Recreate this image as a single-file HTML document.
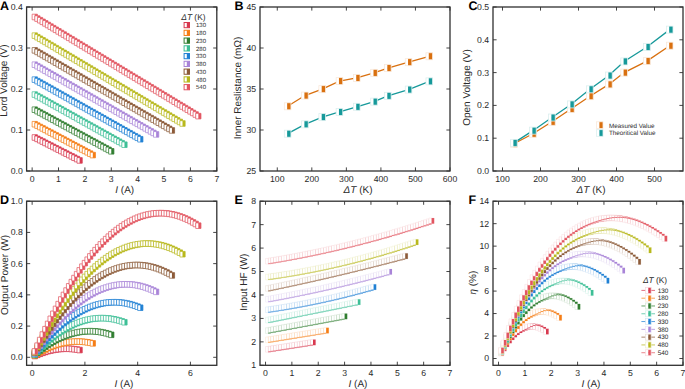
<!DOCTYPE html>
<html><head><meta charset="utf-8"><style>
html,body{margin:0;padding:0;background:#fff;width:685px;height:389px;overflow:hidden}
svg{display:block}
text{font-family:"Liberation Sans",sans-serif;fill:#2a2a2a;text-rendering:geometricPrecision}
.tk{font-size:8.7px}
.at{font-size:10px}
.pl{font-size:12.5px;font-weight:bold;fill:#000}
.lg{font-size:6px}
.lg8{font-size:8.4px}
.lg6{font-size:6.4px}
.lgc{font-size:6.3px}
.a0o{fill:#fff;stroke:#d8394f;stroke-width:0.72px}.a0c{fill:#d8394f}.e0o{fill:#fff;stroke:#f7d7db;stroke-width:0.5px}.e0c{fill:#d8394f}.a1o{fill:#fff;stroke:#f57d15;stroke-width:0.72px}.a1c{fill:#f57d15}.e1o{fill:#fff;stroke:#fde5d0;stroke-width:0.5px}.e1c{fill:#f57d15}.a2o{fill:#fff;stroke:#2f7d2f;stroke-width:0.72px}.a2c{fill:#2f7d2f}.e2o{fill:#fff;stroke:#d5e5d5;stroke-width:0.5px}.e2c{fill:#2f7d2f}.a3o{fill:#fff;stroke:#3dbf96;stroke-width:0.72px}.a3c{fill:#3dbf96}.e3o{fill:#fff;stroke:#d8f2ea;stroke-width:0.5px}.e3c{fill:#3dbf96}.a4o{fill:#fff;stroke:#1f80d4;stroke-width:0.72px}.a4c{fill:#1f80d4}.e4o{fill:#fff;stroke:#d2e5f6;stroke-width:0.5px}.e4c{fill:#1f80d4}.a5o{fill:#fff;stroke:#a984d8;stroke-width:0.72px}.a5c{fill:#a984d8}.e5o{fill:#fff;stroke:#ede6f7;stroke-width:0.5px}.e5c{fill:#a984d8}.a6o{fill:#fff;stroke:#8c5a38;stroke-width:0.72px}.a6c{fill:#8c5a38}.e6o{fill:#fff;stroke:#e8ded7;stroke-width:0.5px}.e6c{fill:#8c5a38}.a7o{fill:#fff;stroke:#b8b81c;stroke-width:0.72px}.a7c{fill:#b8b81c}.e7o{fill:#fff;stroke:#f0f0d1;stroke-width:0.5px}.e7c{fill:#b8b81c}.a8o{fill:#fff;stroke:#e25560;stroke-width:0.72px}.a8c{fill:#e25560}.e8o{fill:#fff;stroke:#f9dddf;stroke-width:0.5px}.e8c{fill:#e25560}
</style></head><body>
<svg width="685" height="389" viewBox="0 0 685 389"><rect width="685" height="389" fill="#fff"/><text x="0.1" y="10.0" class="pl">A</text><text x="234.4" y="10.0" class="pl">B</text><text x="468.4" y="10.0" class="pl">C</text><text x="0.1" y="204.4" class="pl">D</text><text x="234.4" y="204.4" class="pl">E</text><text x="468.4" y="204.4" class="pl">F</text><rect x="26.6" y="7" width="190.2" height="164" fill="none" stroke="#303030" stroke-width="1.3"/><path d="M32.14 171v-3.6M32.14 7v3.6M58.52 171v-3.6M58.52 7v3.6M84.9 171v-3.6M84.9 7v3.6M111.28 171v-3.6M111.28 7v3.6M137.66 171v-3.6M137.66 7v3.6M164.04 171v-3.6M164.04 7v3.6M190.42 171v-3.6M190.42 7v3.6M216.8 171v-3.6M216.8 7v3.6M26.6 171h3.6M216.8 171h-3.6M26.6 130h3.6M216.8 130h-3.6M26.6 89h3.6M216.8 89h-3.6M26.6 48h3.6M216.8 48h-3.6M26.6 7h3.6M216.8 7h-3.6" stroke="#303030" stroke-width="0.9" fill="none"/><text x="32.14" y="181.9" text-anchor="middle" class="tk">0</text><text x="58.52" y="181.9" text-anchor="middle" class="tk">1</text><text x="84.9" y="181.9" text-anchor="middle" class="tk">2</text><text x="111.28" y="181.9" text-anchor="middle" class="tk">3</text><text x="137.66" y="181.9" text-anchor="middle" class="tk">4</text><text x="164.04" y="181.9" text-anchor="middle" class="tk">5</text><text x="190.42" y="181.9" text-anchor="middle" class="tk">6</text><text x="216.8" y="181.9" text-anchor="middle" class="tk">7</text><text x="22.8" y="173.9" text-anchor="end" class="tk">0.0</text><text x="22.8" y="132.9" text-anchor="end" class="tk">0.1</text><text x="22.8" y="91.9" text-anchor="end" class="tk">0.2</text><text x="22.8" y="50.9" text-anchor="end" class="tk">0.3</text><text x="22.8" y="9.9" text-anchor="end" class="tk">0.4</text><text transform="translate(6.8,80.6) rotate(-90)" text-anchor="middle" class="at">Lord Voltage (V)</text><text x="124.7" y="192.8" text-anchor="middle" class="at"><tspan font-style="italic">I</tspan> (A)</text><path class="a0o" d="M32.14 134.7h5.28v5.6h-5.28z"/><path class="a0c" d="M34.78 134.7h2.64v5.6h-2.64z"/><path class="a0o" d="M34.78 136.05h5.28v5.6h-5.28z"/><path class="a0c" d="M37.42 136.05h2.64v5.6h-2.64z"/><path class="a0o" d="M37.41 137.4h5.28v5.6h-5.28z"/><path class="a0c" d="M40.05 137.4h2.64v5.6h-2.64z"/><path class="a0o" d="M40.05 138.74h5.28v5.6h-5.28z"/><path class="a0c" d="M42.69 138.74h2.64v5.6h-2.64z"/><path class="a0o" d="M42.69 140.09h5.28v5.6h-5.28z"/><path class="a0c" d="M45.33 140.09h2.64v5.6h-2.64z"/><path class="a0o" d="M45.33 141.44h5.28v5.6h-5.28z"/><path class="a0c" d="M47.97 141.44h2.64v5.6h-2.64z"/><path class="a0o" d="M47.97 142.79h5.28v5.6h-5.28z"/><path class="a0c" d="M50.61 142.79h2.64v5.6h-2.64z"/><path class="a0o" d="M50.6 144.14h5.28v5.6h-5.28z"/><path class="a0c" d="M53.24 144.14h2.64v5.6h-2.64z"/><path class="a0o" d="M53.24 145.49h5.28v5.6h-5.28z"/><path class="a0c" d="M55.88 145.49h2.64v5.6h-2.64z"/><path class="a0o" d="M55.88 146.83h5.28v5.6h-5.28z"/><path class="a0c" d="M58.52 146.83h2.64v5.6h-2.64z"/><path class="a0o" d="M58.52 148.18h5.28v5.6h-5.28z"/><path class="a0c" d="M61.16 148.18h2.64v5.6h-2.64z"/><path class="a0o" d="M61.16 149.53h5.28v5.6h-5.28z"/><path class="a0c" d="M63.8 149.53h2.64v5.6h-2.64z"/><path class="a0o" d="M63.79 150.88h5.28v5.6h-5.28z"/><path class="a0c" d="M66.43 150.88h2.64v5.6h-2.64z"/><path class="a0o" d="M66.43 152.23h5.28v5.6h-5.28z"/><path class="a0c" d="M69.07 152.23h2.64v5.6h-2.64z"/><path class="a0o" d="M69.07 153.58h5.28v5.6h-5.28z"/><path class="a0c" d="M71.71 153.58h2.64v5.6h-2.64z"/><path class="a0o" d="M71.71 154.93h5.28v5.6h-5.28z"/><path class="a0c" d="M74.35 154.93h2.64v5.6h-2.64z"/><path class="a0o" d="M74.35 156.27h5.28v5.6h-5.28z"/><path class="a0c" d="M76.99 156.27h2.64v5.6h-2.64z"/><path class="a0o" d="M76.98 157.62h5.28v5.6h-5.28z"/><path class="a0c" d="M79.62 157.62h2.64v5.6h-2.64z"/><path class="a1o" d="M32.14 121.43h5.28v5.6h-5.28z"/><path class="a1c" d="M34.78 121.43h2.64v5.6h-2.64z"/><path class="a1o" d="M34.78 122.83h5.28v5.6h-5.28z"/><path class="a1c" d="M37.42 122.83h2.64v5.6h-2.64z"/><path class="a1o" d="M37.41 124.23h5.28v5.6h-5.28z"/><path class="a1c" d="M40.05 124.23h2.64v5.6h-2.64z"/><path class="a1o" d="M40.05 125.63h5.28v5.6h-5.28z"/><path class="a1c" d="M42.69 125.63h2.64v5.6h-2.64z"/><path class="a1o" d="M42.69 127.04h5.28v5.6h-5.28z"/><path class="a1c" d="M45.33 127.04h2.64v5.6h-2.64z"/><path class="a1o" d="M45.33 128.44h5.28v5.6h-5.28z"/><path class="a1c" d="M47.97 128.44h2.64v5.6h-2.64z"/><path class="a1o" d="M47.97 129.84h5.28v5.6h-5.28z"/><path class="a1c" d="M50.61 129.84h2.64v5.6h-2.64z"/><path class="a1o" d="M50.6 131.24h5.28v5.6h-5.28z"/><path class="a1c" d="M53.24 131.24h2.64v5.6h-2.64z"/><path class="a1o" d="M53.24 132.64h5.28v5.6h-5.28z"/><path class="a1c" d="M55.88 132.64h2.64v5.6h-2.64z"/><path class="a1o" d="M55.88 134.05h5.28v5.6h-5.28z"/><path class="a1c" d="M58.52 134.05h2.64v5.6h-2.64z"/><path class="a1o" d="M58.52 135.45h5.28v5.6h-5.28z"/><path class="a1c" d="M61.16 135.45h2.64v5.6h-2.64z"/><path class="a1o" d="M61.16 136.85h5.28v5.6h-5.28z"/><path class="a1c" d="M63.8 136.85h2.64v5.6h-2.64z"/><path class="a1o" d="M63.79 138.25h5.28v5.6h-5.28z"/><path class="a1c" d="M66.43 138.25h2.64v5.6h-2.64z"/><path class="a1o" d="M66.43 139.66h5.28v5.6h-5.28z"/><path class="a1c" d="M69.07 139.66h2.64v5.6h-2.64z"/><path class="a1o" d="M69.07 141.06h5.28v5.6h-5.28z"/><path class="a1c" d="M71.71 141.06h2.64v5.6h-2.64z"/><path class="a1o" d="M71.71 142.46h5.28v5.6h-5.28z"/><path class="a1c" d="M74.35 142.46h2.64v5.6h-2.64z"/><path class="a1o" d="M74.35 143.86h5.28v5.6h-5.28z"/><path class="a1c" d="M76.99 143.86h2.64v5.6h-2.64z"/><path class="a1o" d="M76.98 145.26h5.28v5.6h-5.28z"/><path class="a1c" d="M79.62 145.26h2.64v5.6h-2.64z"/><path class="a1o" d="M79.62 146.67h5.28v5.6h-5.28z"/><path class="a1c" d="M82.26 146.67h2.64v5.6h-2.64z"/><path class="a1o" d="M82.26 148.07h5.28v5.6h-5.28z"/><path class="a1c" d="M84.9 148.07h2.64v5.6h-2.64z"/><path class="a1o" d="M84.9 149.47h5.28v5.6h-5.28z"/><path class="a1c" d="M87.54 149.47h2.64v5.6h-2.64z"/><path class="a1o" d="M87.54 150.87h5.28v5.6h-5.28z"/><path class="a1c" d="M90.18 150.87h2.64v5.6h-2.64z"/><path class="a1o" d="M90.17 152.28h5.28v5.6h-5.28z"/><path class="a1c" d="M92.81 152.28h2.64v5.6h-2.64z"/><path class="a2o" d="M32.14 106.9h5.28v5.6h-5.28z"/><path class="a2c" d="M34.78 106.9h2.64v5.6h-2.64z"/><path class="a2o" d="M34.78 108.34h5.28v5.6h-5.28z"/><path class="a2c" d="M37.42 108.34h2.64v5.6h-2.64z"/><path class="a2o" d="M37.41 109.77h5.28v5.6h-5.28z"/><path class="a2c" d="M40.05 109.77h2.64v5.6h-2.64z"/><path class="a2o" d="M40.05 111.21h5.28v5.6h-5.28z"/><path class="a2c" d="M42.69 111.21h2.64v5.6h-2.64z"/><path class="a2o" d="M42.69 112.64h5.28v5.6h-5.28z"/><path class="a2c" d="M45.33 112.64h2.64v5.6h-2.64z"/><path class="a2o" d="M45.33 114.08h5.28v5.6h-5.28z"/><path class="a2c" d="M47.97 114.08h2.64v5.6h-2.64z"/><path class="a2o" d="M47.97 115.51h5.28v5.6h-5.28z"/><path class="a2c" d="M50.61 115.51h2.64v5.6h-2.64z"/><path class="a2o" d="M50.6 116.94h5.28v5.6h-5.28z"/><path class="a2c" d="M53.24 116.94h2.64v5.6h-2.64z"/><path class="a2o" d="M53.24 118.38h5.28v5.6h-5.28z"/><path class="a2c" d="M55.88 118.38h2.64v5.6h-2.64z"/><path class="a2o" d="M55.88 119.81h5.28v5.6h-5.28z"/><path class="a2c" d="M58.52 119.81h2.64v5.6h-2.64z"/><path class="a2o" d="M58.52 121.25h5.28v5.6h-5.28z"/><path class="a2c" d="M61.16 121.25h2.64v5.6h-2.64z"/><path class="a2o" d="M61.16 122.68h5.28v5.6h-5.28z"/><path class="a2c" d="M63.8 122.68h2.64v5.6h-2.64z"/><path class="a2o" d="M63.79 124.11h5.28v5.6h-5.28z"/><path class="a2c" d="M66.43 124.11h2.64v5.6h-2.64z"/><path class="a2o" d="M66.43 125.55h5.28v5.6h-5.28z"/><path class="a2c" d="M69.07 125.55h2.64v5.6h-2.64z"/><path class="a2o" d="M69.07 126.98h5.28v5.6h-5.28z"/><path class="a2c" d="M71.71 126.98h2.64v5.6h-2.64z"/><path class="a2o" d="M71.71 128.42h5.28v5.6h-5.28z"/><path class="a2c" d="M74.35 128.42h2.64v5.6h-2.64z"/><path class="a2o" d="M74.35 129.85h5.28v5.6h-5.28z"/><path class="a2c" d="M76.99 129.85h2.64v5.6h-2.64z"/><path class="a2o" d="M76.98 131.29h5.28v5.6h-5.28z"/><path class="a2c" d="M79.62 131.29h2.64v5.6h-2.64z"/><path class="a2o" d="M79.62 132.72h5.28v5.6h-5.28z"/><path class="a2c" d="M82.26 132.72h2.64v5.6h-2.64z"/><path class="a2o" d="M82.26 134.15h5.28v5.6h-5.28z"/><path class="a2c" d="M84.9 134.15h2.64v5.6h-2.64z"/><path class="a2o" d="M84.9 135.59h5.28v5.6h-5.28z"/><path class="a2c" d="M87.54 135.59h2.64v5.6h-2.64z"/><path class="a2o" d="M87.54 137.02h5.28v5.6h-5.28z"/><path class="a2c" d="M90.18 137.02h2.64v5.6h-2.64z"/><path class="a2o" d="M90.17 138.46h5.28v5.6h-5.28z"/><path class="a2c" d="M92.81 138.46h2.64v5.6h-2.64z"/><path class="a2o" d="M92.81 139.89h5.28v5.6h-5.28z"/><path class="a2c" d="M95.45 139.89h2.64v5.6h-2.64z"/><path class="a2o" d="M95.45 141.32h5.28v5.6h-5.28z"/><path class="a2c" d="M98.09 141.32h2.64v5.6h-2.64z"/><path class="a2o" d="M98.09 142.76h5.28v5.6h-5.28z"/><path class="a2c" d="M100.73 142.76h2.64v5.6h-2.64z"/><path class="a2o" d="M100.73 144.19h5.28v5.6h-5.28z"/><path class="a2c" d="M103.37 144.19h2.64v5.6h-2.64z"/><path class="a2o" d="M103.36 145.63h5.28v5.6h-5.28z"/><path class="a2c" d="M106 145.63h2.64v5.6h-2.64z"/><path class="a2o" d="M106 147.06h5.28v5.6h-5.28z"/><path class="a2c" d="M108.64 147.06h2.64v5.6h-2.64z"/><path class="a2o" d="M108.64 148.5h5.28v5.6h-5.28z"/><path class="a2c" d="M111.28 148.5h2.64v5.6h-2.64z"/><path class="a3o" d="M32.14 91.77h5.28v5.6h-5.28z"/><path class="a3c" d="M34.78 91.77h2.64v5.6h-2.64z"/><path class="a3o" d="M34.78 93.25h5.28v5.6h-5.28z"/><path class="a3c" d="M37.42 93.25h2.64v5.6h-2.64z"/><path class="a3o" d="M37.41 94.72h5.28v5.6h-5.28z"/><path class="a3c" d="M40.05 94.72h2.64v5.6h-2.64z"/><path class="a3o" d="M40.05 96.2h5.28v5.6h-5.28z"/><path class="a3c" d="M42.69 96.2h2.64v5.6h-2.64z"/><path class="a3o" d="M42.69 97.67h5.28v5.6h-5.28z"/><path class="a3c" d="M45.33 97.67h2.64v5.6h-2.64z"/><path class="a3o" d="M45.33 99.15h5.28v5.6h-5.28z"/><path class="a3c" d="M47.97 99.15h2.64v5.6h-2.64z"/><path class="a3o" d="M47.97 100.62h5.28v5.6h-5.28z"/><path class="a3c" d="M50.61 100.62h2.64v5.6h-2.64z"/><path class="a3o" d="M50.6 102.09h5.28v5.6h-5.28z"/><path class="a3c" d="M53.24 102.09h2.64v5.6h-2.64z"/><path class="a3o" d="M53.24 103.57h5.28v5.6h-5.28z"/><path class="a3c" d="M55.88 103.57h2.64v5.6h-2.64z"/><path class="a3o" d="M55.88 105.04h5.28v5.6h-5.28z"/><path class="a3c" d="M58.52 105.04h2.64v5.6h-2.64z"/><path class="a3o" d="M58.52 106.52h5.28v5.6h-5.28z"/><path class="a3c" d="M61.16 106.52h2.64v5.6h-2.64z"/><path class="a3o" d="M61.16 107.99h5.28v5.6h-5.28z"/><path class="a3c" d="M63.8 107.99h2.64v5.6h-2.64z"/><path class="a3o" d="M63.79 109.47h5.28v5.6h-5.28z"/><path class="a3c" d="M66.43 109.47h2.64v5.6h-2.64z"/><path class="a3o" d="M66.43 110.94h5.28v5.6h-5.28z"/><path class="a3c" d="M69.07 110.94h2.64v5.6h-2.64z"/><path class="a3o" d="M69.07 112.42h5.28v5.6h-5.28z"/><path class="a3c" d="M71.71 112.42h2.64v5.6h-2.64z"/><path class="a3o" d="M71.71 113.89h5.28v5.6h-5.28z"/><path class="a3c" d="M74.35 113.89h2.64v5.6h-2.64z"/><path class="a3o" d="M74.35 115.36h5.28v5.6h-5.28z"/><path class="a3c" d="M76.99 115.36h2.64v5.6h-2.64z"/><path class="a3o" d="M76.98 116.84h5.28v5.6h-5.28z"/><path class="a3c" d="M79.62 116.84h2.64v5.6h-2.64z"/><path class="a3o" d="M79.62 118.31h5.28v5.6h-5.28z"/><path class="a3c" d="M82.26 118.31h2.64v5.6h-2.64z"/><path class="a3o" d="M82.26 119.79h5.28v5.6h-5.28z"/><path class="a3c" d="M84.9 119.79h2.64v5.6h-2.64z"/><path class="a3o" d="M84.9 121.26h5.28v5.6h-5.28z"/><path class="a3c" d="M87.54 121.26h2.64v5.6h-2.64z"/><path class="a3o" d="M87.54 122.74h5.28v5.6h-5.28z"/><path class="a3c" d="M90.18 122.74h2.64v5.6h-2.64z"/><path class="a3o" d="M90.17 124.21h5.28v5.6h-5.28z"/><path class="a3c" d="M92.81 124.21h2.64v5.6h-2.64z"/><path class="a3o" d="M92.81 125.68h5.28v5.6h-5.28z"/><path class="a3c" d="M95.45 125.68h2.64v5.6h-2.64z"/><path class="a3o" d="M95.45 127.16h5.28v5.6h-5.28z"/><path class="a3c" d="M98.09 127.16h2.64v5.6h-2.64z"/><path class="a3o" d="M98.09 128.63h5.28v5.6h-5.28z"/><path class="a3c" d="M100.73 128.63h2.64v5.6h-2.64z"/><path class="a3o" d="M100.73 130.11h5.28v5.6h-5.28z"/><path class="a3c" d="M103.37 130.11h2.64v5.6h-2.64z"/><path class="a3o" d="M103.36 131.58h5.28v5.6h-5.28z"/><path class="a3c" d="M106 131.58h2.64v5.6h-2.64z"/><path class="a3o" d="M106 133.06h5.28v5.6h-5.28z"/><path class="a3c" d="M108.64 133.06h2.64v5.6h-2.64z"/><path class="a3o" d="M108.64 134.53h5.28v5.6h-5.28z"/><path class="a3c" d="M111.28 134.53h2.64v5.6h-2.64z"/><path class="a3o" d="M111.28 136.01h5.28v5.6h-5.28z"/><path class="a3c" d="M113.92 136.01h2.64v5.6h-2.64z"/><path class="a3o" d="M113.92 137.48h5.28v5.6h-5.28z"/><path class="a3c" d="M116.56 137.48h2.64v5.6h-2.64z"/><path class="a3o" d="M116.55 138.95h5.28v5.6h-5.28z"/><path class="a3c" d="M119.19 138.95h2.64v5.6h-2.64z"/><path class="a3o" d="M119.19 140.43h5.28v5.6h-5.28z"/><path class="a3c" d="M121.83 140.43h2.64v5.6h-2.64z"/><path class="a3o" d="M121.83 141.9h5.28v5.6h-5.28z"/><path class="a3c" d="M124.47 141.9h2.64v5.6h-2.64z"/><path class="a4o" d="M32.14 76.83h5.28v5.6h-5.28z"/><path class="a4c" d="M34.78 76.83h2.64v5.6h-2.64z"/><path class="a4o" d="M34.78 78.32h5.28v5.6h-5.28z"/><path class="a4c" d="M37.42 78.32h2.64v5.6h-2.64z"/><path class="a4o" d="M37.41 79.81h5.28v5.6h-5.28z"/><path class="a4c" d="M40.05 79.81h2.64v5.6h-2.64z"/><path class="a4o" d="M40.05 81.3h5.28v5.6h-5.28z"/><path class="a4c" d="M42.69 81.3h2.64v5.6h-2.64z"/><path class="a4o" d="M42.69 82.79h5.28v5.6h-5.28z"/><path class="a4c" d="M45.33 82.79h2.64v5.6h-2.64z"/><path class="a4o" d="M45.33 84.28h5.28v5.6h-5.28z"/><path class="a4c" d="M47.97 84.28h2.64v5.6h-2.64z"/><path class="a4o" d="M47.97 85.77h5.28v5.6h-5.28z"/><path class="a4c" d="M50.61 85.77h2.64v5.6h-2.64z"/><path class="a4o" d="M50.6 87.26h5.28v5.6h-5.28z"/><path class="a4c" d="M53.24 87.26h2.64v5.6h-2.64z"/><path class="a4o" d="M53.24 88.75h5.28v5.6h-5.28z"/><path class="a4c" d="M55.88 88.75h2.64v5.6h-2.64z"/><path class="a4o" d="M55.88 90.24h5.28v5.6h-5.28z"/><path class="a4c" d="M58.52 90.24h2.64v5.6h-2.64z"/><path class="a4o" d="M58.52 91.73h5.28v5.6h-5.28z"/><path class="a4c" d="M61.16 91.73h2.64v5.6h-2.64z"/><path class="a4o" d="M61.16 93.22h5.28v5.6h-5.28z"/><path class="a4c" d="M63.8 93.22h2.64v5.6h-2.64z"/><path class="a4o" d="M63.79 94.71h5.28v5.6h-5.28z"/><path class="a4c" d="M66.43 94.71h2.64v5.6h-2.64z"/><path class="a4o" d="M66.43 96.2h5.28v5.6h-5.28z"/><path class="a4c" d="M69.07 96.2h2.64v5.6h-2.64z"/><path class="a4o" d="M69.07 97.69h5.28v5.6h-5.28z"/><path class="a4c" d="M71.71 97.69h2.64v5.6h-2.64z"/><path class="a4o" d="M71.71 99.18h5.28v5.6h-5.28z"/><path class="a4c" d="M74.35 99.18h2.64v5.6h-2.64z"/><path class="a4o" d="M74.35 100.67h5.28v5.6h-5.28z"/><path class="a4c" d="M76.99 100.67h2.64v5.6h-2.64z"/><path class="a4o" d="M76.98 102.16h5.28v5.6h-5.28z"/><path class="a4c" d="M79.62 102.16h2.64v5.6h-2.64z"/><path class="a4o" d="M79.62 103.65h5.28v5.6h-5.28z"/><path class="a4c" d="M82.26 103.65h2.64v5.6h-2.64z"/><path class="a4o" d="M82.26 105.14h5.28v5.6h-5.28z"/><path class="a4c" d="M84.9 105.14h2.64v5.6h-2.64z"/><path class="a4o" d="M84.9 106.63h5.28v5.6h-5.28z"/><path class="a4c" d="M87.54 106.63h2.64v5.6h-2.64z"/><path class="a4o" d="M87.54 108.12h5.28v5.6h-5.28z"/><path class="a4c" d="M90.18 108.12h2.64v5.6h-2.64z"/><path class="a4o" d="M90.17 109.61h5.28v5.6h-5.28z"/><path class="a4c" d="M92.81 109.61h2.64v5.6h-2.64z"/><path class="a4o" d="M92.81 111.1h5.28v5.6h-5.28z"/><path class="a4c" d="M95.45 111.1h2.64v5.6h-2.64z"/><path class="a4o" d="M95.45 112.59h5.28v5.6h-5.28z"/><path class="a4c" d="M98.09 112.59h2.64v5.6h-2.64z"/><path class="a4o" d="M98.09 114.08h5.28v5.6h-5.28z"/><path class="a4c" d="M100.73 114.08h2.64v5.6h-2.64z"/><path class="a4o" d="M100.73 115.57h5.28v5.6h-5.28z"/><path class="a4c" d="M103.37 115.57h2.64v5.6h-2.64z"/><path class="a4o" d="M103.36 117.06h5.28v5.6h-5.28z"/><path class="a4c" d="M106 117.06h2.64v5.6h-2.64z"/><path class="a4o" d="M106 118.56h5.28v5.6h-5.28z"/><path class="a4c" d="M108.64 118.56h2.64v5.6h-2.64z"/><path class="a4o" d="M108.64 120.05h5.28v5.6h-5.28z"/><path class="a4c" d="M111.28 120.05h2.64v5.6h-2.64z"/><path class="a4o" d="M111.28 121.54h5.28v5.6h-5.28z"/><path class="a4c" d="M113.92 121.54h2.64v5.6h-2.64z"/><path class="a4o" d="M113.92 123.03h5.28v5.6h-5.28z"/><path class="a4c" d="M116.56 123.03h2.64v5.6h-2.64z"/><path class="a4o" d="M116.55 124.52h5.28v5.6h-5.28z"/><path class="a4c" d="M119.19 124.52h2.64v5.6h-2.64z"/><path class="a4o" d="M119.19 126.01h5.28v5.6h-5.28z"/><path class="a4c" d="M121.83 126.01h2.64v5.6h-2.64z"/><path class="a4o" d="M121.83 127.5h5.28v5.6h-5.28z"/><path class="a4c" d="M124.47 127.5h2.64v5.6h-2.64z"/><path class="a4o" d="M124.47 128.99h5.28v5.6h-5.28z"/><path class="a4c" d="M127.11 128.99h2.64v5.6h-2.64z"/><path class="a4o" d="M127.11 130.48h5.28v5.6h-5.28z"/><path class="a4c" d="M129.75 130.48h2.64v5.6h-2.64z"/><path class="a4o" d="M129.74 131.97h5.28v5.6h-5.28z"/><path class="a4c" d="M132.38 131.97h2.64v5.6h-2.64z"/><path class="a4o" d="M132.38 133.46h5.28v5.6h-5.28z"/><path class="a4c" d="M135.02 133.46h2.64v5.6h-2.64z"/><path class="a4o" d="M135.02 134.95h5.28v5.6h-5.28z"/><path class="a4c" d="M137.66 134.95h2.64v5.6h-2.64z"/><path class="a4o" d="M137.66 136.44h5.28v5.6h-5.28z"/><path class="a4c" d="M140.3 136.44h2.64v5.6h-2.64z"/><path class="a5o" d="M32.14 61.89h5.28v5.6h-5.28z"/><path class="a5c" d="M34.78 61.89h2.64v5.6h-2.64z"/><path class="a5o" d="M34.78 63.4h5.28v5.6h-5.28z"/><path class="a5c" d="M37.42 63.4h2.64v5.6h-2.64z"/><path class="a5o" d="M37.41 64.92h5.28v5.6h-5.28z"/><path class="a5c" d="M40.05 64.92h2.64v5.6h-2.64z"/><path class="a5o" d="M40.05 66.43h5.28v5.6h-5.28z"/><path class="a5c" d="M42.69 66.43h2.64v5.6h-2.64z"/><path class="a5o" d="M42.69 67.95h5.28v5.6h-5.28z"/><path class="a5c" d="M45.33 67.95h2.64v5.6h-2.64z"/><path class="a5o" d="M45.33 69.46h5.28v5.6h-5.28z"/><path class="a5c" d="M47.97 69.46h2.64v5.6h-2.64z"/><path class="a5o" d="M47.97 70.98h5.28v5.6h-5.28z"/><path class="a5c" d="M50.61 70.98h2.64v5.6h-2.64z"/><path class="a5o" d="M50.6 72.5h5.28v5.6h-5.28z"/><path class="a5c" d="M53.24 72.5h2.64v5.6h-2.64z"/><path class="a5o" d="M53.24 74.01h5.28v5.6h-5.28z"/><path class="a5c" d="M55.88 74.01h2.64v5.6h-2.64z"/><path class="a5o" d="M55.88 75.53h5.28v5.6h-5.28z"/><path class="a5c" d="M58.52 75.53h2.64v5.6h-2.64z"/><path class="a5o" d="M58.52 77.04h5.28v5.6h-5.28z"/><path class="a5c" d="M61.16 77.04h2.64v5.6h-2.64z"/><path class="a5o" d="M61.16 78.56h5.28v5.6h-5.28z"/><path class="a5c" d="M63.8 78.56h2.64v5.6h-2.64z"/><path class="a5o" d="M63.79 80.08h5.28v5.6h-5.28z"/><path class="a5c" d="M66.43 80.08h2.64v5.6h-2.64z"/><path class="a5o" d="M66.43 81.59h5.28v5.6h-5.28z"/><path class="a5c" d="M69.07 81.59h2.64v5.6h-2.64z"/><path class="a5o" d="M69.07 83.11h5.28v5.6h-5.28z"/><path class="a5c" d="M71.71 83.11h2.64v5.6h-2.64z"/><path class="a5o" d="M71.71 84.62h5.28v5.6h-5.28z"/><path class="a5c" d="M74.35 84.62h2.64v5.6h-2.64z"/><path class="a5o" d="M74.35 86.14h5.28v5.6h-5.28z"/><path class="a5c" d="M76.99 86.14h2.64v5.6h-2.64z"/><path class="a5o" d="M76.98 87.65h5.28v5.6h-5.28z"/><path class="a5c" d="M79.62 87.65h2.64v5.6h-2.64z"/><path class="a5o" d="M79.62 89.17h5.28v5.6h-5.28z"/><path class="a5c" d="M82.26 89.17h2.64v5.6h-2.64z"/><path class="a5o" d="M82.26 90.69h5.28v5.6h-5.28z"/><path class="a5c" d="M84.9 90.69h2.64v5.6h-2.64z"/><path class="a5o" d="M84.9 92.2h5.28v5.6h-5.28z"/><path class="a5c" d="M87.54 92.2h2.64v5.6h-2.64z"/><path class="a5o" d="M87.54 93.72h5.28v5.6h-5.28z"/><path class="a5c" d="M90.18 93.72h2.64v5.6h-2.64z"/><path class="a5o" d="M90.17 95.23h5.28v5.6h-5.28z"/><path class="a5c" d="M92.81 95.23h2.64v5.6h-2.64z"/><path class="a5o" d="M92.81 96.75h5.28v5.6h-5.28z"/><path class="a5c" d="M95.45 96.75h2.64v5.6h-2.64z"/><path class="a5o" d="M95.45 98.26h5.28v5.6h-5.28z"/><path class="a5c" d="M98.09 98.26h2.64v5.6h-2.64z"/><path class="a5o" d="M98.09 99.78h5.28v5.6h-5.28z"/><path class="a5c" d="M100.73 99.78h2.64v5.6h-2.64z"/><path class="a5o" d="M100.73 101.3h5.28v5.6h-5.28z"/><path class="a5c" d="M103.37 101.3h2.64v5.6h-2.64z"/><path class="a5o" d="M103.36 102.81h5.28v5.6h-5.28z"/><path class="a5c" d="M106 102.81h2.64v5.6h-2.64z"/><path class="a5o" d="M106 104.33h5.28v5.6h-5.28z"/><path class="a5c" d="M108.64 104.33h2.64v5.6h-2.64z"/><path class="a5o" d="M108.64 105.84h5.28v5.6h-5.28z"/><path class="a5c" d="M111.28 105.84h2.64v5.6h-2.64z"/><path class="a5o" d="M111.28 107.36h5.28v5.6h-5.28z"/><path class="a5c" d="M113.92 107.36h2.64v5.6h-2.64z"/><path class="a5o" d="M113.92 108.87h5.28v5.6h-5.28z"/><path class="a5c" d="M116.56 108.87h2.64v5.6h-2.64z"/><path class="a5o" d="M116.55 110.39h5.28v5.6h-5.28z"/><path class="a5c" d="M119.19 110.39h2.64v5.6h-2.64z"/><path class="a5o" d="M119.19 111.91h5.28v5.6h-5.28z"/><path class="a5c" d="M121.83 111.91h2.64v5.6h-2.64z"/><path class="a5o" d="M121.83 113.42h5.28v5.6h-5.28z"/><path class="a5c" d="M124.47 113.42h2.64v5.6h-2.64z"/><path class="a5o" d="M124.47 114.94h5.28v5.6h-5.28z"/><path class="a5c" d="M127.11 114.94h2.64v5.6h-2.64z"/><path class="a5o" d="M127.11 116.45h5.28v5.6h-5.28z"/><path class="a5c" d="M129.75 116.45h2.64v5.6h-2.64z"/><path class="a5o" d="M129.74 117.97h5.28v5.6h-5.28z"/><path class="a5c" d="M132.38 117.97h2.64v5.6h-2.64z"/><path class="a5o" d="M132.38 119.49h5.28v5.6h-5.28z"/><path class="a5c" d="M135.02 119.49h2.64v5.6h-2.64z"/><path class="a5o" d="M135.02 121h5.28v5.6h-5.28z"/><path class="a5c" d="M137.66 121h2.64v5.6h-2.64z"/><path class="a5o" d="M137.66 122.52h5.28v5.6h-5.28z"/><path class="a5c" d="M140.3 122.52h2.64v5.6h-2.64z"/><path class="a5o" d="M140.3 124.03h5.28v5.6h-5.28z"/><path class="a5c" d="M142.94 124.03h2.64v5.6h-2.64z"/><path class="a5o" d="M142.93 125.55h5.28v5.6h-5.28z"/><path class="a5c" d="M145.57 125.55h2.64v5.6h-2.64z"/><path class="a5o" d="M145.57 127.06h5.28v5.6h-5.28z"/><path class="a5c" d="M148.21 127.06h2.64v5.6h-2.64z"/><path class="a5o" d="M148.21 128.58h5.28v5.6h-5.28z"/><path class="a5c" d="M150.85 128.58h2.64v5.6h-2.64z"/><path class="a5o" d="M150.85 130.1h5.28v5.6h-5.28z"/><path class="a5c" d="M153.49 130.1h2.64v5.6h-2.64z"/><path class="a5o" d="M153.49 131.61h5.28v5.6h-5.28z"/><path class="a5c" d="M156.13 131.61h2.64v5.6h-2.64z"/><path class="a6o" d="M32.14 47.56h5.28v5.6h-5.28z"/><path class="a6c" d="M34.78 47.56h2.64v5.6h-2.64z"/><path class="a6o" d="M34.78 49.1h5.28v5.6h-5.28z"/><path class="a6c" d="M37.42 49.1h2.64v5.6h-2.64z"/><path class="a6o" d="M37.41 50.64h5.28v5.6h-5.28z"/><path class="a6c" d="M40.05 50.64h2.64v5.6h-2.64z"/><path class="a6o" d="M40.05 52.18h5.28v5.6h-5.28z"/><path class="a6c" d="M42.69 52.18h2.64v5.6h-2.64z"/><path class="a6o" d="M42.69 53.72h5.28v5.6h-5.28z"/><path class="a6c" d="M45.33 53.72h2.64v5.6h-2.64z"/><path class="a6o" d="M45.33 55.26h5.28v5.6h-5.28z"/><path class="a6c" d="M47.97 55.26h2.64v5.6h-2.64z"/><path class="a6o" d="M47.97 56.8h5.28v5.6h-5.28z"/><path class="a6c" d="M50.61 56.8h2.64v5.6h-2.64z"/><path class="a6o" d="M50.6 58.34h5.28v5.6h-5.28z"/><path class="a6c" d="M53.24 58.34h2.64v5.6h-2.64z"/><path class="a6o" d="M53.24 59.88h5.28v5.6h-5.28z"/><path class="a6c" d="M55.88 59.88h2.64v5.6h-2.64z"/><path class="a6o" d="M55.88 61.42h5.28v5.6h-5.28z"/><path class="a6c" d="M58.52 61.42h2.64v5.6h-2.64z"/><path class="a6o" d="M58.52 62.96h5.28v5.6h-5.28z"/><path class="a6c" d="M61.16 62.96h2.64v5.6h-2.64z"/><path class="a6o" d="M61.16 64.49h5.28v5.6h-5.28z"/><path class="a6c" d="M63.8 64.49h2.64v5.6h-2.64z"/><path class="a6o" d="M63.79 66.03h5.28v5.6h-5.28z"/><path class="a6c" d="M66.43 66.03h2.64v5.6h-2.64z"/><path class="a6o" d="M66.43 67.57h5.28v5.6h-5.28z"/><path class="a6c" d="M69.07 67.57h2.64v5.6h-2.64z"/><path class="a6o" d="M69.07 69.11h5.28v5.6h-5.28z"/><path class="a6c" d="M71.71 69.11h2.64v5.6h-2.64z"/><path class="a6o" d="M71.71 70.65h5.28v5.6h-5.28z"/><path class="a6c" d="M74.35 70.65h2.64v5.6h-2.64z"/><path class="a6o" d="M74.35 72.19h5.28v5.6h-5.28z"/><path class="a6c" d="M76.99 72.19h2.64v5.6h-2.64z"/><path class="a6o" d="M76.98 73.73h5.28v5.6h-5.28z"/><path class="a6c" d="M79.62 73.73h2.64v5.6h-2.64z"/><path class="a6o" d="M79.62 75.27h5.28v5.6h-5.28z"/><path class="a6c" d="M82.26 75.27h2.64v5.6h-2.64z"/><path class="a6o" d="M82.26 76.81h5.28v5.6h-5.28z"/><path class="a6c" d="M84.9 76.81h2.64v5.6h-2.64z"/><path class="a6o" d="M84.9 78.35h5.28v5.6h-5.28z"/><path class="a6c" d="M87.54 78.35h2.64v5.6h-2.64z"/><path class="a6o" d="M87.54 79.89h5.28v5.6h-5.28z"/><path class="a6c" d="M90.18 79.89h2.64v5.6h-2.64z"/><path class="a6o" d="M90.17 81.43h5.28v5.6h-5.28z"/><path class="a6c" d="M92.81 81.43h2.64v5.6h-2.64z"/><path class="a6o" d="M92.81 82.97h5.28v5.6h-5.28z"/><path class="a6c" d="M95.45 82.97h2.64v5.6h-2.64z"/><path class="a6o" d="M95.45 84.51h5.28v5.6h-5.28z"/><path class="a6c" d="M98.09 84.51h2.64v5.6h-2.64z"/><path class="a6o" d="M98.09 86.05h5.28v5.6h-5.28z"/><path class="a6c" d="M100.73 86.05h2.64v5.6h-2.64z"/><path class="a6o" d="M100.73 87.59h5.28v5.6h-5.28z"/><path class="a6c" d="M103.37 87.59h2.64v5.6h-2.64z"/><path class="a6o" d="M103.36 89.13h5.28v5.6h-5.28z"/><path class="a6c" d="M106 89.13h2.64v5.6h-2.64z"/><path class="a6o" d="M106 90.67h5.28v5.6h-5.28z"/><path class="a6c" d="M108.64 90.67h2.64v5.6h-2.64z"/><path class="a6o" d="M108.64 92.21h5.28v5.6h-5.28z"/><path class="a6c" d="M111.28 92.21h2.64v5.6h-2.64z"/><path class="a6o" d="M111.28 93.75h5.28v5.6h-5.28z"/><path class="a6c" d="M113.92 93.75h2.64v5.6h-2.64z"/><path class="a6o" d="M113.92 95.29h5.28v5.6h-5.28z"/><path class="a6c" d="M116.56 95.29h2.64v5.6h-2.64z"/><path class="a6o" d="M116.55 96.83h5.28v5.6h-5.28z"/><path class="a6c" d="M119.19 96.83h2.64v5.6h-2.64z"/><path class="a6o" d="M119.19 98.36h5.28v5.6h-5.28z"/><path class="a6c" d="M121.83 98.36h2.64v5.6h-2.64z"/><path class="a6o" d="M121.83 99.9h5.28v5.6h-5.28z"/><path class="a6c" d="M124.47 99.9h2.64v5.6h-2.64z"/><path class="a6o" d="M124.47 101.44h5.28v5.6h-5.28z"/><path class="a6c" d="M127.11 101.44h2.64v5.6h-2.64z"/><path class="a6o" d="M127.11 102.98h5.28v5.6h-5.28z"/><path class="a6c" d="M129.75 102.98h2.64v5.6h-2.64z"/><path class="a6o" d="M129.74 104.52h5.28v5.6h-5.28z"/><path class="a6c" d="M132.38 104.52h2.64v5.6h-2.64z"/><path class="a6o" d="M132.38 106.06h5.28v5.6h-5.28z"/><path class="a6c" d="M135.02 106.06h2.64v5.6h-2.64z"/><path class="a6o" d="M135.02 107.6h5.28v5.6h-5.28z"/><path class="a6c" d="M137.66 107.6h2.64v5.6h-2.64z"/><path class="a6o" d="M137.66 109.14h5.28v5.6h-5.28z"/><path class="a6c" d="M140.3 109.14h2.64v5.6h-2.64z"/><path class="a6o" d="M140.3 110.68h5.28v5.6h-5.28z"/><path class="a6c" d="M142.94 110.68h2.64v5.6h-2.64z"/><path class="a6o" d="M142.93 112.22h5.28v5.6h-5.28z"/><path class="a6c" d="M145.57 112.22h2.64v5.6h-2.64z"/><path class="a6o" d="M145.57 113.76h5.28v5.6h-5.28z"/><path class="a6c" d="M148.21 113.76h2.64v5.6h-2.64z"/><path class="a6o" d="M148.21 115.3h5.28v5.6h-5.28z"/><path class="a6c" d="M150.85 115.3h2.64v5.6h-2.64z"/><path class="a6o" d="M150.85 116.84h5.28v5.6h-5.28z"/><path class="a6c" d="M153.49 116.84h2.64v5.6h-2.64z"/><path class="a6o" d="M153.49 118.38h5.28v5.6h-5.28z"/><path class="a6c" d="M156.13 118.38h2.64v5.6h-2.64z"/><path class="a6o" d="M156.12 119.92h5.28v5.6h-5.28z"/><path class="a6c" d="M158.76 119.92h2.64v5.6h-2.64z"/><path class="a6o" d="M158.76 121.46h5.28v5.6h-5.28z"/><path class="a6c" d="M161.4 121.46h2.64v5.6h-2.64z"/><path class="a6o" d="M161.4 123h5.28v5.6h-5.28z"/><path class="a6c" d="M164.04 123h2.64v5.6h-2.64z"/><path class="a6o" d="M164.04 124.54h5.28v5.6h-5.28z"/><path class="a6c" d="M166.68 124.54h2.64v5.6h-2.64z"/><path class="a6o" d="M166.68 126.08h5.28v5.6h-5.28z"/><path class="a6c" d="M169.32 126.08h2.64v5.6h-2.64z"/><path class="a6o" d="M169.31 127.62h5.28v5.6h-5.28z"/><path class="a6c" d="M171.95 127.62h2.64v5.6h-2.64z"/><path class="a7o" d="M32.14 32.83h5.28v5.6h-5.28z"/><path class="a7c" d="M34.78 32.83h2.64v5.6h-2.64z"/><path class="a7o" d="M34.78 34.4h5.28v5.6h-5.28z"/><path class="a7c" d="M37.42 34.4h2.64v5.6h-2.64z"/><path class="a7o" d="M37.41 35.97h5.28v5.6h-5.28z"/><path class="a7c" d="M40.05 35.97h2.64v5.6h-2.64z"/><path class="a7o" d="M40.05 37.54h5.28v5.6h-5.28z"/><path class="a7c" d="M42.69 37.54h2.64v5.6h-2.64z"/><path class="a7o" d="M42.69 39.11h5.28v5.6h-5.28z"/><path class="a7c" d="M45.33 39.11h2.64v5.6h-2.64z"/><path class="a7o" d="M45.33 40.67h5.28v5.6h-5.28z"/><path class="a7c" d="M47.97 40.67h2.64v5.6h-2.64z"/><path class="a7o" d="M47.97 42.24h5.28v5.6h-5.28z"/><path class="a7c" d="M50.61 42.24h2.64v5.6h-2.64z"/><path class="a7o" d="M50.6 43.81h5.28v5.6h-5.28z"/><path class="a7c" d="M53.24 43.81h2.64v5.6h-2.64z"/><path class="a7o" d="M53.24 45.38h5.28v5.6h-5.28z"/><path class="a7c" d="M55.88 45.38h2.64v5.6h-2.64z"/><path class="a7o" d="M55.88 46.95h5.28v5.6h-5.28z"/><path class="a7c" d="M58.52 46.95h2.64v5.6h-2.64z"/><path class="a7o" d="M58.52 48.52h5.28v5.6h-5.28z"/><path class="a7c" d="M61.16 48.52h2.64v5.6h-2.64z"/><path class="a7o" d="M61.16 50.09h5.28v5.6h-5.28z"/><path class="a7c" d="M63.8 50.09h2.64v5.6h-2.64z"/><path class="a7o" d="M63.79 51.66h5.28v5.6h-5.28z"/><path class="a7c" d="M66.43 51.66h2.64v5.6h-2.64z"/><path class="a7o" d="M66.43 53.23h5.28v5.6h-5.28z"/><path class="a7c" d="M69.07 53.23h2.64v5.6h-2.64z"/><path class="a7o" d="M69.07 54.8h5.28v5.6h-5.28z"/><path class="a7c" d="M71.71 54.8h2.64v5.6h-2.64z"/><path class="a7o" d="M71.71 56.37h5.28v5.6h-5.28z"/><path class="a7c" d="M74.35 56.37h2.64v5.6h-2.64z"/><path class="a7o" d="M74.35 57.93h5.28v5.6h-5.28z"/><path class="a7c" d="M76.99 57.93h2.64v5.6h-2.64z"/><path class="a7o" d="M76.98 59.5h5.28v5.6h-5.28z"/><path class="a7c" d="M79.62 59.5h2.64v5.6h-2.64z"/><path class="a7o" d="M79.62 61.07h5.28v5.6h-5.28z"/><path class="a7c" d="M82.26 61.07h2.64v5.6h-2.64z"/><path class="a7o" d="M82.26 62.64h5.28v5.6h-5.28z"/><path class="a7c" d="M84.9 62.64h2.64v5.6h-2.64z"/><path class="a7o" d="M84.9 64.21h5.28v5.6h-5.28z"/><path class="a7c" d="M87.54 64.21h2.64v5.6h-2.64z"/><path class="a7o" d="M87.54 65.78h5.28v5.6h-5.28z"/><path class="a7c" d="M90.18 65.78h2.64v5.6h-2.64z"/><path class="a7o" d="M90.17 67.35h5.28v5.6h-5.28z"/><path class="a7c" d="M92.81 67.35h2.64v5.6h-2.64z"/><path class="a7o" d="M92.81 68.92h5.28v5.6h-5.28z"/><path class="a7c" d="M95.45 68.92h2.64v5.6h-2.64z"/><path class="a7o" d="M95.45 70.49h5.28v5.6h-5.28z"/><path class="a7c" d="M98.09 70.49h2.64v5.6h-2.64z"/><path class="a7o" d="M98.09 72.06h5.28v5.6h-5.28z"/><path class="a7c" d="M100.73 72.06h2.64v5.6h-2.64z"/><path class="a7o" d="M100.73 73.62h5.28v5.6h-5.28z"/><path class="a7c" d="M103.37 73.62h2.64v5.6h-2.64z"/><path class="a7o" d="M103.36 75.19h5.28v5.6h-5.28z"/><path class="a7c" d="M106 75.19h2.64v5.6h-2.64z"/><path class="a7o" d="M106 76.76h5.28v5.6h-5.28z"/><path class="a7c" d="M108.64 76.76h2.64v5.6h-2.64z"/><path class="a7o" d="M108.64 78.33h5.28v5.6h-5.28z"/><path class="a7c" d="M111.28 78.33h2.64v5.6h-2.64z"/><path class="a7o" d="M111.28 79.9h5.28v5.6h-5.28z"/><path class="a7c" d="M113.92 79.9h2.64v5.6h-2.64z"/><path class="a7o" d="M113.92 81.47h5.28v5.6h-5.28z"/><path class="a7c" d="M116.56 81.47h2.64v5.6h-2.64z"/><path class="a7o" d="M116.55 83.04h5.28v5.6h-5.28z"/><path class="a7c" d="M119.19 83.04h2.64v5.6h-2.64z"/><path class="a7o" d="M119.19 84.61h5.28v5.6h-5.28z"/><path class="a7c" d="M121.83 84.61h2.64v5.6h-2.64z"/><path class="a7o" d="M121.83 86.18h5.28v5.6h-5.28z"/><path class="a7c" d="M124.47 86.18h2.64v5.6h-2.64z"/><path class="a7o" d="M124.47 87.75h5.28v5.6h-5.28z"/><path class="a7c" d="M127.11 87.75h2.64v5.6h-2.64z"/><path class="a7o" d="M127.11 89.32h5.28v5.6h-5.28z"/><path class="a7c" d="M129.75 89.32h2.64v5.6h-2.64z"/><path class="a7o" d="M129.74 90.88h5.28v5.6h-5.28z"/><path class="a7c" d="M132.38 90.88h2.64v5.6h-2.64z"/><path class="a7o" d="M132.38 92.45h5.28v5.6h-5.28z"/><path class="a7c" d="M135.02 92.45h2.64v5.6h-2.64z"/><path class="a7o" d="M135.02 94.02h5.28v5.6h-5.28z"/><path class="a7c" d="M137.66 94.02h2.64v5.6h-2.64z"/><path class="a7o" d="M137.66 95.59h5.28v5.6h-5.28z"/><path class="a7c" d="M140.3 95.59h2.64v5.6h-2.64z"/><path class="a7o" d="M140.3 97.16h5.28v5.6h-5.28z"/><path class="a7c" d="M142.94 97.16h2.64v5.6h-2.64z"/><path class="a7o" d="M142.93 98.73h5.28v5.6h-5.28z"/><path class="a7c" d="M145.57 98.73h2.64v5.6h-2.64z"/><path class="a7o" d="M145.57 100.3h5.28v5.6h-5.28z"/><path class="a7c" d="M148.21 100.3h2.64v5.6h-2.64z"/><path class="a7o" d="M148.21 101.87h5.28v5.6h-5.28z"/><path class="a7c" d="M150.85 101.87h2.64v5.6h-2.64z"/><path class="a7o" d="M150.85 103.44h5.28v5.6h-5.28z"/><path class="a7c" d="M153.49 103.44h2.64v5.6h-2.64z"/><path class="a7o" d="M153.49 105.01h5.28v5.6h-5.28z"/><path class="a7c" d="M156.13 105.01h2.64v5.6h-2.64z"/><path class="a7o" d="M156.12 106.58h5.28v5.6h-5.28z"/><path class="a7c" d="M158.76 106.58h2.64v5.6h-2.64z"/><path class="a7o" d="M158.76 108.14h5.28v5.6h-5.28z"/><path class="a7c" d="M161.4 108.14h2.64v5.6h-2.64z"/><path class="a7o" d="M161.4 109.71h5.28v5.6h-5.28z"/><path class="a7c" d="M164.04 109.71h2.64v5.6h-2.64z"/><path class="a7o" d="M164.04 111.28h5.28v5.6h-5.28z"/><path class="a7c" d="M166.68 111.28h2.64v5.6h-2.64z"/><path class="a7o" d="M166.68 112.85h5.28v5.6h-5.28z"/><path class="a7c" d="M169.32 112.85h2.64v5.6h-2.64z"/><path class="a7o" d="M169.31 114.42h5.28v5.6h-5.28z"/><path class="a7c" d="M171.95 114.42h2.64v5.6h-2.64z"/><path class="a7o" d="M171.95 115.99h5.28v5.6h-5.28z"/><path class="a7c" d="M174.59 115.99h2.64v5.6h-2.64z"/><path class="a7o" d="M174.59 117.56h5.28v5.6h-5.28z"/><path class="a7c" d="M177.23 117.56h2.64v5.6h-2.64z"/><path class="a7o" d="M177.23 119.13h5.28v5.6h-5.28z"/><path class="a7c" d="M179.87 119.13h2.64v5.6h-2.64z"/><path class="a7o" d="M179.87 120.7h5.28v5.6h-5.28z"/><path class="a7c" d="M182.51 120.7h2.64v5.6h-2.64z"/><path class="a8o" d="M32.14 14.2h5.28v5.6h-5.28z"/><path class="a8c" d="M34.78 14.2h2.64v5.6h-2.64z"/><path class="a8o" d="M34.78 15.8h5.28v5.6h-5.28z"/><path class="a8c" d="M37.42 15.8h2.64v5.6h-2.64z"/><path class="a8o" d="M37.41 17.4h5.28v5.6h-5.28z"/><path class="a8c" d="M40.05 17.4h2.64v5.6h-2.64z"/><path class="a8o" d="M40.05 19h5.28v5.6h-5.28z"/><path class="a8c" d="M42.69 19h2.64v5.6h-2.64z"/><path class="a8o" d="M42.69 20.6h5.28v5.6h-5.28z"/><path class="a8c" d="M45.33 20.6h2.64v5.6h-2.64z"/><path class="a8o" d="M45.33 22.2h5.28v5.6h-5.28z"/><path class="a8c" d="M47.97 22.2h2.64v5.6h-2.64z"/><path class="a8o" d="M47.97 23.8h5.28v5.6h-5.28z"/><path class="a8c" d="M50.61 23.8h2.64v5.6h-2.64z"/><path class="a8o" d="M50.6 25.39h5.28v5.6h-5.28z"/><path class="a8c" d="M53.24 25.39h2.64v5.6h-2.64z"/><path class="a8o" d="M53.24 26.99h5.28v5.6h-5.28z"/><path class="a8c" d="M55.88 26.99h2.64v5.6h-2.64z"/><path class="a8o" d="M55.88 28.59h5.28v5.6h-5.28z"/><path class="a8c" d="M58.52 28.59h2.64v5.6h-2.64z"/><path class="a8o" d="M58.52 30.19h5.28v5.6h-5.28z"/><path class="a8c" d="M61.16 30.19h2.64v5.6h-2.64z"/><path class="a8o" d="M61.16 31.79h5.28v5.6h-5.28z"/><path class="a8c" d="M63.8 31.79h2.64v5.6h-2.64z"/><path class="a8o" d="M63.79 33.39h5.28v5.6h-5.28z"/><path class="a8c" d="M66.43 33.39h2.64v5.6h-2.64z"/><path class="a8o" d="M66.43 34.99h5.28v5.6h-5.28z"/><path class="a8c" d="M69.07 34.99h2.64v5.6h-2.64z"/><path class="a8o" d="M69.07 36.58h5.28v5.6h-5.28z"/><path class="a8c" d="M71.71 36.58h2.64v5.6h-2.64z"/><path class="a8o" d="M71.71 38.18h5.28v5.6h-5.28z"/><path class="a8c" d="M74.35 38.18h2.64v5.6h-2.64z"/><path class="a8o" d="M74.35 39.78h5.28v5.6h-5.28z"/><path class="a8c" d="M76.99 39.78h2.64v5.6h-2.64z"/><path class="a8o" d="M76.98 41.38h5.28v5.6h-5.28z"/><path class="a8c" d="M79.62 41.38h2.64v5.6h-2.64z"/><path class="a8o" d="M79.62 42.98h5.28v5.6h-5.28z"/><path class="a8c" d="M82.26 42.98h2.64v5.6h-2.64z"/><path class="a8o" d="M82.26 44.58h5.28v5.6h-5.28z"/><path class="a8c" d="M84.9 44.58h2.64v5.6h-2.64z"/><path class="a8o" d="M84.9 46.18h5.28v5.6h-5.28z"/><path class="a8c" d="M87.54 46.18h2.64v5.6h-2.64z"/><path class="a8o" d="M87.54 47.77h5.28v5.6h-5.28z"/><path class="a8c" d="M90.18 47.77h2.64v5.6h-2.64z"/><path class="a8o" d="M90.17 49.37h5.28v5.6h-5.28z"/><path class="a8c" d="M92.81 49.37h2.64v5.6h-2.64z"/><path class="a8o" d="M92.81 50.97h5.28v5.6h-5.28z"/><path class="a8c" d="M95.45 50.97h2.64v5.6h-2.64z"/><path class="a8o" d="M95.45 52.57h5.28v5.6h-5.28z"/><path class="a8c" d="M98.09 52.57h2.64v5.6h-2.64z"/><path class="a8o" d="M98.09 54.17h5.28v5.6h-5.28z"/><path class="a8c" d="M100.73 54.17h2.64v5.6h-2.64z"/><path class="a8o" d="M100.73 55.77h5.28v5.6h-5.28z"/><path class="a8c" d="M103.37 55.77h2.64v5.6h-2.64z"/><path class="a8o" d="M103.36 57.37h5.28v5.6h-5.28z"/><path class="a8c" d="M106 57.37h2.64v5.6h-2.64z"/><path class="a8o" d="M106 58.96h5.28v5.6h-5.28z"/><path class="a8c" d="M108.64 58.96h2.64v5.6h-2.64z"/><path class="a8o" d="M108.64 60.56h5.28v5.6h-5.28z"/><path class="a8c" d="M111.28 60.56h2.64v5.6h-2.64z"/><path class="a8o" d="M111.28 62.16h5.28v5.6h-5.28z"/><path class="a8c" d="M113.92 62.16h2.64v5.6h-2.64z"/><path class="a8o" d="M113.92 63.76h5.28v5.6h-5.28z"/><path class="a8c" d="M116.56 63.76h2.64v5.6h-2.64z"/><path class="a8o" d="M116.55 65.36h5.28v5.6h-5.28z"/><path class="a8c" d="M119.19 65.36h2.64v5.6h-2.64z"/><path class="a8o" d="M119.19 66.96h5.28v5.6h-5.28z"/><path class="a8c" d="M121.83 66.96h2.64v5.6h-2.64z"/><path class="a8o" d="M121.83 68.56h5.28v5.6h-5.28z"/><path class="a8c" d="M124.47 68.56h2.64v5.6h-2.64z"/><path class="a8o" d="M124.47 70.15h5.28v5.6h-5.28z"/><path class="a8c" d="M127.11 70.15h2.64v5.6h-2.64z"/><path class="a8o" d="M127.11 71.75h5.28v5.6h-5.28z"/><path class="a8c" d="M129.75 71.75h2.64v5.6h-2.64z"/><path class="a8o" d="M129.74 73.35h5.28v5.6h-5.28z"/><path class="a8c" d="M132.38 73.35h2.64v5.6h-2.64z"/><path class="a8o" d="M132.38 74.95h5.28v5.6h-5.28z"/><path class="a8c" d="M135.02 74.95h2.64v5.6h-2.64z"/><path class="a8o" d="M135.02 76.55h5.28v5.6h-5.28z"/><path class="a8c" d="M137.66 76.55h2.64v5.6h-2.64z"/><path class="a8o" d="M137.66 78.15h5.28v5.6h-5.28z"/><path class="a8c" d="M140.3 78.15h2.64v5.6h-2.64z"/><path class="a8o" d="M140.3 79.75h5.28v5.6h-5.28z"/><path class="a8c" d="M142.94 79.75h2.64v5.6h-2.64z"/><path class="a8o" d="M142.93 81.34h5.28v5.6h-5.28z"/><path class="a8c" d="M145.57 81.34h2.64v5.6h-2.64z"/><path class="a8o" d="M145.57 82.94h5.28v5.6h-5.28z"/><path class="a8c" d="M148.21 82.94h2.64v5.6h-2.64z"/><path class="a8o" d="M148.21 84.54h5.28v5.6h-5.28z"/><path class="a8c" d="M150.85 84.54h2.64v5.6h-2.64z"/><path class="a8o" d="M150.85 86.14h5.28v5.6h-5.28z"/><path class="a8c" d="M153.49 86.14h2.64v5.6h-2.64z"/><path class="a8o" d="M153.49 87.74h5.28v5.6h-5.28z"/><path class="a8c" d="M156.13 87.74h2.64v5.6h-2.64z"/><path class="a8o" d="M156.12 89.34h5.28v5.6h-5.28z"/><path class="a8c" d="M158.76 89.34h2.64v5.6h-2.64z"/><path class="a8o" d="M158.76 90.94h5.28v5.6h-5.28z"/><path class="a8c" d="M161.4 90.94h2.64v5.6h-2.64z"/><path class="a8o" d="M161.4 92.53h5.28v5.6h-5.28z"/><path class="a8c" d="M164.04 92.53h2.64v5.6h-2.64z"/><path class="a8o" d="M164.04 94.13h5.28v5.6h-5.28z"/><path class="a8c" d="M166.68 94.13h2.64v5.6h-2.64z"/><path class="a8o" d="M166.68 95.73h5.28v5.6h-5.28z"/><path class="a8c" d="M169.32 95.73h2.64v5.6h-2.64z"/><path class="a8o" d="M169.31 97.33h5.28v5.6h-5.28z"/><path class="a8c" d="M171.95 97.33h2.64v5.6h-2.64z"/><path class="a8o" d="M171.95 98.93h5.28v5.6h-5.28z"/><path class="a8c" d="M174.59 98.93h2.64v5.6h-2.64z"/><path class="a8o" d="M174.59 100.53h5.28v5.6h-5.28z"/><path class="a8c" d="M177.23 100.53h2.64v5.6h-2.64z"/><path class="a8o" d="M177.23 102.13h5.28v5.6h-5.28z"/><path class="a8c" d="M179.87 102.13h2.64v5.6h-2.64z"/><path class="a8o" d="M179.87 103.72h5.28v5.6h-5.28z"/><path class="a8c" d="M182.51 103.72h2.64v5.6h-2.64z"/><path class="a8o" d="M182.5 105.32h5.28v5.6h-5.28z"/><path class="a8c" d="M185.14 105.32h2.64v5.6h-2.64z"/><path class="a8o" d="M185.14 106.92h5.28v5.6h-5.28z"/><path class="a8c" d="M187.78 106.92h2.64v5.6h-2.64z"/><path class="a8o" d="M187.78 108.52h5.28v5.6h-5.28z"/><path class="a8c" d="M190.42 108.52h2.64v5.6h-2.64z"/><path class="a8o" d="M190.42 110.12h5.28v5.6h-5.28z"/><path class="a8c" d="M193.06 110.12h2.64v5.6h-2.64z"/><path class="a8o" d="M193.06 111.72h5.28v5.6h-5.28z"/><path class="a8c" d="M195.7 111.72h2.64v5.6h-2.64z"/><path class="a8o" d="M195.69 113.32h5.28v5.6h-5.28z"/><path class="a8c" d="M198.33 113.32h2.64v5.6h-2.64z"/><text x="193.4" y="20" text-anchor="middle" class="lg8"><tspan font-style="italic">ΔT</tspan> (K)</text><rect x="184.1" y="22.5" width="2.7" height="5.2" fill="#fff"/><rect x="186.8" y="22.5" width="2.7" height="5.2" fill="#d8394f"/><rect x="184.1" y="22.5" width="5.4" height="5.2" fill="none" stroke="#d8394f" stroke-width="1.0"/><text x="206" y="27.3" text-anchor="end" class="lg">130</text><rect x="184.1" y="30.26" width="2.7" height="5.2" fill="#fff"/><rect x="186.8" y="30.26" width="2.7" height="5.2" fill="#f57d15"/><rect x="184.1" y="30.26" width="5.4" height="5.2" fill="none" stroke="#f57d15" stroke-width="1.0"/><text x="206" y="35.06" text-anchor="end" class="lg">180</text><rect x="184.1" y="38.02" width="2.7" height="5.2" fill="#fff"/><rect x="186.8" y="38.02" width="2.7" height="5.2" fill="#2f7d2f"/><rect x="184.1" y="38.02" width="5.4" height="5.2" fill="none" stroke="#2f7d2f" stroke-width="1.0"/><text x="206" y="42.82" text-anchor="end" class="lg">230</text><rect x="184.1" y="45.78" width="2.7" height="5.2" fill="#fff"/><rect x="186.8" y="45.78" width="2.7" height="5.2" fill="#3dbf96"/><rect x="184.1" y="45.78" width="5.4" height="5.2" fill="none" stroke="#3dbf96" stroke-width="1.0"/><text x="206" y="50.58" text-anchor="end" class="lg">280</text><rect x="184.1" y="53.54" width="2.7" height="5.2" fill="#fff"/><rect x="186.8" y="53.54" width="2.7" height="5.2" fill="#1f80d4"/><rect x="184.1" y="53.54" width="5.4" height="5.2" fill="none" stroke="#1f80d4" stroke-width="1.0"/><text x="206" y="58.34" text-anchor="end" class="lg">330</text><rect x="184.1" y="61.3" width="2.7" height="5.2" fill="#fff"/><rect x="186.8" y="61.3" width="2.7" height="5.2" fill="#a984d8"/><rect x="184.1" y="61.3" width="5.4" height="5.2" fill="none" stroke="#a984d8" stroke-width="1.0"/><text x="206" y="66.1" text-anchor="end" class="lg">380</text><rect x="184.1" y="69.06" width="2.7" height="5.2" fill="#fff"/><rect x="186.8" y="69.06" width="2.7" height="5.2" fill="#8c5a38"/><rect x="184.1" y="69.06" width="5.4" height="5.2" fill="none" stroke="#8c5a38" stroke-width="1.0"/><text x="206" y="73.86" text-anchor="end" class="lg">430</text><rect x="184.1" y="76.82" width="2.7" height="5.2" fill="#fff"/><rect x="186.8" y="76.82" width="2.7" height="5.2" fill="#b8b81c"/><rect x="184.1" y="76.82" width="5.4" height="5.2" fill="none" stroke="#b8b81c" stroke-width="1.0"/><text x="206" y="81.62" text-anchor="end" class="lg">480</text><rect x="184.1" y="84.58" width="2.7" height="5.2" fill="#fff"/><rect x="186.8" y="84.58" width="2.7" height="5.2" fill="#e25560"/><rect x="184.1" y="84.58" width="5.4" height="5.2" fill="none" stroke="#e25560" stroke-width="1.0"/><text x="206" y="89.38" text-anchor="end" class="lg">540</text><rect x="260" y="7" width="190" height="164" fill="none" stroke="#303030" stroke-width="1.3"/><path d="M277.27 171v-3.6M277.27 7v3.6M311.82 171v-3.6M311.82 7v3.6M346.36 171v-3.6M346.36 7v3.6M380.91 171v-3.6M380.91 7v3.6M415.45 171v-3.6M415.45 7v3.6M450 171v-3.6M450 7v3.6M260 171h3.6M450 171h-3.6M260 130h3.6M450 130h-3.6M260 89h3.6M450 89h-3.6M260 48h3.6M450 48h-3.6M260 7h3.6M450 7h-3.6" stroke="#303030" stroke-width="0.9" fill="none"/><text x="277.27" y="181.9" text-anchor="middle" class="tk">100</text><text x="311.82" y="181.9" text-anchor="middle" class="tk">200</text><text x="346.36" y="181.9" text-anchor="middle" class="tk">300</text><text x="380.91" y="181.9" text-anchor="middle" class="tk">400</text><text x="415.45" y="181.9" text-anchor="middle" class="tk">500</text><text x="450" y="181.9" text-anchor="middle" class="tk">600</text><text x="256.2" y="173.9" text-anchor="end" class="tk">25</text><text x="256.2" y="132.9" text-anchor="end" class="tk">30</text><text x="256.2" y="91.9" text-anchor="end" class="tk">35</text><text x="256.2" y="50.9" text-anchor="end" class="tk">40</text><text x="256.2" y="9.9" text-anchor="end" class="tk">45</text><text transform="translate(241.2,88) rotate(-90)" text-anchor="middle" class="at">Inner Reslistance (mΩ)</text><text x="358" y="192.8" text-anchor="middle" class="at"><tspan font-style="italic">ΔT</tspan> (K)</text><polyline points="287.64,106.3 304.91,95.56 322.18,89.16 339.45,81.13 356.73,77.93 374,72.85 387.82,68.09 408.55,62.19 429.27,56.28" fill="none" stroke="#d9700f" stroke-width="1.3"/><g><rect x="284.34" y="102.8" width="3.3" height="7" fill="#fff"/><rect x="287.14" y="102.8" width="3.8" height="7" fill="#d9700f"/><rect x="284.34" y="102.8" width="6.6" height="7" fill="none" stroke="#f9e9db" stroke-width="0.8"/><rect x="301.61" y="92.06" width="3.3" height="7" fill="#fff"/><rect x="304.41" y="92.06" width="3.8" height="7" fill="#d9700f"/><rect x="301.61" y="92.06" width="6.6" height="7" fill="none" stroke="#f9e9db" stroke-width="0.8"/><rect x="318.88" y="85.66" width="3.3" height="7" fill="#fff"/><rect x="321.68" y="85.66" width="3.8" height="7" fill="#d9700f"/><rect x="318.88" y="85.66" width="6.6" height="7" fill="none" stroke="#f9e9db" stroke-width="0.8"/><rect x="336.15" y="77.63" width="3.3" height="7" fill="#fff"/><rect x="338.95" y="77.63" width="3.8" height="7" fill="#d9700f"/><rect x="336.15" y="77.63" width="6.6" height="7" fill="none" stroke="#f9e9db" stroke-width="0.8"/><rect x="353.43" y="74.43" width="3.3" height="7" fill="#fff"/><rect x="356.23" y="74.43" width="3.8" height="7" fill="#d9700f"/><rect x="353.43" y="74.43" width="6.6" height="7" fill="none" stroke="#f9e9db" stroke-width="0.8"/><rect x="370.7" y="69.35" width="3.3" height="7" fill="#fff"/><rect x="373.5" y="69.35" width="3.8" height="7" fill="#d9700f"/><rect x="370.7" y="69.35" width="6.6" height="7" fill="none" stroke="#f9e9db" stroke-width="0.8"/><rect x="384.52" y="64.59" width="3.3" height="7" fill="#fff"/><rect x="387.32" y="64.59" width="3.8" height="7" fill="#d9700f"/><rect x="384.52" y="64.59" width="6.6" height="7" fill="none" stroke="#f9e9db" stroke-width="0.8"/><rect x="405.25" y="58.69" width="3.3" height="7" fill="#fff"/><rect x="408.05" y="58.69" width="3.8" height="7" fill="#d9700f"/><rect x="405.25" y="58.69" width="6.6" height="7" fill="none" stroke="#f9e9db" stroke-width="0.8"/><rect x="425.97" y="52.78" width="3.3" height="7" fill="#fff"/><rect x="428.77" y="52.78" width="3.8" height="7" fill="#d9700f"/><rect x="425.97" y="52.78" width="6.6" height="7" fill="none" stroke="#f9e9db" stroke-width="0.8"/></g><polyline points="287.64,133.69 304.91,124.34 322.18,117.13 339.45,111.96 356.73,106.79 374,101.63 387.82,95.81 408.55,89.57 429.27,81.37" fill="none" stroke="#16999a" stroke-width="1.3"/><g><rect x="284.34" y="130.19" width="3.3" height="7" fill="#fff"/><rect x="287.14" y="130.19" width="3.8" height="7" fill="#16999a"/><rect x="284.34" y="130.19" width="6.6" height="7" fill="none" stroke="#dcefef" stroke-width="0.8"/><rect x="301.61" y="120.84" width="3.3" height="7" fill="#fff"/><rect x="304.41" y="120.84" width="3.8" height="7" fill="#16999a"/><rect x="301.61" y="120.84" width="6.6" height="7" fill="none" stroke="#dcefef" stroke-width="0.8"/><rect x="318.88" y="113.63" width="3.3" height="7" fill="#fff"/><rect x="321.68" y="113.63" width="3.8" height="7" fill="#16999a"/><rect x="318.88" y="113.63" width="6.6" height="7" fill="none" stroke="#dcefef" stroke-width="0.8"/><rect x="336.15" y="108.46" width="3.3" height="7" fill="#fff"/><rect x="338.95" y="108.46" width="3.8" height="7" fill="#16999a"/><rect x="336.15" y="108.46" width="6.6" height="7" fill="none" stroke="#dcefef" stroke-width="0.8"/><rect x="353.43" y="103.29" width="3.3" height="7" fill="#fff"/><rect x="356.23" y="103.29" width="3.8" height="7" fill="#16999a"/><rect x="353.43" y="103.29" width="6.6" height="7" fill="none" stroke="#dcefef" stroke-width="0.8"/><rect x="370.7" y="98.13" width="3.3" height="7" fill="#fff"/><rect x="373.5" y="98.13" width="3.8" height="7" fill="#16999a"/><rect x="370.7" y="98.13" width="6.6" height="7" fill="none" stroke="#dcefef" stroke-width="0.8"/><rect x="384.52" y="92.31" width="3.3" height="7" fill="#fff"/><rect x="387.32" y="92.31" width="3.8" height="7" fill="#16999a"/><rect x="384.52" y="92.31" width="6.6" height="7" fill="none" stroke="#dcefef" stroke-width="0.8"/><rect x="405.25" y="86.07" width="3.3" height="7" fill="#fff"/><rect x="408.05" y="86.07" width="3.8" height="7" fill="#16999a"/><rect x="405.25" y="86.07" width="6.6" height="7" fill="none" stroke="#dcefef" stroke-width="0.8"/><rect x="425.97" y="77.87" width="3.3" height="7" fill="#fff"/><rect x="428.77" y="77.87" width="3.8" height="7" fill="#16999a"/><rect x="425.97" y="77.87" width="6.6" height="7" fill="none" stroke="#dcefef" stroke-width="0.8"/></g><rect x="493" y="7" width="190" height="164" fill="none" stroke="#303030" stroke-width="1.3"/><path d="M502.5 171v-3.6M502.5 7v3.6M540.5 171v-3.6M540.5 7v3.6M578.5 171v-3.6M578.5 7v3.6M616.5 171v-3.6M616.5 7v3.6M654.5 171v-3.6M654.5 7v3.6M493 171h3.6M683 171h-3.6M493 138.2h3.6M683 138.2h-3.6M493 105.4h3.6M683 105.4h-3.6M493 72.6h3.6M683 72.6h-3.6M493 39.8h3.6M683 39.8h-3.6M493 7h3.6M683 7h-3.6" stroke="#303030" stroke-width="0.9" fill="none"/><text x="502.5" y="181.9" text-anchor="middle" class="tk">100</text><text x="540.5" y="181.9" text-anchor="middle" class="tk">200</text><text x="578.5" y="181.9" text-anchor="middle" class="tk">300</text><text x="616.5" y="181.9" text-anchor="middle" class="tk">400</text><text x="654.5" y="181.9" text-anchor="middle" class="tk">500</text><text x="489.2" y="173.9" text-anchor="end" class="tk">0.0</text><text x="489.2" y="141.1" text-anchor="end" class="tk">0.1</text><text x="489.2" y="108.3" text-anchor="end" class="tk">0.2</text><text x="489.2" y="75.5" text-anchor="end" class="tk">0.3</text><text x="489.2" y="42.7" text-anchor="end" class="tk">0.4</text><text x="489.2" y="9.9" text-anchor="end" class="tk">0.5</text><text transform="translate(470.4,87.5) rotate(-90)" text-anchor="middle" class="at">Open Voltage (V)</text><text x="591" y="192.8" text-anchor="middle" class="at"><tspan font-style="italic">ΔT</tspan> (K)</text><polyline points="513.9,143.78 532.9,133.74 551.9,121.8 570.9,109.01 589.9,96.22 608.9,84.41 624.1,72.6 646.9,61.12 669.7,45.7" fill="none" stroke="#d9700f" stroke-width="1.3"/><g><rect x="510.6" y="140.28" width="3.3" height="7" fill="#fff"/><rect x="513.4" y="140.28" width="3.8" height="7" fill="#d9700f"/><rect x="510.6" y="140.28" width="6.6" height="7" fill="none" stroke="#f9e9db" stroke-width="0.8"/><rect x="529.6" y="130.24" width="3.3" height="7" fill="#fff"/><rect x="532.4" y="130.24" width="3.8" height="7" fill="#d9700f"/><rect x="529.6" y="130.24" width="6.6" height="7" fill="none" stroke="#f9e9db" stroke-width="0.8"/><rect x="548.6" y="118.3" width="3.3" height="7" fill="#fff"/><rect x="551.4" y="118.3" width="3.8" height="7" fill="#d9700f"/><rect x="548.6" y="118.3" width="6.6" height="7" fill="none" stroke="#f9e9db" stroke-width="0.8"/><rect x="567.6" y="105.51" width="3.3" height="7" fill="#fff"/><rect x="570.4" y="105.51" width="3.8" height="7" fill="#d9700f"/><rect x="567.6" y="105.51" width="6.6" height="7" fill="none" stroke="#f9e9db" stroke-width="0.8"/><rect x="586.6" y="92.72" width="3.3" height="7" fill="#fff"/><rect x="589.4" y="92.72" width="3.8" height="7" fill="#d9700f"/><rect x="586.6" y="92.72" width="6.6" height="7" fill="none" stroke="#f9e9db" stroke-width="0.8"/><rect x="605.6" y="80.91" width="3.3" height="7" fill="#fff"/><rect x="608.4" y="80.91" width="3.8" height="7" fill="#d9700f"/><rect x="605.6" y="80.91" width="6.6" height="7" fill="none" stroke="#f9e9db" stroke-width="0.8"/><rect x="620.8" y="69.1" width="3.3" height="7" fill="#fff"/><rect x="623.6" y="69.1" width="3.8" height="7" fill="#d9700f"/><rect x="620.8" y="69.1" width="6.6" height="7" fill="none" stroke="#f9e9db" stroke-width="0.8"/><rect x="643.6" y="57.62" width="3.3" height="7" fill="#fff"/><rect x="646.4" y="57.62" width="3.8" height="7" fill="#d9700f"/><rect x="643.6" y="57.62" width="6.6" height="7" fill="none" stroke="#f9e9db" stroke-width="0.8"/><rect x="666.4" y="42.2" width="3.3" height="7" fill="#fff"/><rect x="669.2" y="42.2" width="3.8" height="7" fill="#d9700f"/><rect x="666.4" y="42.2" width="6.6" height="7" fill="none" stroke="#f9e9db" stroke-width="0.8"/></g><polyline points="513.9,142.86 532.9,130.66 551.9,117.54 570.9,104.42 589.9,89.33 608.9,75.55 624.1,61.45 646.9,47.02 669.7,29.63" fill="none" stroke="#16999a" stroke-width="1.3"/><g><rect x="510.6" y="139.36" width="3.3" height="7" fill="#fff"/><rect x="513.4" y="139.36" width="3.8" height="7" fill="#16999a"/><rect x="510.6" y="139.36" width="6.6" height="7" fill="none" stroke="#dcefef" stroke-width="0.8"/><rect x="529.6" y="127.16" width="3.3" height="7" fill="#fff"/><rect x="532.4" y="127.16" width="3.8" height="7" fill="#16999a"/><rect x="529.6" y="127.16" width="6.6" height="7" fill="none" stroke="#dcefef" stroke-width="0.8"/><rect x="548.6" y="114.04" width="3.3" height="7" fill="#fff"/><rect x="551.4" y="114.04" width="3.8" height="7" fill="#16999a"/><rect x="548.6" y="114.04" width="6.6" height="7" fill="none" stroke="#dcefef" stroke-width="0.8"/><rect x="567.6" y="100.92" width="3.3" height="7" fill="#fff"/><rect x="570.4" y="100.92" width="3.8" height="7" fill="#16999a"/><rect x="567.6" y="100.92" width="6.6" height="7" fill="none" stroke="#dcefef" stroke-width="0.8"/><rect x="586.6" y="85.83" width="3.3" height="7" fill="#fff"/><rect x="589.4" y="85.83" width="3.8" height="7" fill="#16999a"/><rect x="586.6" y="85.83" width="6.6" height="7" fill="none" stroke="#dcefef" stroke-width="0.8"/><rect x="605.6" y="72.05" width="3.3" height="7" fill="#fff"/><rect x="608.4" y="72.05" width="3.8" height="7" fill="#16999a"/><rect x="605.6" y="72.05" width="6.6" height="7" fill="none" stroke="#dcefef" stroke-width="0.8"/><rect x="620.8" y="57.95" width="3.3" height="7" fill="#fff"/><rect x="623.6" y="57.95" width="3.8" height="7" fill="#16999a"/><rect x="620.8" y="57.95" width="6.6" height="7" fill="none" stroke="#dcefef" stroke-width="0.8"/><rect x="643.6" y="43.52" width="3.3" height="7" fill="#fff"/><rect x="646.4" y="43.52" width="3.8" height="7" fill="#16999a"/><rect x="643.6" y="43.52" width="6.6" height="7" fill="none" stroke="#dcefef" stroke-width="0.8"/><rect x="666.4" y="26.13" width="3.3" height="7" fill="#fff"/><rect x="669.2" y="26.13" width="3.8" height="7" fill="#16999a"/><rect x="666.4" y="26.13" width="6.6" height="7" fill="none" stroke="#dcefef" stroke-width="0.8"/></g><rect x="596.4" y="121.8" width="3.3" height="6.6" fill="#fff"/><rect x="599.4" y="121.8" width="3.6" height="6.6" fill="#d9700f"/><rect x="596.4" y="121.8" width="6.6" height="6.6" fill="none" stroke="#f9e9db" stroke-width="0.8"/><rect x="596.4" y="129.7" width="3.3" height="6.6" fill="#fff"/><rect x="599.4" y="129.7" width="3.6" height="6.6" fill="#16999a"/><rect x="596.4" y="129.7" width="6.6" height="6.6" fill="none" stroke="#dcefef" stroke-width="0.8"/><text x="609" y="127.5" class="lgc">Measured Value</text><text x="609" y="135.4" class="lgc">Theoritical Value</text><rect x="26.6" y="201.2" width="190.2" height="164.1" fill="none" stroke="#303030" stroke-width="1.3"/><path d="M32.14 365.3v-3.6M32.14 201.2v3.6M84.9 365.3v-3.6M84.9 201.2v3.6M137.66 365.3v-3.6M137.66 201.2v3.6M190.42 365.3v-3.6M190.42 201.2v3.6M26.6 357.31h3.6M216.8 357.31h-3.6M26.6 326.09h3.6M216.8 326.09h-3.6M26.6 294.86h3.6M216.8 294.86h-3.6M26.6 263.64h3.6M216.8 263.64h-3.6M26.6 232.42h3.6M216.8 232.42h-3.6M26.6 201.2h3.6M216.8 201.2h-3.6" stroke="#303030" stroke-width="0.9" fill="none"/><text x="32.14" y="376.2" text-anchor="middle" class="tk">0</text><text x="84.9" y="376.2" text-anchor="middle" class="tk">2</text><text x="137.66" y="376.2" text-anchor="middle" class="tk">4</text><text x="190.42" y="376.2" text-anchor="middle" class="tk">6</text><text x="22.8" y="360.21" text-anchor="end" class="tk">0.0</text><text x="22.8" y="328.99" text-anchor="end" class="tk">0.2</text><text x="22.8" y="297.76" text-anchor="end" class="tk">0.4</text><text x="22.8" y="266.54" text-anchor="end" class="tk">0.6</text><text x="22.8" y="235.32" text-anchor="end" class="tk">0.8</text><text x="22.8" y="204.1" text-anchor="end" class="tk">1.0</text><text transform="translate(7.6,275) rotate(-90)" text-anchor="middle" class="at">Output Power (W)</text><text x="124" y="387.1" text-anchor="middle" class="at"><tspan font-style="italic">I</tspan> (A)</text><path class="a0o" d="M32.14 353.23h5.28v5.6h-5.28z"/><path class="a0c" d="M34.78 353.23h2.64v5.6h-2.64z"/><path class="a0o" d="M34.78 352.06h5.28v5.6h-5.28z"/><path class="a0c" d="M37.42 352.06h2.64v5.6h-2.64z"/><path class="a0o" d="M37.41 350.99h5.28v5.6h-5.28z"/><path class="a0c" d="M40.05 350.99h2.64v5.6h-2.64z"/><path class="a0o" d="M40.05 350.02h5.28v5.6h-5.28z"/><path class="a0c" d="M42.69 350.02h2.64v5.6h-2.64z"/><path class="a0o" d="M42.69 349.16h5.28v5.6h-5.28z"/><path class="a0c" d="M45.33 349.16h2.64v5.6h-2.64z"/><path class="a0o" d="M45.33 348.39h5.28v5.6h-5.28z"/><path class="a0c" d="M47.97 348.39h2.64v5.6h-2.64z"/><path class="a0o" d="M47.97 347.73h5.28v5.6h-5.28z"/><path class="a0c" d="M50.61 347.73h2.64v5.6h-2.64z"/><path class="a0o" d="M50.6 347.18h5.28v5.6h-5.28z"/><path class="a0c" d="M53.24 347.18h2.64v5.6h-2.64z"/><path class="a0o" d="M53.24 346.72h5.28v5.6h-5.28z"/><path class="a0c" d="M55.88 346.72h2.64v5.6h-2.64z"/><path class="a0o" d="M55.88 346.37h5.28v5.6h-5.28z"/><path class="a0c" d="M58.52 346.37h2.64v5.6h-2.64z"/><path class="a0o" d="M58.52 346.12h5.28v5.6h-5.28z"/><path class="a0c" d="M61.16 346.12h2.64v5.6h-2.64z"/><path class="a0o" d="M61.16 345.98h5.28v5.6h-5.28z"/><path class="a0c" d="M63.8 345.98h2.64v5.6h-2.64z"/><path class="a0o" d="M63.79 345.93h5.28v5.6h-5.28z"/><path class="a0c" d="M66.43 345.93h2.64v5.6h-2.64z"/><path class="a0o" d="M66.43 345.99h5.28v5.6h-5.28z"/><path class="a0c" d="M69.07 345.99h2.64v5.6h-2.64z"/><path class="a0o" d="M69.07 346.16h5.28v5.6h-5.28z"/><path class="a0c" d="M71.71 346.16h2.64v5.6h-2.64z"/><path class="a0o" d="M71.71 346.42h5.28v5.6h-5.28z"/><path class="a0c" d="M74.35 346.42h2.64v5.6h-2.64z"/><path class="a0o" d="M74.35 346.79h5.28v5.6h-5.28z"/><path class="a0c" d="M76.99 346.79h2.64v5.6h-2.64z"/><path class="a0o" d="M76.98 347.26h5.28v5.6h-5.28z"/><path class="a0c" d="M79.62 347.26h2.64v5.6h-2.64z"/><path class="a1o" d="M32.14 352.73h5.28v5.6h-5.28z"/><path class="a1c" d="M34.78 352.73h2.64v5.6h-2.64z"/><path class="a1o" d="M34.78 351.05h5.28v5.6h-5.28z"/><path class="a1c" d="M37.42 351.05h2.64v5.6h-2.64z"/><path class="a1o" d="M37.41 349.49h5.28v5.6h-5.28z"/><path class="a1c" d="M40.05 349.49h2.64v5.6h-2.64z"/><path class="a1o" d="M40.05 348.02h5.28v5.6h-5.28z"/><path class="a1c" d="M42.69 348.02h2.64v5.6h-2.64z"/><path class="a1o" d="M42.69 346.67h5.28v5.6h-5.28z"/><path class="a1c" d="M45.33 346.67h2.64v5.6h-2.64z"/><path class="a1o" d="M45.33 345.42h5.28v5.6h-5.28z"/><path class="a1c" d="M47.97 345.42h2.64v5.6h-2.64z"/><path class="a1o" d="M47.97 344.28h5.28v5.6h-5.28z"/><path class="a1c" d="M50.61 344.28h2.64v5.6h-2.64z"/><path class="a1o" d="M50.6 343.25h5.28v5.6h-5.28z"/><path class="a1c" d="M53.24 343.25h2.64v5.6h-2.64z"/><path class="a1o" d="M53.24 342.32h5.28v5.6h-5.28z"/><path class="a1c" d="M55.88 342.32h2.64v5.6h-2.64z"/><path class="a1o" d="M55.88 341.5h5.28v5.6h-5.28z"/><path class="a1c" d="M58.52 341.5h2.64v5.6h-2.64z"/><path class="a1o" d="M58.52 340.79h5.28v5.6h-5.28z"/><path class="a1c" d="M61.16 340.79h2.64v5.6h-2.64z"/><path class="a1o" d="M61.16 340.18h5.28v5.6h-5.28z"/><path class="a1c" d="M63.8 340.18h2.64v5.6h-2.64z"/><path class="a1o" d="M63.79 339.68h5.28v5.6h-5.28z"/><path class="a1c" d="M66.43 339.68h2.64v5.6h-2.64z"/><path class="a1o" d="M66.43 339.29h5.28v5.6h-5.28z"/><path class="a1c" d="M69.07 339.29h2.64v5.6h-2.64z"/><path class="a1o" d="M69.07 339.01h5.28v5.6h-5.28z"/><path class="a1c" d="M71.71 339.01h2.64v5.6h-2.64z"/><path class="a1o" d="M71.71 338.83h5.28v5.6h-5.28z"/><path class="a1c" d="M74.35 338.83h2.64v5.6h-2.64z"/><path class="a1o" d="M74.35 338.75h5.28v5.6h-5.28z"/><path class="a1c" d="M76.99 338.75h2.64v5.6h-2.64z"/><path class="a1o" d="M76.98 338.79h5.28v5.6h-5.28z"/><path class="a1c" d="M79.62 338.79h2.64v5.6h-2.64z"/><path class="a1o" d="M79.62 338.93h5.28v5.6h-5.28z"/><path class="a1c" d="M82.26 338.93h2.64v5.6h-2.64z"/><path class="a1o" d="M82.26 339.18h5.28v5.6h-5.28z"/><path class="a1c" d="M84.9 339.18h2.64v5.6h-2.64z"/><path class="a1o" d="M84.9 339.53h5.28v5.6h-5.28z"/><path class="a1c" d="M87.54 339.53h2.64v5.6h-2.64z"/><path class="a1o" d="M87.54 339.99h5.28v5.6h-5.28z"/><path class="a1c" d="M90.18 339.99h2.64v5.6h-2.64z"/><path class="a1o" d="M90.17 340.56h5.28v5.6h-5.28z"/><path class="a1c" d="M92.81 340.56h2.64v5.6h-2.64z"/><path class="a2o" d="M32.14 352.17h5.28v5.6h-5.28z"/><path class="a2c" d="M34.78 352.17h2.64v5.6h-2.64z"/><path class="a2o" d="M34.78 349.95h5.28v5.6h-5.28z"/><path class="a2c" d="M37.42 349.95h2.64v5.6h-2.64z"/><path class="a2o" d="M37.41 347.83h5.28v5.6h-5.28z"/><path class="a2c" d="M40.05 347.83h2.64v5.6h-2.64z"/><path class="a2o" d="M40.05 345.83h5.28v5.6h-5.28z"/><path class="a2c" d="M42.69 345.83h2.64v5.6h-2.64z"/><path class="a2o" d="M42.69 343.93h5.28v5.6h-5.28z"/><path class="a2c" d="M45.33 343.93h2.64v5.6h-2.64z"/><path class="a2o" d="M45.33 342.14h5.28v5.6h-5.28z"/><path class="a2c" d="M47.97 342.14h2.64v5.6h-2.64z"/><path class="a2o" d="M47.97 340.46h5.28v5.6h-5.28z"/><path class="a2c" d="M50.61 340.46h2.64v5.6h-2.64z"/><path class="a2o" d="M50.6 338.89h5.28v5.6h-5.28z"/><path class="a2c" d="M53.24 338.89h2.64v5.6h-2.64z"/><path class="a2o" d="M53.24 337.43h5.28v5.6h-5.28z"/><path class="a2c" d="M55.88 337.43h2.64v5.6h-2.64z"/><path class="a2o" d="M55.88 336.08h5.28v5.6h-5.28z"/><path class="a2c" d="M58.52 336.08h2.64v5.6h-2.64z"/><path class="a2o" d="M58.52 334.84h5.28v5.6h-5.28z"/><path class="a2c" d="M61.16 334.84h2.64v5.6h-2.64z"/><path class="a2o" d="M61.16 333.71h5.28v5.6h-5.28z"/><path class="a2c" d="M63.8 333.71h2.64v5.6h-2.64z"/><path class="a2o" d="M63.79 332.69h5.28v5.6h-5.28z"/><path class="a2c" d="M66.43 332.69h2.64v5.6h-2.64z"/><path class="a2o" d="M66.43 331.77h5.28v5.6h-5.28z"/><path class="a2c" d="M69.07 331.77h2.64v5.6h-2.64z"/><path class="a2o" d="M69.07 330.97h5.28v5.6h-5.28z"/><path class="a2c" d="M71.71 330.97h2.64v5.6h-2.64z"/><path class="a2o" d="M71.71 330.27h5.28v5.6h-5.28z"/><path class="a2c" d="M74.35 330.27h2.64v5.6h-2.64z"/><path class="a2o" d="M74.35 329.69h5.28v5.6h-5.28z"/><path class="a2c" d="M76.99 329.69h2.64v5.6h-2.64z"/><path class="a2o" d="M76.98 329.21h5.28v5.6h-5.28z"/><path class="a2c" d="M79.62 329.21h2.64v5.6h-2.64z"/><path class="a2o" d="M79.62 328.84h5.28v5.6h-5.28z"/><path class="a2c" d="M82.26 328.84h2.64v5.6h-2.64z"/><path class="a2o" d="M82.26 328.58h5.28v5.6h-5.28z"/><path class="a2c" d="M84.9 328.58h2.64v5.6h-2.64z"/><path class="a2o" d="M84.9 328.43h5.28v5.6h-5.28z"/><path class="a2c" d="M87.54 328.43h2.64v5.6h-2.64z"/><path class="a2o" d="M87.54 328.39h5.28v5.6h-5.28z"/><path class="a2c" d="M90.18 328.39h2.64v5.6h-2.64z"/><path class="a2o" d="M90.17 328.46h5.28v5.6h-5.28z"/><path class="a2c" d="M92.81 328.46h2.64v5.6h-2.64z"/><path class="a2o" d="M92.81 328.64h5.28v5.6h-5.28z"/><path class="a2c" d="M95.45 328.64h2.64v5.6h-2.64z"/><path class="a2o" d="M95.45 328.93h5.28v5.6h-5.28z"/><path class="a2c" d="M98.09 328.93h2.64v5.6h-2.64z"/><path class="a2o" d="M98.09 329.32h5.28v5.6h-5.28z"/><path class="a2c" d="M100.73 329.32h2.64v5.6h-2.64z"/><path class="a2o" d="M100.73 329.83h5.28v5.6h-5.28z"/><path class="a2c" d="M103.37 329.83h2.64v5.6h-2.64z"/><path class="a2o" d="M103.36 330.44h5.28v5.6h-5.28z"/><path class="a2c" d="M106 330.44h2.64v5.6h-2.64z"/><path class="a2o" d="M106 331.17h5.28v5.6h-5.28z"/><path class="a2c" d="M108.64 331.17h2.64v5.6h-2.64z"/><path class="a2o" d="M108.64 332h5.28v5.6h-5.28z"/><path class="a2c" d="M111.28 332h2.64v5.6h-2.64z"/><path class="a3o" d="M32.14 351.6h5.28v5.6h-5.28z"/><path class="a3c" d="M34.78 351.6h2.64v5.6h-2.64z"/><path class="a3o" d="M34.78 348.8h5.28v5.6h-5.28z"/><path class="a3c" d="M37.42 348.8h2.64v5.6h-2.64z"/><path class="a3o" d="M37.41 346.11h5.28v5.6h-5.28z"/><path class="a3c" d="M40.05 346.11h2.64v5.6h-2.64z"/><path class="a3o" d="M40.05 343.54h5.28v5.6h-5.28z"/><path class="a3c" d="M42.69 343.54h2.64v5.6h-2.64z"/><path class="a3o" d="M42.69 341.08h5.28v5.6h-5.28z"/><path class="a3c" d="M45.33 341.08h2.64v5.6h-2.64z"/><path class="a3o" d="M45.33 338.73h5.28v5.6h-5.28z"/><path class="a3c" d="M47.97 338.73h2.64v5.6h-2.64z"/><path class="a3o" d="M47.97 336.5h5.28v5.6h-5.28z"/><path class="a3c" d="M50.61 336.5h2.64v5.6h-2.64z"/><path class="a3o" d="M50.6 334.37h5.28v5.6h-5.28z"/><path class="a3c" d="M53.24 334.37h2.64v5.6h-2.64z"/><path class="a3o" d="M53.24 332.36h5.28v5.6h-5.28z"/><path class="a3c" d="M55.88 332.36h2.64v5.6h-2.64z"/><path class="a3o" d="M55.88 330.46h5.28v5.6h-5.28z"/><path class="a3c" d="M58.52 330.46h2.64v5.6h-2.64z"/><path class="a3o" d="M58.52 328.67h5.28v5.6h-5.28z"/><path class="a3c" d="M61.16 328.67h2.64v5.6h-2.64z"/><path class="a3o" d="M61.16 327h5.28v5.6h-5.28z"/><path class="a3c" d="M63.8 327h2.64v5.6h-2.64z"/><path class="a3o" d="M63.79 325.44h5.28v5.6h-5.28z"/><path class="a3c" d="M66.43 325.44h2.64v5.6h-2.64z"/><path class="a3o" d="M66.43 323.99h5.28v5.6h-5.28z"/><path class="a3c" d="M69.07 323.99h2.64v5.6h-2.64z"/><path class="a3o" d="M69.07 322.65h5.28v5.6h-5.28z"/><path class="a3c" d="M71.71 322.65h2.64v5.6h-2.64z"/><path class="a3o" d="M71.71 321.42h5.28v5.6h-5.28z"/><path class="a3c" d="M74.35 321.42h2.64v5.6h-2.64z"/><path class="a3o" d="M74.35 320.31h5.28v5.6h-5.28z"/><path class="a3c" d="M76.99 320.31h2.64v5.6h-2.64z"/><path class="a3o" d="M76.98 319.31h5.28v5.6h-5.28z"/><path class="a3c" d="M79.62 319.31h2.64v5.6h-2.64z"/><path class="a3o" d="M79.62 318.42h5.28v5.6h-5.28z"/><path class="a3c" d="M82.26 318.42h2.64v5.6h-2.64z"/><path class="a3o" d="M82.26 317.64h5.28v5.6h-5.28z"/><path class="a3c" d="M84.9 317.64h2.64v5.6h-2.64z"/><path class="a3o" d="M84.9 316.98h5.28v5.6h-5.28z"/><path class="a3c" d="M87.54 316.98h2.64v5.6h-2.64z"/><path class="a3o" d="M87.54 316.42h5.28v5.6h-5.28z"/><path class="a3c" d="M90.18 316.42h2.64v5.6h-2.64z"/><path class="a3o" d="M90.17 315.98h5.28v5.6h-5.28z"/><path class="a3c" d="M92.81 315.98h2.64v5.6h-2.64z"/><path class="a3o" d="M92.81 315.66h5.28v5.6h-5.28z"/><path class="a3c" d="M95.45 315.66h2.64v5.6h-2.64z"/><path class="a3o" d="M95.45 315.44h5.28v5.6h-5.28z"/><path class="a3c" d="M98.09 315.44h2.64v5.6h-2.64z"/><path class="a3o" d="M98.09 315.34h5.28v5.6h-5.28z"/><path class="a3c" d="M100.73 315.34h2.64v5.6h-2.64z"/><path class="a3o" d="M100.73 315.35h5.28v5.6h-5.28z"/><path class="a3c" d="M103.37 315.35h2.64v5.6h-2.64z"/><path class="a3o" d="M103.36 315.47h5.28v5.6h-5.28z"/><path class="a3c" d="M106 315.47h2.64v5.6h-2.64z"/><path class="a3o" d="M106 315.7h5.28v5.6h-5.28z"/><path class="a3c" d="M108.64 315.7h2.64v5.6h-2.64z"/><path class="a3o" d="M108.64 316.05h5.28v5.6h-5.28z"/><path class="a3c" d="M111.28 316.05h2.64v5.6h-2.64z"/><path class="a3o" d="M111.28 316.51h5.28v5.6h-5.28z"/><path class="a3c" d="M113.92 316.51h2.64v5.6h-2.64z"/><path class="a3o" d="M113.92 317.08h5.28v5.6h-5.28z"/><path class="a3c" d="M116.56 317.08h2.64v5.6h-2.64z"/><path class="a3o" d="M116.55 317.76h5.28v5.6h-5.28z"/><path class="a3c" d="M119.19 317.76h2.64v5.6h-2.64z"/><path class="a3o" d="M119.19 318.56h5.28v5.6h-5.28z"/><path class="a3c" d="M121.83 318.56h2.64v5.6h-2.64z"/><path class="a3o" d="M121.83 319.46h5.28v5.6h-5.28z"/><path class="a3c" d="M124.47 319.46h2.64v5.6h-2.64z"/><path class="a4o" d="M32.14 351.03h5.28v5.6h-5.28z"/><path class="a4c" d="M34.78 351.03h2.64v5.6h-2.64z"/><path class="a4o" d="M34.78 347.66h5.28v5.6h-5.28z"/><path class="a4c" d="M37.42 347.66h2.64v5.6h-2.64z"/><path class="a4o" d="M37.41 344.41h5.28v5.6h-5.28z"/><path class="a4c" d="M40.05 344.41h2.64v5.6h-2.64z"/><path class="a4o" d="M40.05 341.27h5.28v5.6h-5.28z"/><path class="a4c" d="M42.69 341.27h2.64v5.6h-2.64z"/><path class="a4o" d="M42.69 338.25h5.28v5.6h-5.28z"/><path class="a4c" d="M45.33 338.25h2.64v5.6h-2.64z"/><path class="a4o" d="M45.33 335.34h5.28v5.6h-5.28z"/><path class="a4c" d="M47.97 335.34h2.64v5.6h-2.64z"/><path class="a4o" d="M47.97 332.54h5.28v5.6h-5.28z"/><path class="a4c" d="M50.61 332.54h2.64v5.6h-2.64z"/><path class="a4o" d="M50.6 329.85h5.28v5.6h-5.28z"/><path class="a4c" d="M53.24 329.85h2.64v5.6h-2.64z"/><path class="a4o" d="M53.24 327.28h5.28v5.6h-5.28z"/><path class="a4c" d="M55.88 327.28h2.64v5.6h-2.64z"/><path class="a4o" d="M55.88 324.82h5.28v5.6h-5.28z"/><path class="a4c" d="M58.52 324.82h2.64v5.6h-2.64z"/><path class="a4o" d="M58.52 322.48h5.28v5.6h-5.28z"/><path class="a4c" d="M61.16 322.48h2.64v5.6h-2.64z"/><path class="a4o" d="M61.16 320.25h5.28v5.6h-5.28z"/><path class="a4c" d="M63.8 320.25h2.64v5.6h-2.64z"/><path class="a4o" d="M63.79 318.13h5.28v5.6h-5.28z"/><path class="a4c" d="M66.43 318.13h2.64v5.6h-2.64z"/><path class="a4o" d="M66.43 316.13h5.28v5.6h-5.28z"/><path class="a4c" d="M69.07 316.13h2.64v5.6h-2.64z"/><path class="a4o" d="M69.07 314.24h5.28v5.6h-5.28z"/><path class="a4c" d="M71.71 314.24h2.64v5.6h-2.64z"/><path class="a4o" d="M71.71 312.46h5.28v5.6h-5.28z"/><path class="a4c" d="M74.35 312.46h2.64v5.6h-2.64z"/><path class="a4o" d="M74.35 310.8h5.28v5.6h-5.28z"/><path class="a4c" d="M76.99 310.8h2.64v5.6h-2.64z"/><path class="a4o" d="M76.98 309.25h5.28v5.6h-5.28z"/><path class="a4c" d="M79.62 309.25h2.64v5.6h-2.64z"/><path class="a4o" d="M79.62 307.81h5.28v5.6h-5.28z"/><path class="a4c" d="M82.26 307.81h2.64v5.6h-2.64z"/><path class="a4o" d="M82.26 306.49h5.28v5.6h-5.28z"/><path class="a4c" d="M84.9 306.49h2.64v5.6h-2.64z"/><path class="a4o" d="M84.9 305.28h5.28v5.6h-5.28z"/><path class="a4c" d="M87.54 305.28h2.64v5.6h-2.64z"/><path class="a4o" d="M87.54 304.18h5.28v5.6h-5.28z"/><path class="a4c" d="M90.18 304.18h2.64v5.6h-2.64z"/><path class="a4o" d="M90.17 303.2h5.28v5.6h-5.28z"/><path class="a4c" d="M92.81 303.2h2.64v5.6h-2.64z"/><path class="a4o" d="M92.81 302.33h5.28v5.6h-5.28z"/><path class="a4c" d="M95.45 302.33h2.64v5.6h-2.64z"/><path class="a4o" d="M95.45 301.58h5.28v5.6h-5.28z"/><path class="a4c" d="M98.09 301.58h2.64v5.6h-2.64z"/><path class="a4o" d="M98.09 300.94h5.28v5.6h-5.28z"/><path class="a4c" d="M100.73 300.94h2.64v5.6h-2.64z"/><path class="a4o" d="M100.73 300.41h5.28v5.6h-5.28z"/><path class="a4c" d="M103.37 300.41h2.64v5.6h-2.64z"/><path class="a4o" d="M103.36 299.99h5.28v5.6h-5.28z"/><path class="a4c" d="M106 299.99h2.64v5.6h-2.64z"/><path class="a4o" d="M106 299.69h5.28v5.6h-5.28z"/><path class="a4c" d="M108.64 299.69h2.64v5.6h-2.64z"/><path class="a4o" d="M108.64 299.5h5.28v5.6h-5.28z"/><path class="a4c" d="M111.28 299.5h2.64v5.6h-2.64z"/><path class="a4o" d="M111.28 299.43h5.28v5.6h-5.28z"/><path class="a4c" d="M113.92 299.43h2.64v5.6h-2.64z"/><path class="a4o" d="M113.92 299.47h5.28v5.6h-5.28z"/><path class="a4c" d="M116.56 299.47h2.64v5.6h-2.64z"/><path class="a4o" d="M116.55 299.62h5.28v5.6h-5.28z"/><path class="a4c" d="M119.19 299.62h2.64v5.6h-2.64z"/><path class="a4o" d="M119.19 299.89h5.28v5.6h-5.28z"/><path class="a4c" d="M121.83 299.89h2.64v5.6h-2.64z"/><path class="a4o" d="M121.83 300.27h5.28v5.6h-5.28z"/><path class="a4c" d="M124.47 300.27h2.64v5.6h-2.64z"/><path class="a4o" d="M124.47 300.76h5.28v5.6h-5.28z"/><path class="a4c" d="M127.11 300.76h2.64v5.6h-2.64z"/><path class="a4o" d="M127.11 301.37h5.28v5.6h-5.28z"/><path class="a4c" d="M129.75 301.37h2.64v5.6h-2.64z"/><path class="a4o" d="M129.74 302.09h5.28v5.6h-5.28z"/><path class="a4c" d="M132.38 302.09h2.64v5.6h-2.64z"/><path class="a4o" d="M132.38 302.92h5.28v5.6h-5.28z"/><path class="a4c" d="M135.02 302.92h2.64v5.6h-2.64z"/><path class="a4o" d="M135.02 303.87h5.28v5.6h-5.28z"/><path class="a4c" d="M137.66 303.87h2.64v5.6h-2.64z"/><path class="a4o" d="M137.66 304.93h5.28v5.6h-5.28z"/><path class="a4c" d="M140.3 304.93h2.64v5.6h-2.64z"/><path class="a5o" d="M32.14 350.46h5.28v5.6h-5.28z"/><path class="a5c" d="M34.78 350.46h2.64v5.6h-2.64z"/><path class="a5o" d="M34.78 346.53h5.28v5.6h-5.28z"/><path class="a5c" d="M37.42 346.53h2.64v5.6h-2.64z"/><path class="a5o" d="M37.41 342.71h5.28v5.6h-5.28z"/><path class="a5c" d="M40.05 342.71h2.64v5.6h-2.64z"/><path class="a5o" d="M40.05 339.01h5.28v5.6h-5.28z"/><path class="a5c" d="M42.69 339.01h2.64v5.6h-2.64z"/><path class="a5o" d="M42.69 335.42h5.28v5.6h-5.28z"/><path class="a5c" d="M45.33 335.42h2.64v5.6h-2.64z"/><path class="a5o" d="M45.33 331.95h5.28v5.6h-5.28z"/><path class="a5c" d="M47.97 331.95h2.64v5.6h-2.64z"/><path class="a5o" d="M47.97 328.6h5.28v5.6h-5.28z"/><path class="a5c" d="M50.61 328.6h2.64v5.6h-2.64z"/><path class="a5o" d="M50.6 325.36h5.28v5.6h-5.28z"/><path class="a5c" d="M53.24 325.36h2.64v5.6h-2.64z"/><path class="a5o" d="M53.24 322.23h5.28v5.6h-5.28z"/><path class="a5c" d="M55.88 322.23h2.64v5.6h-2.64z"/><path class="a5o" d="M55.88 319.22h5.28v5.6h-5.28z"/><path class="a5c" d="M58.52 319.22h2.64v5.6h-2.64z"/><path class="a5o" d="M58.52 316.33h5.28v5.6h-5.28z"/><path class="a5c" d="M61.16 316.33h2.64v5.6h-2.64z"/><path class="a5o" d="M61.16 313.55h5.28v5.6h-5.28z"/><path class="a5c" d="M63.8 313.55h2.64v5.6h-2.64z"/><path class="a5o" d="M63.79 310.89h5.28v5.6h-5.28z"/><path class="a5c" d="M66.43 310.89h2.64v5.6h-2.64z"/><path class="a5o" d="M66.43 308.34h5.28v5.6h-5.28z"/><path class="a5c" d="M69.07 308.34h2.64v5.6h-2.64z"/><path class="a5o" d="M69.07 305.91h5.28v5.6h-5.28z"/><path class="a5c" d="M71.71 305.91h2.64v5.6h-2.64z"/><path class="a5o" d="M71.71 303.59h5.28v5.6h-5.28z"/><path class="a5c" d="M74.35 303.59h2.64v5.6h-2.64z"/><path class="a5o" d="M74.35 301.39h5.28v5.6h-5.28z"/><path class="a5c" d="M76.99 301.39h2.64v5.6h-2.64z"/><path class="a5o" d="M76.98 299.31h5.28v5.6h-5.28z"/><path class="a5c" d="M79.62 299.31h2.64v5.6h-2.64z"/><path class="a5o" d="M79.62 297.33h5.28v5.6h-5.28z"/><path class="a5c" d="M82.26 297.33h2.64v5.6h-2.64z"/><path class="a5o" d="M82.26 295.48h5.28v5.6h-5.28z"/><path class="a5c" d="M84.9 295.48h2.64v5.6h-2.64z"/><path class="a5o" d="M84.9 293.74h5.28v5.6h-5.28z"/><path class="a5c" d="M87.54 293.74h2.64v5.6h-2.64z"/><path class="a5o" d="M87.54 292.12h5.28v5.6h-5.28z"/><path class="a5c" d="M90.18 292.12h2.64v5.6h-2.64z"/><path class="a5o" d="M90.17 290.61h5.28v5.6h-5.28z"/><path class="a5c" d="M92.81 290.61h2.64v5.6h-2.64z"/><path class="a5o" d="M92.81 289.21h5.28v5.6h-5.28z"/><path class="a5c" d="M95.45 289.21h2.64v5.6h-2.64z"/><path class="a5o" d="M95.45 287.94h5.28v5.6h-5.28z"/><path class="a5c" d="M98.09 287.94h2.64v5.6h-2.64z"/><path class="a5o" d="M98.09 286.78h5.28v5.6h-5.28z"/><path class="a5c" d="M100.73 286.78h2.64v5.6h-2.64z"/><path class="a5o" d="M100.73 285.73h5.28v5.6h-5.28z"/><path class="a5c" d="M103.37 285.73h2.64v5.6h-2.64z"/><path class="a5o" d="M103.36 284.8h5.28v5.6h-5.28z"/><path class="a5c" d="M106 284.8h2.64v5.6h-2.64z"/><path class="a5o" d="M106 283.98h5.28v5.6h-5.28z"/><path class="a5c" d="M108.64 283.98h2.64v5.6h-2.64z"/><path class="a5o" d="M108.64 283.28h5.28v5.6h-5.28z"/><path class="a5c" d="M111.28 283.28h2.64v5.6h-2.64z"/><path class="a5o" d="M111.28 282.7h5.28v5.6h-5.28z"/><path class="a5c" d="M113.92 282.7h2.64v5.6h-2.64z"/><path class="a5o" d="M113.92 282.23h5.28v5.6h-5.28z"/><path class="a5c" d="M116.56 282.23h2.64v5.6h-2.64z"/><path class="a5o" d="M116.55 281.87h5.28v5.6h-5.28z"/><path class="a5c" d="M119.19 281.87h2.64v5.6h-2.64z"/><path class="a5o" d="M119.19 281.63h5.28v5.6h-5.28z"/><path class="a5c" d="M121.83 281.63h2.64v5.6h-2.64z"/><path class="a5o" d="M121.83 281.51h5.28v5.6h-5.28z"/><path class="a5c" d="M124.47 281.51h2.64v5.6h-2.64z"/><path class="a5o" d="M124.47 281.5h5.28v5.6h-5.28z"/><path class="a5c" d="M127.11 281.5h2.64v5.6h-2.64z"/><path class="a5o" d="M127.11 281.61h5.28v5.6h-5.28z"/><path class="a5c" d="M129.75 281.61h2.64v5.6h-2.64z"/><path class="a5o" d="M129.74 281.83h5.28v5.6h-5.28z"/><path class="a5c" d="M132.38 281.83h2.64v5.6h-2.64z"/><path class="a5o" d="M132.38 282.17h5.28v5.6h-5.28z"/><path class="a5c" d="M135.02 282.17h2.64v5.6h-2.64z"/><path class="a5o" d="M135.02 282.62h5.28v5.6h-5.28z"/><path class="a5c" d="M137.66 282.62h2.64v5.6h-2.64z"/><path class="a5o" d="M137.66 283.19h5.28v5.6h-5.28z"/><path class="a5c" d="M140.3 283.19h2.64v5.6h-2.64z"/><path class="a5o" d="M140.3 283.88h5.28v5.6h-5.28z"/><path class="a5c" d="M142.94 283.88h2.64v5.6h-2.64z"/><path class="a5o" d="M142.93 284.68h5.28v5.6h-5.28z"/><path class="a5c" d="M145.57 284.68h2.64v5.6h-2.64z"/><path class="a5o" d="M145.57 285.59h5.28v5.6h-5.28z"/><path class="a5c" d="M148.21 285.59h2.64v5.6h-2.64z"/><path class="a5o" d="M148.21 286.62h5.28v5.6h-5.28z"/><path class="a5c" d="M150.85 286.62h2.64v5.6h-2.64z"/><path class="a5o" d="M150.85 287.77h5.28v5.6h-5.28z"/><path class="a5c" d="M153.49 287.77h2.64v5.6h-2.64z"/><path class="a5o" d="M153.49 289.03h5.28v5.6h-5.28z"/><path class="a5c" d="M156.13 289.03h2.64v5.6h-2.64z"/><path class="a6o" d="M32.14 349.91h5.28v5.6h-5.28z"/><path class="a6c" d="M34.78 349.91h2.64v5.6h-2.64z"/><path class="a6o" d="M34.78 345.44h5.28v5.6h-5.28z"/><path class="a6c" d="M37.42 345.44h2.64v5.6h-2.64z"/><path class="a6o" d="M37.41 341.08h5.28v5.6h-5.28z"/><path class="a6c" d="M40.05 341.08h2.64v5.6h-2.64z"/><path class="a6o" d="M40.05 336.84h5.28v5.6h-5.28z"/><path class="a6c" d="M42.69 336.84h2.64v5.6h-2.64z"/><path class="a6o" d="M42.69 332.71h5.28v5.6h-5.28z"/><path class="a6c" d="M45.33 332.71h2.64v5.6h-2.64z"/><path class="a6o" d="M45.33 328.71h5.28v5.6h-5.28z"/><path class="a6c" d="M47.97 328.71h2.64v5.6h-2.64z"/><path class="a6o" d="M47.97 324.82h5.28v5.6h-5.28z"/><path class="a6c" d="M50.61 324.82h2.64v5.6h-2.64z"/><path class="a6o" d="M50.6 321.04h5.28v5.6h-5.28z"/><path class="a6c" d="M53.24 321.04h2.64v5.6h-2.64z"/><path class="a6o" d="M53.24 317.39h5.28v5.6h-5.28z"/><path class="a6c" d="M55.88 317.39h2.64v5.6h-2.64z"/><path class="a6o" d="M55.88 313.85h5.28v5.6h-5.28z"/><path class="a6c" d="M58.52 313.85h2.64v5.6h-2.64z"/><path class="a6o" d="M58.52 310.43h5.28v5.6h-5.28z"/><path class="a6c" d="M61.16 310.43h2.64v5.6h-2.64z"/><path class="a6o" d="M61.16 307.12h5.28v5.6h-5.28z"/><path class="a6c" d="M63.8 307.12h2.64v5.6h-2.64z"/><path class="a6o" d="M63.79 303.94h5.28v5.6h-5.28z"/><path class="a6c" d="M66.43 303.94h2.64v5.6h-2.64z"/><path class="a6o" d="M66.43 300.87h5.28v5.6h-5.28z"/><path class="a6c" d="M69.07 300.87h2.64v5.6h-2.64z"/><path class="a6o" d="M69.07 297.92h5.28v5.6h-5.28z"/><path class="a6c" d="M71.71 297.92h2.64v5.6h-2.64z"/><path class="a6o" d="M71.71 295.08h5.28v5.6h-5.28z"/><path class="a6c" d="M74.35 295.08h2.64v5.6h-2.64z"/><path class="a6o" d="M74.35 292.36h5.28v5.6h-5.28z"/><path class="a6c" d="M76.99 292.36h2.64v5.6h-2.64z"/><path class="a6o" d="M76.98 289.76h5.28v5.6h-5.28z"/><path class="a6c" d="M79.62 289.76h2.64v5.6h-2.64z"/><path class="a6o" d="M79.62 287.28h5.28v5.6h-5.28z"/><path class="a6c" d="M82.26 287.28h2.64v5.6h-2.64z"/><path class="a6o" d="M82.26 284.91h5.28v5.6h-5.28z"/><path class="a6c" d="M84.9 284.91h2.64v5.6h-2.64z"/><path class="a6o" d="M84.9 282.67h5.28v5.6h-5.28z"/><path class="a6c" d="M87.54 282.67h2.64v5.6h-2.64z"/><path class="a6o" d="M87.54 280.53h5.28v5.6h-5.28z"/><path class="a6c" d="M90.18 280.53h2.64v5.6h-2.64z"/><path class="a6o" d="M90.17 278.52h5.28v5.6h-5.28z"/><path class="a6c" d="M92.81 278.52h2.64v5.6h-2.64z"/><path class="a6o" d="M92.81 276.62h5.28v5.6h-5.28z"/><path class="a6c" d="M95.45 276.62h2.64v5.6h-2.64z"/><path class="a6o" d="M95.45 274.84h5.28v5.6h-5.28z"/><path class="a6c" d="M98.09 274.84h2.64v5.6h-2.64z"/><path class="a6o" d="M98.09 273.18h5.28v5.6h-5.28z"/><path class="a6c" d="M100.73 273.18h2.64v5.6h-2.64z"/><path class="a6o" d="M100.73 271.64h5.28v5.6h-5.28z"/><path class="a6c" d="M103.37 271.64h2.64v5.6h-2.64z"/><path class="a6o" d="M103.36 270.21h5.28v5.6h-5.28z"/><path class="a6c" d="M106 270.21h2.64v5.6h-2.64z"/><path class="a6o" d="M106 268.9h5.28v5.6h-5.28z"/><path class="a6c" d="M108.64 268.9h2.64v5.6h-2.64z"/><path class="a6o" d="M108.64 267.7h5.28v5.6h-5.28z"/><path class="a6c" d="M111.28 267.7h2.64v5.6h-2.64z"/><path class="a6o" d="M111.28 266.63h5.28v5.6h-5.28z"/><path class="a6c" d="M113.92 266.63h2.64v5.6h-2.64z"/><path class="a6o" d="M113.92 265.67h5.28v5.6h-5.28z"/><path class="a6c" d="M116.56 265.67h2.64v5.6h-2.64z"/><path class="a6o" d="M116.55 264.83h5.28v5.6h-5.28z"/><path class="a6c" d="M119.19 264.83h2.64v5.6h-2.64z"/><path class="a6o" d="M119.19 264.1h5.28v5.6h-5.28z"/><path class="a6c" d="M121.83 264.1h2.64v5.6h-2.64z"/><path class="a6o" d="M121.83 263.49h5.28v5.6h-5.28z"/><path class="a6c" d="M124.47 263.49h2.64v5.6h-2.64z"/><path class="a6o" d="M124.47 263h5.28v5.6h-5.28z"/><path class="a6c" d="M127.11 263h2.64v5.6h-2.64z"/><path class="a6o" d="M127.11 262.63h5.28v5.6h-5.28z"/><path class="a6c" d="M129.75 262.63h2.64v5.6h-2.64z"/><path class="a6o" d="M129.74 262.38h5.28v5.6h-5.28z"/><path class="a6c" d="M132.38 262.38h2.64v5.6h-2.64z"/><path class="a6o" d="M132.38 262.24h5.28v5.6h-5.28z"/><path class="a6c" d="M135.02 262.24h2.64v5.6h-2.64z"/><path class="a6o" d="M135.02 262.22h5.28v5.6h-5.28z"/><path class="a6c" d="M137.66 262.22h2.64v5.6h-2.64z"/><path class="a6o" d="M137.66 262.31h5.28v5.6h-5.28z"/><path class="a6c" d="M140.3 262.31h2.64v5.6h-2.64z"/><path class="a6o" d="M140.3 262.53h5.28v5.6h-5.28z"/><path class="a6c" d="M142.94 262.53h2.64v5.6h-2.64z"/><path class="a6o" d="M142.93 262.86h5.28v5.6h-5.28z"/><path class="a6c" d="M145.57 262.86h2.64v5.6h-2.64z"/><path class="a6o" d="M145.57 263.3h5.28v5.6h-5.28z"/><path class="a6c" d="M148.21 263.3h2.64v5.6h-2.64z"/><path class="a6o" d="M148.21 263.87h5.28v5.6h-5.28z"/><path class="a6c" d="M150.85 263.87h2.64v5.6h-2.64z"/><path class="a6o" d="M150.85 264.55h5.28v5.6h-5.28z"/><path class="a6c" d="M153.49 264.55h2.64v5.6h-2.64z"/><path class="a6o" d="M153.49 265.35h5.28v5.6h-5.28z"/><path class="a6c" d="M156.13 265.35h2.64v5.6h-2.64z"/><path class="a6o" d="M156.12 266.27h5.28v5.6h-5.28z"/><path class="a6c" d="M158.76 266.27h2.64v5.6h-2.64z"/><path class="a6o" d="M158.76 267.3h5.28v5.6h-5.28z"/><path class="a6c" d="M161.4 267.3h2.64v5.6h-2.64z"/><path class="a6o" d="M161.4 268.45h5.28v5.6h-5.28z"/><path class="a6c" d="M164.04 268.45h2.64v5.6h-2.64z"/><path class="a6o" d="M164.04 269.72h5.28v5.6h-5.28z"/><path class="a6c" d="M166.68 269.72h2.64v5.6h-2.64z"/><path class="a6o" d="M166.68 271.11h5.28v5.6h-5.28z"/><path class="a6c" d="M169.32 271.11h2.64v5.6h-2.64z"/><path class="a6o" d="M169.31 272.61h5.28v5.6h-5.28z"/><path class="a6c" d="M171.95 272.61h2.64v5.6h-2.64z"/><path class="a7o" d="M32.14 349.35h5.28v5.6h-5.28z"/><path class="a7c" d="M34.78 349.35h2.64v5.6h-2.64z"/><path class="a7o" d="M34.78 344.32h5.28v5.6h-5.28z"/><path class="a7c" d="M37.42 344.32h2.64v5.6h-2.64z"/><path class="a7o" d="M37.41 339.4h5.28v5.6h-5.28z"/><path class="a7c" d="M40.05 339.4h2.64v5.6h-2.64z"/><path class="a7o" d="M40.05 334.61h5.28v5.6h-5.28z"/><path class="a7c" d="M42.69 334.61h2.64v5.6h-2.64z"/><path class="a7o" d="M42.69 329.93h5.28v5.6h-5.28z"/><path class="a7c" d="M45.33 329.93h2.64v5.6h-2.64z"/><path class="a7o" d="M45.33 325.37h5.28v5.6h-5.28z"/><path class="a7c" d="M47.97 325.37h2.64v5.6h-2.64z"/><path class="a7o" d="M47.97 320.94h5.28v5.6h-5.28z"/><path class="a7c" d="M50.61 320.94h2.64v5.6h-2.64z"/><path class="a7o" d="M50.6 316.62h5.28v5.6h-5.28z"/><path class="a7c" d="M53.24 316.62h2.64v5.6h-2.64z"/><path class="a7o" d="M53.24 312.42h5.28v5.6h-5.28z"/><path class="a7c" d="M55.88 312.42h2.64v5.6h-2.64z"/><path class="a7o" d="M55.88 308.34h5.28v5.6h-5.28z"/><path class="a7c" d="M58.52 308.34h2.64v5.6h-2.64z"/><path class="a7o" d="M58.52 304.38h5.28v5.6h-5.28z"/><path class="a7c" d="M61.16 304.38h2.64v5.6h-2.64z"/><path class="a7o" d="M61.16 300.54h5.28v5.6h-5.28z"/><path class="a7c" d="M63.8 300.54h2.64v5.6h-2.64z"/><path class="a7o" d="M63.79 296.82h5.28v5.6h-5.28z"/><path class="a7c" d="M66.43 296.82h2.64v5.6h-2.64z"/><path class="a7o" d="M66.43 293.22h5.28v5.6h-5.28z"/><path class="a7c" d="M69.07 293.22h2.64v5.6h-2.64z"/><path class="a7o" d="M69.07 289.74h5.28v5.6h-5.28z"/><path class="a7c" d="M71.71 289.74h2.64v5.6h-2.64z"/><path class="a7o" d="M71.71 286.38h5.28v5.6h-5.28z"/><path class="a7c" d="M74.35 286.38h2.64v5.6h-2.64z"/><path class="a7o" d="M74.35 283.14h5.28v5.6h-5.28z"/><path class="a7c" d="M76.99 283.14h2.64v5.6h-2.64z"/><path class="a7o" d="M76.98 280.01h5.28v5.6h-5.28z"/><path class="a7c" d="M79.62 280.01h2.64v5.6h-2.64z"/><path class="a7o" d="M79.62 277.01h5.28v5.6h-5.28z"/><path class="a7c" d="M82.26 277.01h2.64v5.6h-2.64z"/><path class="a7o" d="M82.26 274.12h5.28v5.6h-5.28z"/><path class="a7c" d="M84.9 274.12h2.64v5.6h-2.64z"/><path class="a7o" d="M84.9 271.36h5.28v5.6h-5.28z"/><path class="a7c" d="M87.54 271.36h2.64v5.6h-2.64z"/><path class="a7o" d="M87.54 268.71h5.28v5.6h-5.28z"/><path class="a7c" d="M90.18 268.71h2.64v5.6h-2.64z"/><path class="a7o" d="M90.17 266.19h5.28v5.6h-5.28z"/><path class="a7c" d="M92.81 266.19h2.64v5.6h-2.64z"/><path class="a7o" d="M92.81 263.78h5.28v5.6h-5.28z"/><path class="a7c" d="M95.45 263.78h2.64v5.6h-2.64z"/><path class="a7o" d="M95.45 261.5h5.28v5.6h-5.28z"/><path class="a7c" d="M98.09 261.5h2.64v5.6h-2.64z"/><path class="a7o" d="M98.09 259.33h5.28v5.6h-5.28z"/><path class="a7c" d="M100.73 259.33h2.64v5.6h-2.64z"/><path class="a7o" d="M100.73 257.28h5.28v5.6h-5.28z"/><path class="a7c" d="M103.37 257.28h2.64v5.6h-2.64z"/><path class="a7o" d="M103.36 255.35h5.28v5.6h-5.28z"/><path class="a7c" d="M106 255.35h2.64v5.6h-2.64z"/><path class="a7o" d="M106 253.55h5.28v5.6h-5.28z"/><path class="a7c" d="M108.64 253.55h2.64v5.6h-2.64z"/><path class="a7o" d="M108.64 251.86h5.28v5.6h-5.28z"/><path class="a7c" d="M111.28 251.86h2.64v5.6h-2.64z"/><path class="a7o" d="M111.28 250.29h5.28v5.6h-5.28z"/><path class="a7c" d="M113.92 250.29h2.64v5.6h-2.64z"/><path class="a7o" d="M113.92 248.84h5.28v5.6h-5.28z"/><path class="a7c" d="M116.56 248.84h2.64v5.6h-2.64z"/><path class="a7o" d="M116.55 247.51h5.28v5.6h-5.28z"/><path class="a7c" d="M119.19 247.51h2.64v5.6h-2.64z"/><path class="a7o" d="M119.19 246.29h5.28v5.6h-5.28z"/><path class="a7c" d="M121.83 246.29h2.64v5.6h-2.64z"/><path class="a7o" d="M121.83 245.2h5.28v5.6h-5.28z"/><path class="a7c" d="M124.47 245.2h2.64v5.6h-2.64z"/><path class="a7o" d="M124.47 244.23h5.28v5.6h-5.28z"/><path class="a7c" d="M127.11 244.23h2.64v5.6h-2.64z"/><path class="a7o" d="M127.11 243.38h5.28v5.6h-5.28z"/><path class="a7c" d="M129.75 243.38h2.64v5.6h-2.64z"/><path class="a7o" d="M129.74 242.64h5.28v5.6h-5.28z"/><path class="a7c" d="M132.38 242.64h2.64v5.6h-2.64z"/><path class="a7o" d="M132.38 242.03h5.28v5.6h-5.28z"/><path class="a7c" d="M135.02 242.03h2.64v5.6h-2.64z"/><path class="a7o" d="M135.02 241.54h5.28v5.6h-5.28z"/><path class="a7c" d="M137.66 241.54h2.64v5.6h-2.64z"/><path class="a7o" d="M137.66 241.16h5.28v5.6h-5.28z"/><path class="a7c" d="M140.3 241.16h2.64v5.6h-2.64z"/><path class="a7o" d="M140.3 240.91h5.28v5.6h-5.28z"/><path class="a7c" d="M142.94 240.91h2.64v5.6h-2.64z"/><path class="a7o" d="M142.93 240.77h5.28v5.6h-5.28z"/><path class="a7c" d="M145.57 240.77h2.64v5.6h-2.64z"/><path class="a7o" d="M145.57 240.75h5.28v5.6h-5.28z"/><path class="a7c" d="M148.21 240.75h2.64v5.6h-2.64z"/><path class="a7o" d="M148.21 240.86h5.28v5.6h-5.28z"/><path class="a7c" d="M150.85 240.86h2.64v5.6h-2.64z"/><path class="a7o" d="M150.85 241.08h5.28v5.6h-5.28z"/><path class="a7c" d="M153.49 241.08h2.64v5.6h-2.64z"/><path class="a7o" d="M153.49 241.42h5.28v5.6h-5.28z"/><path class="a7c" d="M156.13 241.42h2.64v5.6h-2.64z"/><path class="a7o" d="M156.12 241.88h5.28v5.6h-5.28z"/><path class="a7c" d="M158.76 241.88h2.64v5.6h-2.64z"/><path class="a7o" d="M158.76 242.46h5.28v5.6h-5.28z"/><path class="a7c" d="M161.4 242.46h2.64v5.6h-2.64z"/><path class="a7o" d="M161.4 243.16h5.28v5.6h-5.28z"/><path class="a7c" d="M164.04 243.16h2.64v5.6h-2.64z"/><path class="a7o" d="M164.04 243.98h5.28v5.6h-5.28z"/><path class="a7c" d="M166.68 243.98h2.64v5.6h-2.64z"/><path class="a7o" d="M166.68 244.92h5.28v5.6h-5.28z"/><path class="a7c" d="M169.32 244.92h2.64v5.6h-2.64z"/><path class="a7o" d="M169.31 245.98h5.28v5.6h-5.28z"/><path class="a7c" d="M171.95 245.98h2.64v5.6h-2.64z"/><path class="a7o" d="M171.95 247.16h5.28v5.6h-5.28z"/><path class="a7c" d="M174.59 247.16h2.64v5.6h-2.64z"/><path class="a7o" d="M174.59 248.46h5.28v5.6h-5.28z"/><path class="a7c" d="M177.23 248.46h2.64v5.6h-2.64z"/><path class="a7o" d="M177.23 249.88h5.28v5.6h-5.28z"/><path class="a7c" d="M179.87 249.88h2.64v5.6h-2.64z"/><path class="a7o" d="M179.87 251.41h5.28v5.6h-5.28z"/><path class="a7c" d="M182.51 251.41h2.64v5.6h-2.64z"/><path class="a8o" d="M32.14 348.64h5.28v5.6h-5.28z"/><path class="a8c" d="M34.78 348.64h2.64v5.6h-2.64z"/><path class="a8o" d="M34.78 342.9h5.28v5.6h-5.28z"/><path class="a8c" d="M37.42 342.9h2.64v5.6h-2.64z"/><path class="a8o" d="M37.41 337.28h5.28v5.6h-5.28z"/><path class="a8c" d="M40.05 337.28h2.64v5.6h-2.64z"/><path class="a8o" d="M40.05 331.78h5.28v5.6h-5.28z"/><path class="a8c" d="M42.69 331.78h2.64v5.6h-2.64z"/><path class="a8o" d="M42.69 326.41h5.28v5.6h-5.28z"/><path class="a8c" d="M45.33 326.41h2.64v5.6h-2.64z"/><path class="a8o" d="M45.33 321.15h5.28v5.6h-5.28z"/><path class="a8c" d="M47.97 321.15h2.64v5.6h-2.64z"/><path class="a8o" d="M47.97 316.02h5.28v5.6h-5.28z"/><path class="a8c" d="M50.61 316.02h2.64v5.6h-2.64z"/><path class="a8o" d="M50.6 311.01h5.28v5.6h-5.28z"/><path class="a8c" d="M53.24 311.01h2.64v5.6h-2.64z"/><path class="a8o" d="M53.24 306.12h5.28v5.6h-5.28z"/><path class="a8c" d="M55.88 306.12h2.64v5.6h-2.64z"/><path class="a8o" d="M55.88 301.35h5.28v5.6h-5.28z"/><path class="a8c" d="M58.52 301.35h2.64v5.6h-2.64z"/><path class="a8o" d="M58.52 296.71h5.28v5.6h-5.28z"/><path class="a8c" d="M61.16 296.71h2.64v5.6h-2.64z"/><path class="a8o" d="M61.16 292.18h5.28v5.6h-5.28z"/><path class="a8c" d="M63.8 292.18h2.64v5.6h-2.64z"/><path class="a8o" d="M63.79 287.78h5.28v5.6h-5.28z"/><path class="a8c" d="M66.43 287.78h2.64v5.6h-2.64z"/><path class="a8o" d="M66.43 283.5h5.28v5.6h-5.28z"/><path class="a8c" d="M69.07 283.5h2.64v5.6h-2.64z"/><path class="a8o" d="M69.07 279.34h5.28v5.6h-5.28z"/><path class="a8c" d="M71.71 279.34h2.64v5.6h-2.64z"/><path class="a8o" d="M71.71 275.3h5.28v5.6h-5.28z"/><path class="a8c" d="M74.35 275.3h2.64v5.6h-2.64z"/><path class="a8o" d="M74.35 271.39h5.28v5.6h-5.28z"/><path class="a8c" d="M76.99 271.39h2.64v5.6h-2.64z"/><path class="a8o" d="M76.98 267.59h5.28v5.6h-5.28z"/><path class="a8c" d="M79.62 267.59h2.64v5.6h-2.64z"/><path class="a8o" d="M79.62 263.92h5.28v5.6h-5.28z"/><path class="a8c" d="M82.26 263.92h2.64v5.6h-2.64z"/><path class="a8o" d="M82.26 260.37h5.28v5.6h-5.28z"/><path class="a8c" d="M84.9 260.37h2.64v5.6h-2.64z"/><path class="a8o" d="M84.9 256.94h5.28v5.6h-5.28z"/><path class="a8c" d="M87.54 256.94h2.64v5.6h-2.64z"/><path class="a8o" d="M87.54 253.63h5.28v5.6h-5.28z"/><path class="a8c" d="M90.18 253.63h2.64v5.6h-2.64z"/><path class="a8o" d="M90.17 250.45h5.28v5.6h-5.28z"/><path class="a8c" d="M92.81 250.45h2.64v5.6h-2.64z"/><path class="a8o" d="M92.81 247.38h5.28v5.6h-5.28z"/><path class="a8c" d="M95.45 247.38h2.64v5.6h-2.64z"/><path class="a8o" d="M95.45 244.44h5.28v5.6h-5.28z"/><path class="a8c" d="M98.09 244.44h2.64v5.6h-2.64z"/><path class="a8o" d="M98.09 241.62h5.28v5.6h-5.28z"/><path class="a8c" d="M100.73 241.62h2.64v5.6h-2.64z"/><path class="a8o" d="M100.73 238.92h5.28v5.6h-5.28z"/><path class="a8c" d="M103.37 238.92h2.64v5.6h-2.64z"/><path class="a8o" d="M103.36 236.35h5.28v5.6h-5.28z"/><path class="a8c" d="M106 236.35h2.64v5.6h-2.64z"/><path class="a8o" d="M106 233.89h5.28v5.6h-5.28z"/><path class="a8c" d="M108.64 233.89h2.64v5.6h-2.64z"/><path class="a8o" d="M108.64 231.56h5.28v5.6h-5.28z"/><path class="a8c" d="M111.28 231.56h2.64v5.6h-2.64z"/><path class="a8o" d="M111.28 229.35h5.28v5.6h-5.28z"/><path class="a8c" d="M113.92 229.35h2.64v5.6h-2.64z"/><path class="a8o" d="M113.92 227.26h5.28v5.6h-5.28z"/><path class="a8c" d="M116.56 227.26h2.64v5.6h-2.64z"/><path class="a8o" d="M116.55 225.29h5.28v5.6h-5.28z"/><path class="a8c" d="M119.19 225.29h2.64v5.6h-2.64z"/><path class="a8o" d="M119.19 223.44h5.28v5.6h-5.28z"/><path class="a8c" d="M121.83 223.44h2.64v5.6h-2.64z"/><path class="a8o" d="M121.83 221.72h5.28v5.6h-5.28z"/><path class="a8c" d="M124.47 221.72h2.64v5.6h-2.64z"/><path class="a8o" d="M124.47 220.12h5.28v5.6h-5.28z"/><path class="a8c" d="M127.11 220.12h2.64v5.6h-2.64z"/><path class="a8o" d="M127.11 218.64h5.28v5.6h-5.28z"/><path class="a8c" d="M129.75 218.64h2.64v5.6h-2.64z"/><path class="a8o" d="M129.74 217.28h5.28v5.6h-5.28z"/><path class="a8c" d="M132.38 217.28h2.64v5.6h-2.64z"/><path class="a8o" d="M132.38 216.04h5.28v5.6h-5.28z"/><path class="a8c" d="M135.02 216.04h2.64v5.6h-2.64z"/><path class="a8o" d="M135.02 214.92h5.28v5.6h-5.28z"/><path class="a8c" d="M137.66 214.92h2.64v5.6h-2.64z"/><path class="a8o" d="M137.66 213.93h5.28v5.6h-5.28z"/><path class="a8c" d="M140.3 213.93h2.64v5.6h-2.64z"/><path class="a8o" d="M140.3 213.06h5.28v5.6h-5.28z"/><path class="a8c" d="M142.94 213.06h2.64v5.6h-2.64z"/><path class="a8o" d="M142.93 212.31h5.28v5.6h-5.28z"/><path class="a8c" d="M145.57 212.31h2.64v5.6h-2.64z"/><path class="a8o" d="M145.57 211.68h5.28v5.6h-5.28z"/><path class="a8c" d="M148.21 211.68h2.64v5.6h-2.64z"/><path class="a8o" d="M148.21 211.17h5.28v5.6h-5.28z"/><path class="a8c" d="M150.85 211.17h2.64v5.6h-2.64z"/><path class="a8o" d="M150.85 210.78h5.28v5.6h-5.28z"/><path class="a8c" d="M153.49 210.78h2.64v5.6h-2.64z"/><path class="a8o" d="M153.49 210.52h5.28v5.6h-5.28z"/><path class="a8c" d="M156.13 210.52h2.64v5.6h-2.64z"/><path class="a8o" d="M156.12 210.38h5.28v5.6h-5.28z"/><path class="a8c" d="M158.76 210.38h2.64v5.6h-2.64z"/><path class="a8o" d="M158.76 210.36h5.28v5.6h-5.28z"/><path class="a8c" d="M161.4 210.36h2.64v5.6h-2.64z"/><path class="a8o" d="M161.4 210.46h5.28v5.6h-5.28z"/><path class="a8c" d="M164.04 210.46h2.64v5.6h-2.64z"/><path class="a8o" d="M164.04 210.68h5.28v5.6h-5.28z"/><path class="a8c" d="M166.68 210.68h2.64v5.6h-2.64z"/><path class="a8o" d="M166.68 211.03h5.28v5.6h-5.28z"/><path class="a8c" d="M169.32 211.03h2.64v5.6h-2.64z"/><path class="a8o" d="M169.31 211.49h5.28v5.6h-5.28z"/><path class="a8c" d="M171.95 211.49h2.64v5.6h-2.64z"/><path class="a8o" d="M171.95 212.08h5.28v5.6h-5.28z"/><path class="a8c" d="M174.59 212.08h2.64v5.6h-2.64z"/><path class="a8o" d="M174.59 212.79h5.28v5.6h-5.28z"/><path class="a8c" d="M177.23 212.79h2.64v5.6h-2.64z"/><path class="a8o" d="M177.23 213.62h5.28v5.6h-5.28z"/><path class="a8c" d="M179.87 213.62h2.64v5.6h-2.64z"/><path class="a8o" d="M179.87 214.58h5.28v5.6h-5.28z"/><path class="a8c" d="M182.51 214.58h2.64v5.6h-2.64z"/><path class="a8o" d="M182.5 215.65h5.28v5.6h-5.28z"/><path class="a8c" d="M185.14 215.65h2.64v5.6h-2.64z"/><path class="a8o" d="M185.14 216.85h5.28v5.6h-5.28z"/><path class="a8c" d="M187.78 216.85h2.64v5.6h-2.64z"/><path class="a8o" d="M187.78 218.17h5.28v5.6h-5.28z"/><path class="a8c" d="M190.42 218.17h2.64v5.6h-2.64z"/><path class="a8o" d="M190.42 219.61h5.28v5.6h-5.28z"/><path class="a8c" d="M193.06 219.61h2.64v5.6h-2.64z"/><path class="a8o" d="M193.06 221.17h5.28v5.6h-5.28z"/><path class="a8c" d="M195.7 221.17h2.64v5.6h-2.64z"/><path class="a8o" d="M195.69 222.86h5.28v5.6h-5.28z"/><path class="a8c" d="M198.33 222.86h2.64v5.6h-2.64z"/><rect x="260" y="201.2" width="190" height="164.1" fill="none" stroke="#303030" stroke-width="1.3"/><path d="M265.53 365.3v-3.6M265.53 201.2v3.6M291.89 365.3v-3.6M291.89 201.2v3.6M318.24 365.3v-3.6M318.24 201.2v3.6M344.59 365.3v-3.6M344.59 201.2v3.6M370.94 365.3v-3.6M370.94 201.2v3.6M397.3 365.3v-3.6M397.3 201.2v3.6M423.65 365.3v-3.6M423.65 201.2v3.6M450 365.3v-3.6M450 201.2v3.6M260 365.3h3.6M450 365.3h-3.6M260 341.86h3.6M450 341.86h-3.6M260 318.41h3.6M450 318.41h-3.6M260 294.97h3.6M450 294.97h-3.6M260 271.53h3.6M450 271.53h-3.6M260 248.09h3.6M450 248.09h-3.6M260 224.64h3.6M450 224.64h-3.6M260 201.2h3.6M450 201.2h-3.6" stroke="#303030" stroke-width="0.9" fill="none"/><text x="265.53" y="376.2" text-anchor="middle" class="tk">0</text><text x="291.89" y="376.2" text-anchor="middle" class="tk">1</text><text x="318.24" y="376.2" text-anchor="middle" class="tk">2</text><text x="344.59" y="376.2" text-anchor="middle" class="tk">3</text><text x="370.94" y="376.2" text-anchor="middle" class="tk">4</text><text x="397.3" y="376.2" text-anchor="middle" class="tk">5</text><text x="423.65" y="376.2" text-anchor="middle" class="tk">6</text><text x="450" y="376.2" text-anchor="middle" class="tk">7</text><text x="256.2" y="368.2" text-anchor="end" class="tk">1</text><text x="256.2" y="344.76" text-anchor="end" class="tk">2</text><text x="256.2" y="321.31" text-anchor="end" class="tk">3</text><text x="256.2" y="297.87" text-anchor="end" class="tk">4</text><text x="256.2" y="274.43" text-anchor="end" class="tk">5</text><text x="256.2" y="250.99" text-anchor="end" class="tk">6</text><text x="256.2" y="227.54" text-anchor="end" class="tk">7</text><text x="256.2" y="204.1" text-anchor="end" class="tk">8</text><text transform="translate(246.5,282.2) rotate(-90)" text-anchor="middle" class="at">Input HF (W)</text><text x="358" y="387.1" text-anchor="middle" class="at"><tspan font-style="italic">I</tspan> (A)</text><path class="e0o" d="M265.53 346.56h5.28v5.6h-5.28z"/><path class="e0c" d="M268.17 346.56h2.64v5.6h-2.64z"/><path class="e0o" d="M268.16 346.15h5.28v5.6h-5.28z"/><path class="e0c" d="M270.8 346.15h2.64v5.6h-2.64z"/><path class="e0o" d="M270.8 345.74h5.28v5.6h-5.28z"/><path class="e0c" d="M273.44 345.74h2.64v5.6h-2.64z"/><path class="e0o" d="M273.43 345.33h5.28v5.6h-5.28z"/><path class="e0c" d="M276.07 345.33h2.64v5.6h-2.64z"/><path class="e0o" d="M276.07 344.92h5.28v5.6h-5.28z"/><path class="e0c" d="M278.71 344.92h2.64v5.6h-2.64z"/><path class="e0o" d="M278.71 344.5h5.28v5.6h-5.28z"/><path class="e0c" d="M281.35 344.5h2.64v5.6h-2.64z"/><path class="e0o" d="M281.34 344.09h5.28v5.6h-5.28z"/><path class="e0c" d="M283.98 344.09h2.64v5.6h-2.64z"/><path class="e0o" d="M283.98 343.68h5.28v5.6h-5.28z"/><path class="e0c" d="M286.62 343.68h2.64v5.6h-2.64z"/><path class="e0o" d="M286.61 343.27h5.28v5.6h-5.28z"/><path class="e0c" d="M289.25 343.27h2.64v5.6h-2.64z"/><path class="e0o" d="M289.25 342.86h5.28v5.6h-5.28z"/><path class="e0c" d="M291.89 342.86h2.64v5.6h-2.64z"/><path class="e0o" d="M291.88 342.45h5.28v5.6h-5.28z"/><path class="e0c" d="M294.52 342.45h2.64v5.6h-2.64z"/><path class="e0o" d="M294.52 342.04h5.28v5.6h-5.28z"/><path class="e0c" d="M297.16 342.04h2.64v5.6h-2.64z"/><path class="e0o" d="M297.15 341.63h5.28v5.6h-5.28z"/><path class="e0c" d="M299.79 341.63h2.64v5.6h-2.64z"/><path class="e0o" d="M299.79 341.22h5.28v5.6h-5.28z"/><path class="e0c" d="M302.43 341.22h2.64v5.6h-2.64z"/><path class="e0o" d="M302.42 340.81h5.28v5.6h-5.28z"/><path class="e0c" d="M305.06 340.81h2.64v5.6h-2.64z"/><path class="e0o" d="M305.06 340.4h5.28v5.6h-5.28z"/><path class="e0c" d="M307.7 340.4h2.64v5.6h-2.64z"/><path class="e0o" d="M307.69 339.98h5.28v5.6h-5.28z"/><path class="e0c" d="M310.33 339.98h2.64v5.6h-2.64z"/><path class="e0o" d="M310.33 339.57h5.28v5.6h-5.28z"/><path class="e0c" d="M312.97 339.57h2.64v5.6h-2.64z"/><polyline points="268.17,351.81 270.8,351.4 273.44,350.99 276.07,350.58 278.71,350.17 281.35,349.75 283.98,349.34 286.62,348.93 289.25,348.52 291.89,348.11 294.52,347.7 297.16,347.29 299.79,346.88 302.43,346.47 305.06,346.06 307.7,345.65 310.33,345.23 312.97,344.82" fill="none" stroke="#d8394f" stroke-width="0.6" stroke-opacity="0.75"/><path class="e1o" d="M265.53 337.07h5.28v5.6h-5.28z"/><path class="e1c" d="M268.17 337.07h2.64v5.6h-2.64z"/><path class="e1o" d="M268.16 336.64h5.28v5.6h-5.28z"/><path class="e1c" d="M270.8 336.64h2.64v5.6h-2.64z"/><path class="e1o" d="M270.8 336.22h5.28v5.6h-5.28z"/><path class="e1c" d="M273.44 336.22h2.64v5.6h-2.64z"/><path class="e1o" d="M273.43 335.79h5.28v5.6h-5.28z"/><path class="e1c" d="M276.07 335.79h2.64v5.6h-2.64z"/><path class="e1o" d="M276.07 335.37h5.28v5.6h-5.28z"/><path class="e1c" d="M278.71 335.37h2.64v5.6h-2.64z"/><path class="e1o" d="M278.71 334.95h5.28v5.6h-5.28z"/><path class="e1c" d="M281.35 334.95h2.64v5.6h-2.64z"/><path class="e1o" d="M281.34 334.52h5.28v5.6h-5.28z"/><path class="e1c" d="M283.98 334.52h2.64v5.6h-2.64z"/><path class="e1o" d="M283.98 334.1h5.28v5.6h-5.28z"/><path class="e1c" d="M286.62 334.1h2.64v5.6h-2.64z"/><path class="e1o" d="M286.61 333.67h5.28v5.6h-5.28z"/><path class="e1c" d="M289.25 333.67h2.64v5.6h-2.64z"/><path class="e1o" d="M289.25 333.25h5.28v5.6h-5.28z"/><path class="e1c" d="M291.89 333.25h2.64v5.6h-2.64z"/><path class="e1o" d="M291.88 332.83h5.28v5.6h-5.28z"/><path class="e1c" d="M294.52 332.83h2.64v5.6h-2.64z"/><path class="e1o" d="M294.52 332.4h5.28v5.6h-5.28z"/><path class="e1c" d="M297.16 332.4h2.64v5.6h-2.64z"/><path class="e1o" d="M297.15 331.98h5.28v5.6h-5.28z"/><path class="e1c" d="M299.79 331.98h2.64v5.6h-2.64z"/><path class="e1o" d="M299.79 331.55h5.28v5.6h-5.28z"/><path class="e1c" d="M302.43 331.55h2.64v5.6h-2.64z"/><path class="e1o" d="M302.42 331.13h5.28v5.6h-5.28z"/><path class="e1c" d="M305.06 331.13h2.64v5.6h-2.64z"/><path class="e1o" d="M305.06 330.71h5.28v5.6h-5.28z"/><path class="e1c" d="M307.7 330.71h2.64v5.6h-2.64z"/><path class="e1o" d="M307.69 330.28h5.28v5.6h-5.28z"/><path class="e1c" d="M310.33 330.28h2.64v5.6h-2.64z"/><path class="e1o" d="M310.33 329.86h5.28v5.6h-5.28z"/><path class="e1c" d="M312.97 329.86h2.64v5.6h-2.64z"/><path class="e1o" d="M312.96 329.43h5.28v5.6h-5.28z"/><path class="e1c" d="M315.6 329.43h2.64v5.6h-2.64z"/><path class="e1o" d="M315.6 329.01h5.28v5.6h-5.28z"/><path class="e1c" d="M318.24 329.01h2.64v5.6h-2.64z"/><path class="e1o" d="M318.23 328.58h5.28v5.6h-5.28z"/><path class="e1c" d="M320.87 328.58h2.64v5.6h-2.64z"/><path class="e1o" d="M320.87 328.16h5.28v5.6h-5.28z"/><path class="e1c" d="M323.51 328.16h2.64v5.6h-2.64z"/><path class="e1o" d="M323.5 327.74h5.28v5.6h-5.28z"/><path class="e1c" d="M326.14 327.74h2.64v5.6h-2.64z"/><polyline points="268.17,342.32 270.8,341.89 273.44,341.47 276.07,341.04 278.71,340.62 281.35,340.2 283.98,339.77 286.62,339.35 289.25,338.92 291.89,338.5 294.52,338.08 297.16,337.65 299.79,337.23 302.43,336.8 305.06,336.38 307.7,335.96 310.33,335.53 312.97,335.11 315.6,334.68 318.24,334.26 320.87,333.83 323.51,333.41 326.14,332.99" fill="none" stroke="#f57d15" stroke-width="0.6" stroke-opacity="0.75"/><path class="e2o" d="M265.53 327.79h5.28v5.6h-5.28z"/><path class="e2c" d="M268.17 327.79h2.64v5.6h-2.64z"/><path class="e2o" d="M268.16 327.3h5.28v5.6h-5.28z"/><path class="e2c" d="M270.8 327.3h2.64v5.6h-2.64z"/><path class="e2o" d="M270.8 326.81h5.28v5.6h-5.28z"/><path class="e2c" d="M273.44 326.81h2.64v5.6h-2.64z"/><path class="e2o" d="M273.43 326.32h5.28v5.6h-5.28z"/><path class="e2c" d="M276.07 326.32h2.64v5.6h-2.64z"/><path class="e2o" d="M276.07 325.83h5.28v5.6h-5.28z"/><path class="e2c" d="M278.71 325.83h2.64v5.6h-2.64z"/><path class="e2o" d="M278.71 325.34h5.28v5.6h-5.28z"/><path class="e2c" d="M281.35 325.34h2.64v5.6h-2.64z"/><path class="e2o" d="M281.34 324.85h5.28v5.6h-5.28z"/><path class="e2c" d="M283.98 324.85h2.64v5.6h-2.64z"/><path class="e2o" d="M283.98 324.36h5.28v5.6h-5.28z"/><path class="e2c" d="M286.62 324.36h2.64v5.6h-2.64z"/><path class="e2o" d="M286.61 323.87h5.28v5.6h-5.28z"/><path class="e2c" d="M289.25 323.87h2.64v5.6h-2.64z"/><path class="e2o" d="M289.25 323.38h5.28v5.6h-5.28z"/><path class="e2c" d="M291.89 323.38h2.64v5.6h-2.64z"/><path class="e2o" d="M291.88 322.89h5.28v5.6h-5.28z"/><path class="e2c" d="M294.52 322.89h2.64v5.6h-2.64z"/><path class="e2o" d="M294.52 322.4h5.28v5.6h-5.28z"/><path class="e2c" d="M297.16 322.4h2.64v5.6h-2.64z"/><path class="e2o" d="M297.15 321.91h5.28v5.6h-5.28z"/><path class="e2c" d="M299.79 321.91h2.64v5.6h-2.64z"/><path class="e2o" d="M299.79 321.42h5.28v5.6h-5.28z"/><path class="e2c" d="M302.43 321.42h2.64v5.6h-2.64z"/><path class="e2o" d="M302.42 320.93h5.28v5.6h-5.28z"/><path class="e2c" d="M305.06 320.93h2.64v5.6h-2.64z"/><path class="e2o" d="M305.06 320.44h5.28v5.6h-5.28z"/><path class="e2c" d="M307.7 320.44h2.64v5.6h-2.64z"/><path class="e2o" d="M307.69 319.95h5.28v5.6h-5.28z"/><path class="e2c" d="M310.33 319.95h2.64v5.6h-2.64z"/><path class="e2o" d="M310.33 319.46h5.28v5.6h-5.28z"/><path class="e2c" d="M312.97 319.46h2.64v5.6h-2.64z"/><path class="e2o" d="M312.96 318.97h5.28v5.6h-5.28z"/><path class="e2c" d="M315.6 318.97h2.64v5.6h-2.64z"/><path class="e2o" d="M315.6 318.48h5.28v5.6h-5.28z"/><path class="e2c" d="M318.24 318.48h2.64v5.6h-2.64z"/><path class="e2o" d="M318.23 317.99h5.28v5.6h-5.28z"/><path class="e2c" d="M320.87 317.99h2.64v5.6h-2.64z"/><path class="e2o" d="M320.87 317.5h5.28v5.6h-5.28z"/><path class="e2c" d="M323.51 317.5h2.64v5.6h-2.64z"/><path class="e2o" d="M323.5 317.01h5.28v5.6h-5.28z"/><path class="e2c" d="M326.14 317.01h2.64v5.6h-2.64z"/><path class="e2o" d="M326.14 316.52h5.28v5.6h-5.28z"/><path class="e2c" d="M328.78 316.52h2.64v5.6h-2.64z"/><path class="e2o" d="M328.77 316.03h5.28v5.6h-5.28z"/><path class="e2c" d="M331.41 316.03h2.64v5.6h-2.64z"/><path class="e2o" d="M331.41 315.54h5.28v5.6h-5.28z"/><path class="e2c" d="M334.05 315.54h2.64v5.6h-2.64z"/><path class="e2o" d="M334.05 315.05h5.28v5.6h-5.28z"/><path class="e2c" d="M336.69 315.05h2.64v5.6h-2.64z"/><path class="e2o" d="M336.68 314.56h5.28v5.6h-5.28z"/><path class="e2c" d="M339.32 314.56h2.64v5.6h-2.64z"/><path class="e2o" d="M339.32 314.07h5.28v5.6h-5.28z"/><path class="e2c" d="M341.96 314.07h2.64v5.6h-2.64z"/><path class="e2o" d="M341.95 313.58h5.28v5.6h-5.28z"/><path class="e2c" d="M344.59 313.58h2.64v5.6h-2.64z"/><polyline points="268.17,333.04 270.8,332.55 273.44,332.06 276.07,331.57 278.71,331.08 281.35,330.59 283.98,330.1 286.62,329.61 289.25,329.12 291.89,328.63 294.52,328.14 297.16,327.65 299.79,327.16 302.43,326.67 305.06,326.18 307.7,325.69 310.33,325.2 312.97,324.71 315.6,324.22 318.24,323.73 320.87,323.24 323.51,322.75 326.14,322.26 328.78,321.77 331.41,321.28 334.05,320.79 336.69,320.3 339.32,319.81 341.96,319.32 344.59,318.83" fill="none" stroke="#2f7d2f" stroke-width="0.6" stroke-opacity="0.75"/><path class="e3o" d="M265.53 317.31h5.28v5.6h-5.28z"/><path class="e3c" d="M268.17 317.31h2.64v5.6h-2.64z"/><path class="e3o" d="M268.16 316.78h5.28v5.6h-5.28z"/><path class="e3c" d="M270.8 316.78h2.64v5.6h-2.64z"/><path class="e3o" d="M270.8 316.25h5.28v5.6h-5.28z"/><path class="e3c" d="M273.44 316.25h2.64v5.6h-2.64z"/><path class="e3o" d="M273.43 315.72h5.28v5.6h-5.28z"/><path class="e3c" d="M276.07 315.72h2.64v5.6h-2.64z"/><path class="e3o" d="M276.07 315.19h5.28v5.6h-5.28z"/><path class="e3c" d="M278.71 315.19h2.64v5.6h-2.64z"/><path class="e3o" d="M278.71 314.66h5.28v5.6h-5.28z"/><path class="e3c" d="M281.35 314.66h2.64v5.6h-2.64z"/><path class="e3o" d="M281.34 314.13h5.28v5.6h-5.28z"/><path class="e3c" d="M283.98 314.13h2.64v5.6h-2.64z"/><path class="e3o" d="M283.98 313.6h5.28v5.6h-5.28z"/><path class="e3c" d="M286.62 313.6h2.64v5.6h-2.64z"/><path class="e3o" d="M286.61 313.07h5.28v5.6h-5.28z"/><path class="e3c" d="M289.25 313.07h2.64v5.6h-2.64z"/><path class="e3o" d="M289.25 312.54h5.28v5.6h-5.28z"/><path class="e3c" d="M291.89 312.54h2.64v5.6h-2.64z"/><path class="e3o" d="M291.88 312.01h5.28v5.6h-5.28z"/><path class="e3c" d="M294.52 312.01h2.64v5.6h-2.64z"/><path class="e3o" d="M294.52 311.48h5.28v5.6h-5.28z"/><path class="e3c" d="M297.16 311.48h2.64v5.6h-2.64z"/><path class="e3o" d="M297.15 310.95h5.28v5.6h-5.28z"/><path class="e3c" d="M299.79 310.95h2.64v5.6h-2.64z"/><path class="e3o" d="M299.79 310.42h5.28v5.6h-5.28z"/><path class="e3c" d="M302.43 310.42h2.64v5.6h-2.64z"/><path class="e3o" d="M302.42 309.89h5.28v5.6h-5.28z"/><path class="e3c" d="M305.06 309.89h2.64v5.6h-2.64z"/><path class="e3o" d="M305.06 309.36h5.28v5.6h-5.28z"/><path class="e3c" d="M307.7 309.36h2.64v5.6h-2.64z"/><path class="e3o" d="M307.69 308.83h5.28v5.6h-5.28z"/><path class="e3c" d="M310.33 308.83h2.64v5.6h-2.64z"/><path class="e3o" d="M310.33 308.3h5.28v5.6h-5.28z"/><path class="e3c" d="M312.97 308.3h2.64v5.6h-2.64z"/><path class="e3o" d="M312.96 307.77h5.28v5.6h-5.28z"/><path class="e3c" d="M315.6 307.77h2.64v5.6h-2.64z"/><path class="e3o" d="M315.6 307.24h5.28v5.6h-5.28z"/><path class="e3c" d="M318.24 307.24h2.64v5.6h-2.64z"/><path class="e3o" d="M318.23 306.71h5.28v5.6h-5.28z"/><path class="e3c" d="M320.87 306.71h2.64v5.6h-2.64z"/><path class="e3o" d="M320.87 306.18h5.28v5.6h-5.28z"/><path class="e3c" d="M323.51 306.18h2.64v5.6h-2.64z"/><path class="e3o" d="M323.5 305.65h5.28v5.6h-5.28z"/><path class="e3c" d="M326.14 305.65h2.64v5.6h-2.64z"/><path class="e3o" d="M326.14 305.12h5.28v5.6h-5.28z"/><path class="e3c" d="M328.78 305.12h2.64v5.6h-2.64z"/><path class="e3o" d="M328.77 304.59h5.28v5.6h-5.28z"/><path class="e3c" d="M331.41 304.59h2.64v5.6h-2.64z"/><path class="e3o" d="M331.41 304.06h5.28v5.6h-5.28z"/><path class="e3c" d="M334.05 304.06h2.64v5.6h-2.64z"/><path class="e3o" d="M334.05 303.53h5.28v5.6h-5.28z"/><path class="e3c" d="M336.69 303.53h2.64v5.6h-2.64z"/><path class="e3o" d="M336.68 303h5.28v5.6h-5.28z"/><path class="e3c" d="M339.32 303h2.64v5.6h-2.64z"/><path class="e3o" d="M339.32 302.47h5.28v5.6h-5.28z"/><path class="e3c" d="M341.96 302.47h2.64v5.6h-2.64z"/><path class="e3o" d="M341.95 301.94h5.28v5.6h-5.28z"/><path class="e3c" d="M344.59 301.94h2.64v5.6h-2.64z"/><path class="e3o" d="M344.59 301.41h5.28v5.6h-5.28z"/><path class="e3c" d="M347.23 301.41h2.64v5.6h-2.64z"/><path class="e3o" d="M347.22 300.88h5.28v5.6h-5.28z"/><path class="e3c" d="M349.86 300.88h2.64v5.6h-2.64z"/><path class="e3o" d="M349.86 300.35h5.28v5.6h-5.28z"/><path class="e3c" d="M352.5 300.35h2.64v5.6h-2.64z"/><path class="e3o" d="M352.49 299.82h5.28v5.6h-5.28z"/><path class="e3c" d="M355.13 299.82h2.64v5.6h-2.64z"/><path class="e3o" d="M355.13 299.29h5.28v5.6h-5.28z"/><path class="e3c" d="M357.77 299.29h2.64v5.6h-2.64z"/><polyline points="268.17,322.56 270.8,322.03 273.44,321.5 276.07,320.97 278.71,320.44 281.35,319.91 283.98,319.38 286.62,318.85 289.25,318.32 291.89,317.79 294.52,317.26 297.16,316.73 299.79,316.2 302.43,315.67 305.06,315.14 307.7,314.61 310.33,314.08 312.97,313.55 315.6,313.02 318.24,312.49 320.87,311.96 323.51,311.43 326.14,310.9 328.78,310.37 331.41,309.84 334.05,309.31 336.69,308.78 339.32,308.25 341.96,307.72 344.59,307.19 347.23,306.66 349.86,306.13 352.5,305.6 355.13,305.07 357.77,304.54" fill="none" stroke="#3dbf96" stroke-width="0.6" stroke-opacity="0.75"/><path class="e4o" d="M265.53 306.95h5.28v5.6h-5.28z"/><path class="e4c" d="M268.17 306.95h2.64v5.6h-2.64z"/><path class="e4o" d="M268.16 306.56h5.28v5.6h-5.28z"/><path class="e4c" d="M270.8 306.56h2.64v5.6h-2.64z"/><path class="e4o" d="M270.8 306.17h5.28v5.6h-5.28z"/><path class="e4c" d="M273.44 306.17h2.64v5.6h-2.64z"/><path class="e4o" d="M273.43 305.77h5.28v5.6h-5.28z"/><path class="e4c" d="M276.07 305.77h2.64v5.6h-2.64z"/><path class="e4o" d="M276.07 305.36h5.28v5.6h-5.28z"/><path class="e4c" d="M278.71 305.36h2.64v5.6h-2.64z"/><path class="e4o" d="M278.71 304.94h5.28v5.6h-5.28z"/><path class="e4c" d="M281.35 304.94h2.64v5.6h-2.64z"/><path class="e4o" d="M281.34 304.52h5.28v5.6h-5.28z"/><path class="e4c" d="M283.98 304.52h2.64v5.6h-2.64z"/><path class="e4o" d="M283.98 304.08h5.28v5.6h-5.28z"/><path class="e4c" d="M286.62 304.08h2.64v5.6h-2.64z"/><path class="e4o" d="M286.61 303.63h5.28v5.6h-5.28z"/><path class="e4c" d="M289.25 303.63h2.64v5.6h-2.64z"/><path class="e4o" d="M289.25 303.17h5.28v5.6h-5.28z"/><path class="e4c" d="M291.89 303.17h2.64v5.6h-2.64z"/><path class="e4o" d="M291.88 302.71h5.28v5.6h-5.28z"/><path class="e4c" d="M294.52 302.71h2.64v5.6h-2.64z"/><path class="e4o" d="M294.52 302.23h5.28v5.6h-5.28z"/><path class="e4c" d="M297.16 302.23h2.64v5.6h-2.64z"/><path class="e4o" d="M297.15 301.74h5.28v5.6h-5.28z"/><path class="e4c" d="M299.79 301.74h2.64v5.6h-2.64z"/><path class="e4o" d="M299.79 301.25h5.28v5.6h-5.28z"/><path class="e4c" d="M302.43 301.25h2.64v5.6h-2.64z"/><path class="e4o" d="M302.42 300.74h5.28v5.6h-5.28z"/><path class="e4c" d="M305.06 300.74h2.64v5.6h-2.64z"/><path class="e4o" d="M305.06 300.23h5.28v5.6h-5.28z"/><path class="e4c" d="M307.7 300.23h2.64v5.6h-2.64z"/><path class="e4o" d="M307.69 299.7h5.28v5.6h-5.28z"/><path class="e4c" d="M310.33 299.7h2.64v5.6h-2.64z"/><path class="e4o" d="M310.33 299.17h5.28v5.6h-5.28z"/><path class="e4c" d="M312.97 299.17h2.64v5.6h-2.64z"/><path class="e4o" d="M312.96 298.63h5.28v5.6h-5.28z"/><path class="e4c" d="M315.6 298.63h2.64v5.6h-2.64z"/><path class="e4o" d="M315.6 298.08h5.28v5.6h-5.28z"/><path class="e4c" d="M318.24 298.08h2.64v5.6h-2.64z"/><path class="e4o" d="M318.23 297.51h5.28v5.6h-5.28z"/><path class="e4c" d="M320.87 297.51h2.64v5.6h-2.64z"/><path class="e4o" d="M320.87 296.94h5.28v5.6h-5.28z"/><path class="e4c" d="M323.51 296.94h2.64v5.6h-2.64z"/><path class="e4o" d="M323.5 296.36h5.28v5.6h-5.28z"/><path class="e4c" d="M326.14 296.36h2.64v5.6h-2.64z"/><path class="e4o" d="M326.14 295.77h5.28v5.6h-5.28z"/><path class="e4c" d="M328.78 295.77h2.64v5.6h-2.64z"/><path class="e4o" d="M328.77 295.17h5.28v5.6h-5.28z"/><path class="e4c" d="M331.41 295.17h2.64v5.6h-2.64z"/><path class="e4o" d="M331.41 294.56h5.28v5.6h-5.28z"/><path class="e4c" d="M334.05 294.56h2.64v5.6h-2.64z"/><path class="e4o" d="M334.05 293.94h5.28v5.6h-5.28z"/><path class="e4c" d="M336.69 293.94h2.64v5.6h-2.64z"/><path class="e4o" d="M336.68 293.31h5.28v5.6h-5.28z"/><path class="e4c" d="M339.32 293.31h2.64v5.6h-2.64z"/><path class="e4o" d="M339.32 292.68h5.28v5.6h-5.28z"/><path class="e4c" d="M341.96 292.68h2.64v5.6h-2.64z"/><path class="e4o" d="M341.95 292.03h5.28v5.6h-5.28z"/><path class="e4c" d="M344.59 292.03h2.64v5.6h-2.64z"/><path class="e4o" d="M344.59 291.37h5.28v5.6h-5.28z"/><path class="e4c" d="M347.23 291.37h2.64v5.6h-2.64z"/><path class="e4o" d="M347.22 290.7h5.28v5.6h-5.28z"/><path class="e4c" d="M349.86 290.7h2.64v5.6h-2.64z"/><path class="e4o" d="M349.86 290.03h5.28v5.6h-5.28z"/><path class="e4c" d="M352.5 290.03h2.64v5.6h-2.64z"/><path class="e4o" d="M352.49 289.34h5.28v5.6h-5.28z"/><path class="e4c" d="M355.13 289.34h2.64v5.6h-2.64z"/><path class="e4o" d="M355.13 288.65h5.28v5.6h-5.28z"/><path class="e4c" d="M357.77 288.65h2.64v5.6h-2.64z"/><path class="e4o" d="M357.76 287.94h5.28v5.6h-5.28z"/><path class="e4c" d="M360.4 287.94h2.64v5.6h-2.64z"/><path class="e4o" d="M360.4 287.23h5.28v5.6h-5.28z"/><path class="e4c" d="M363.04 287.23h2.64v5.6h-2.64z"/><path class="e4o" d="M363.03 286.5h5.28v5.6h-5.28z"/><path class="e4c" d="M365.67 286.5h2.64v5.6h-2.64z"/><path class="e4o" d="M365.67 285.77h5.28v5.6h-5.28z"/><path class="e4c" d="M368.31 285.77h2.64v5.6h-2.64z"/><path class="e4o" d="M368.3 285.03h5.28v5.6h-5.28z"/><path class="e4c" d="M370.94 285.03h2.64v5.6h-2.64z"/><path class="e4o" d="M370.94 284.28h5.28v5.6h-5.28z"/><path class="e4c" d="M373.58 284.28h2.64v5.6h-2.64z"/><polyline points="268.17,312.2 270.8,311.81 273.44,311.42 276.07,311.02 278.71,310.61 281.35,310.19 283.98,309.77 286.62,309.33 289.25,308.88 291.89,308.42 294.52,307.96 297.16,307.48 299.79,306.99 302.43,306.5 305.06,305.99 307.7,305.48 310.33,304.95 312.97,304.42 315.6,303.88 318.24,303.33 320.87,302.76 323.51,302.19 326.14,301.61 328.78,301.02 331.41,300.42 334.05,299.81 336.69,299.19 339.32,298.56 341.96,297.93 344.59,297.28 347.23,296.62 349.86,295.95 352.5,295.28 355.13,294.59 357.77,293.9 360.4,293.19 363.04,292.48 365.67,291.75 368.31,291.02 370.94,290.28 373.58,289.53" fill="none" stroke="#1f80d4" stroke-width="0.6" stroke-opacity="0.75"/><path class="e5o" d="M265.53 296.48h5.28v5.6h-5.28z"/><path class="e5c" d="M268.17 296.48h2.64v5.6h-2.64z"/><path class="e5o" d="M268.16 296h5.28v5.6h-5.28z"/><path class="e5c" d="M270.8 296h2.64v5.6h-2.64z"/><path class="e5o" d="M270.8 295.52h5.28v5.6h-5.28z"/><path class="e5c" d="M273.44 295.52h2.64v5.6h-2.64z"/><path class="e5o" d="M273.43 295.03h5.28v5.6h-5.28z"/><path class="e5c" d="M276.07 295.03h2.64v5.6h-2.64z"/><path class="e5o" d="M276.07 294.54h5.28v5.6h-5.28z"/><path class="e5c" d="M278.71 294.54h2.64v5.6h-2.64z"/><path class="e5o" d="M278.71 294.04h5.28v5.6h-5.28z"/><path class="e5c" d="M281.35 294.04h2.64v5.6h-2.64z"/><path class="e5o" d="M281.34 293.54h5.28v5.6h-5.28z"/><path class="e5c" d="M283.98 293.54h2.64v5.6h-2.64z"/><path class="e5o" d="M283.98 293.03h5.28v5.6h-5.28z"/><path class="e5c" d="M286.62 293.03h2.64v5.6h-2.64z"/><path class="e5o" d="M286.61 292.52h5.28v5.6h-5.28z"/><path class="e5c" d="M289.25 292.52h2.64v5.6h-2.64z"/><path class="e5o" d="M289.25 292h5.28v5.6h-5.28z"/><path class="e5c" d="M291.89 292h2.64v5.6h-2.64z"/><path class="e5o" d="M291.88 291.47h5.28v5.6h-5.28z"/><path class="e5c" d="M294.52 291.47h2.64v5.6h-2.64z"/><path class="e5o" d="M294.52 290.94h5.28v5.6h-5.28z"/><path class="e5c" d="M297.16 290.94h2.64v5.6h-2.64z"/><path class="e5o" d="M297.15 290.41h5.28v5.6h-5.28z"/><path class="e5c" d="M299.79 290.41h2.64v5.6h-2.64z"/><path class="e5o" d="M299.79 289.87h5.28v5.6h-5.28z"/><path class="e5c" d="M302.43 289.87h2.64v5.6h-2.64z"/><path class="e5o" d="M302.42 289.32h5.28v5.6h-5.28z"/><path class="e5c" d="M305.06 289.32h2.64v5.6h-2.64z"/><path class="e5o" d="M305.06 288.77h5.28v5.6h-5.28z"/><path class="e5c" d="M307.7 288.77h2.64v5.6h-2.64z"/><path class="e5o" d="M307.69 288.21h5.28v5.6h-5.28z"/><path class="e5c" d="M310.33 288.21h2.64v5.6h-2.64z"/><path class="e5o" d="M310.33 287.65h5.28v5.6h-5.28z"/><path class="e5c" d="M312.97 287.65h2.64v5.6h-2.64z"/><path class="e5o" d="M312.96 287.08h5.28v5.6h-5.28z"/><path class="e5c" d="M315.6 287.08h2.64v5.6h-2.64z"/><path class="e5o" d="M315.6 286.51h5.28v5.6h-5.28z"/><path class="e5c" d="M318.24 286.51h2.64v5.6h-2.64z"/><path class="e5o" d="M318.23 285.93h5.28v5.6h-5.28z"/><path class="e5c" d="M320.87 285.93h2.64v5.6h-2.64z"/><path class="e5o" d="M320.87 285.34h5.28v5.6h-5.28z"/><path class="e5c" d="M323.51 285.34h2.64v5.6h-2.64z"/><path class="e5o" d="M323.5 284.75h5.28v5.6h-5.28z"/><path class="e5c" d="M326.14 284.75h2.64v5.6h-2.64z"/><path class="e5o" d="M326.14 284.16h5.28v5.6h-5.28z"/><path class="e5c" d="M328.78 284.16h2.64v5.6h-2.64z"/><path class="e5o" d="M328.77 283.56h5.28v5.6h-5.28z"/><path class="e5c" d="M331.41 283.56h2.64v5.6h-2.64z"/><path class="e5o" d="M331.41 282.95h5.28v5.6h-5.28z"/><path class="e5c" d="M334.05 282.95h2.64v5.6h-2.64z"/><path class="e5o" d="M334.05 282.34h5.28v5.6h-5.28z"/><path class="e5c" d="M336.69 282.34h2.64v5.6h-2.64z"/><path class="e5o" d="M336.68 281.72h5.28v5.6h-5.28z"/><path class="e5c" d="M339.32 281.72h2.64v5.6h-2.64z"/><path class="e5o" d="M339.32 281.1h5.28v5.6h-5.28z"/><path class="e5c" d="M341.96 281.1h2.64v5.6h-2.64z"/><path class="e5o" d="M341.95 280.47h5.28v5.6h-5.28z"/><path class="e5c" d="M344.59 280.47h2.64v5.6h-2.64z"/><path class="e5o" d="M344.59 279.84h5.28v5.6h-5.28z"/><path class="e5c" d="M347.23 279.84h2.64v5.6h-2.64z"/><path class="e5o" d="M347.22 279.2h5.28v5.6h-5.28z"/><path class="e5c" d="M349.86 279.2h2.64v5.6h-2.64z"/><path class="e5o" d="M349.86 278.56h5.28v5.6h-5.28z"/><path class="e5c" d="M352.5 278.56h2.64v5.6h-2.64z"/><path class="e5o" d="M352.49 277.91h5.28v5.6h-5.28z"/><path class="e5c" d="M355.13 277.91h2.64v5.6h-2.64z"/><path class="e5o" d="M355.13 277.25h5.28v5.6h-5.28z"/><path class="e5c" d="M357.77 277.25h2.64v5.6h-2.64z"/><path class="e5o" d="M357.76 276.59h5.28v5.6h-5.28z"/><path class="e5c" d="M360.4 276.59h2.64v5.6h-2.64z"/><path class="e5o" d="M360.4 275.92h5.28v5.6h-5.28z"/><path class="e5c" d="M363.04 275.92h2.64v5.6h-2.64z"/><path class="e5o" d="M363.03 275.25h5.28v5.6h-5.28z"/><path class="e5c" d="M365.67 275.25h2.64v5.6h-2.64z"/><path class="e5o" d="M365.67 274.58h5.28v5.6h-5.28z"/><path class="e5c" d="M368.31 274.58h2.64v5.6h-2.64z"/><path class="e5o" d="M368.3 273.89h5.28v5.6h-5.28z"/><path class="e5c" d="M370.94 273.89h2.64v5.6h-2.64z"/><path class="e5o" d="M370.94 273.21h5.28v5.6h-5.28z"/><path class="e5c" d="M373.58 273.21h2.64v5.6h-2.64z"/><path class="e5o" d="M373.57 272.51h5.28v5.6h-5.28z"/><path class="e5c" d="M376.21 272.51h2.64v5.6h-2.64z"/><path class="e5o" d="M376.21 271.81h5.28v5.6h-5.28z"/><path class="e5c" d="M378.85 271.81h2.64v5.6h-2.64z"/><path class="e5o" d="M378.84 271.11h5.28v5.6h-5.28z"/><path class="e5c" d="M381.48 271.11h2.64v5.6h-2.64z"/><path class="e5o" d="M381.48 270.4h5.28v5.6h-5.28z"/><path class="e5c" d="M384.12 270.4h2.64v5.6h-2.64z"/><path class="e5o" d="M384.11 269.69h5.28v5.6h-5.28z"/><path class="e5c" d="M386.75 269.69h2.64v5.6h-2.64z"/><path class="e5o" d="M386.75 268.97h5.28v5.6h-5.28z"/><path class="e5c" d="M389.39 268.97h2.64v5.6h-2.64z"/><polyline points="268.17,301.73 270.8,301.25 273.44,300.77 276.07,300.28 278.71,299.79 281.35,299.29 283.98,298.79 286.62,298.28 289.25,297.77 291.89,297.25 294.52,296.72 297.16,296.19 299.79,295.66 302.43,295.12 305.06,294.57 307.7,294.02 310.33,293.46 312.97,292.9 315.6,292.33 318.24,291.76 320.87,291.18 323.51,290.59 326.14,290 328.78,289.41 331.41,288.81 334.05,288.2 336.69,287.59 339.32,286.97 341.96,286.35 344.59,285.72 347.23,285.09 349.86,284.45 352.5,283.81 355.13,283.16 357.77,282.5 360.4,281.84 363.04,281.17 365.67,280.5 368.31,279.83 370.94,279.14 373.58,278.46 376.21,277.76 378.85,277.06 381.48,276.36 384.12,275.65 386.75,274.94 389.39,274.22" fill="none" stroke="#a984d8" stroke-width="0.6" stroke-opacity="0.75"/><path class="e6o" d="M265.53 285.63h5.28v5.6h-5.28z"/><path class="e6c" d="M268.17 285.63h2.64v5.6h-2.64z"/><path class="e6o" d="M268.16 285.09h5.28v5.6h-5.28z"/><path class="e6c" d="M270.8 285.09h2.64v5.6h-2.64z"/><path class="e6o" d="M270.8 284.54h5.28v5.6h-5.28z"/><path class="e6c" d="M273.44 284.54h2.64v5.6h-2.64z"/><path class="e6o" d="M273.43 283.99h5.28v5.6h-5.28z"/><path class="e6c" d="M276.07 283.99h2.64v5.6h-2.64z"/><path class="e6o" d="M276.07 283.44h5.28v5.6h-5.28z"/><path class="e6c" d="M278.71 283.44h2.64v5.6h-2.64z"/><path class="e6o" d="M278.71 282.88h5.28v5.6h-5.28z"/><path class="e6c" d="M281.35 282.88h2.64v5.6h-2.64z"/><path class="e6o" d="M281.34 282.32h5.28v5.6h-5.28z"/><path class="e6c" d="M283.98 282.32h2.64v5.6h-2.64z"/><path class="e6o" d="M283.98 281.76h5.28v5.6h-5.28z"/><path class="e6c" d="M286.62 281.76h2.64v5.6h-2.64z"/><path class="e6o" d="M286.61 281.19h5.28v5.6h-5.28z"/><path class="e6c" d="M289.25 281.19h2.64v5.6h-2.64z"/><path class="e6o" d="M289.25 280.62h5.28v5.6h-5.28z"/><path class="e6c" d="M291.89 280.62h2.64v5.6h-2.64z"/><path class="e6o" d="M291.88 280.05h5.28v5.6h-5.28z"/><path class="e6c" d="M294.52 280.05h2.64v5.6h-2.64z"/><path class="e6o" d="M294.52 279.48h5.28v5.6h-5.28z"/><path class="e6c" d="M297.16 279.48h2.64v5.6h-2.64z"/><path class="e6o" d="M297.15 278.9h5.28v5.6h-5.28z"/><path class="e6c" d="M299.79 278.9h2.64v5.6h-2.64z"/><path class="e6o" d="M299.79 278.32h5.28v5.6h-5.28z"/><path class="e6c" d="M302.43 278.32h2.64v5.6h-2.64z"/><path class="e6o" d="M302.42 277.74h5.28v5.6h-5.28z"/><path class="e6c" d="M305.06 277.74h2.64v5.6h-2.64z"/><path class="e6o" d="M305.06 277.15h5.28v5.6h-5.28z"/><path class="e6c" d="M307.7 277.15h2.64v5.6h-2.64z"/><path class="e6o" d="M307.69 276.56h5.28v5.6h-5.28z"/><path class="e6c" d="M310.33 276.56h2.64v5.6h-2.64z"/><path class="e6o" d="M310.33 275.97h5.28v5.6h-5.28z"/><path class="e6c" d="M312.97 275.97h2.64v5.6h-2.64z"/><path class="e6o" d="M312.96 275.37h5.28v5.6h-5.28z"/><path class="e6c" d="M315.6 275.37h2.64v5.6h-2.64z"/><path class="e6o" d="M315.6 274.77h5.28v5.6h-5.28z"/><path class="e6c" d="M318.24 274.77h2.64v5.6h-2.64z"/><path class="e6o" d="M318.23 274.17h5.28v5.6h-5.28z"/><path class="e6c" d="M320.87 274.17h2.64v5.6h-2.64z"/><path class="e6o" d="M320.87 273.57h5.28v5.6h-5.28z"/><path class="e6c" d="M323.51 273.57h2.64v5.6h-2.64z"/><path class="e6o" d="M323.5 272.96h5.28v5.6h-5.28z"/><path class="e6c" d="M326.14 272.96h2.64v5.6h-2.64z"/><path class="e6o" d="M326.14 272.35h5.28v5.6h-5.28z"/><path class="e6c" d="M328.78 272.35h2.64v5.6h-2.64z"/><path class="e6o" d="M328.77 271.73h5.28v5.6h-5.28z"/><path class="e6c" d="M331.41 271.73h2.64v5.6h-2.64z"/><path class="e6o" d="M331.41 271.12h5.28v5.6h-5.28z"/><path class="e6c" d="M334.05 271.12h2.64v5.6h-2.64z"/><path class="e6o" d="M334.05 270.5h5.28v5.6h-5.28z"/><path class="e6c" d="M336.69 270.5h2.64v5.6h-2.64z"/><path class="e6o" d="M336.68 269.88h5.28v5.6h-5.28z"/><path class="e6c" d="M339.32 269.88h2.64v5.6h-2.64z"/><path class="e6o" d="M339.32 269.25h5.28v5.6h-5.28z"/><path class="e6c" d="M341.96 269.25h2.64v5.6h-2.64z"/><path class="e6o" d="M341.95 268.62h5.28v5.6h-5.28z"/><path class="e6c" d="M344.59 268.62h2.64v5.6h-2.64z"/><path class="e6o" d="M344.59 267.99h5.28v5.6h-5.28z"/><path class="e6c" d="M347.23 267.99h2.64v5.6h-2.64z"/><path class="e6o" d="M347.22 267.35h5.28v5.6h-5.28z"/><path class="e6c" d="M349.86 267.35h2.64v5.6h-2.64z"/><path class="e6o" d="M349.86 266.71h5.28v5.6h-5.28z"/><path class="e6c" d="M352.5 266.71h2.64v5.6h-2.64z"/><path class="e6o" d="M352.49 266.07h5.28v5.6h-5.28z"/><path class="e6c" d="M355.13 266.07h2.64v5.6h-2.64z"/><path class="e6o" d="M355.13 265.43h5.28v5.6h-5.28z"/><path class="e6c" d="M357.77 265.43h2.64v5.6h-2.64z"/><path class="e6o" d="M357.76 264.78h5.28v5.6h-5.28z"/><path class="e6c" d="M360.4 264.78h2.64v5.6h-2.64z"/><path class="e6o" d="M360.4 264.13h5.28v5.6h-5.28z"/><path class="e6c" d="M363.04 264.13h2.64v5.6h-2.64z"/><path class="e6o" d="M363.03 263.48h5.28v5.6h-5.28z"/><path class="e6c" d="M365.67 263.48h2.64v5.6h-2.64z"/><path class="e6o" d="M365.67 262.82h5.28v5.6h-5.28z"/><path class="e6c" d="M368.31 262.82h2.64v5.6h-2.64z"/><path class="e6o" d="M368.3 262.16h5.28v5.6h-5.28z"/><path class="e6c" d="M370.94 262.16h2.64v5.6h-2.64z"/><path class="e6o" d="M370.94 261.5h5.28v5.6h-5.28z"/><path class="e6c" d="M373.58 261.5h2.64v5.6h-2.64z"/><path class="e6o" d="M373.57 260.84h5.28v5.6h-5.28z"/><path class="e6c" d="M376.21 260.84h2.64v5.6h-2.64z"/><path class="e6o" d="M376.21 260.17h5.28v5.6h-5.28z"/><path class="e6c" d="M378.85 260.17h2.64v5.6h-2.64z"/><path class="e6o" d="M378.84 259.5h5.28v5.6h-5.28z"/><path class="e6c" d="M381.48 259.5h2.64v5.6h-2.64z"/><path class="e6o" d="M381.48 258.82h5.28v5.6h-5.28z"/><path class="e6c" d="M384.12 258.82h2.64v5.6h-2.64z"/><path class="e6o" d="M384.11 258.14h5.28v5.6h-5.28z"/><path class="e6c" d="M386.75 258.14h2.64v5.6h-2.64z"/><path class="e6o" d="M386.75 257.46h5.28v5.6h-5.28z"/><path class="e6c" d="M389.39 257.46h2.64v5.6h-2.64z"/><path class="e6o" d="M389.38 256.78h5.28v5.6h-5.28z"/><path class="e6c" d="M392.02 256.78h2.64v5.6h-2.64z"/><path class="e6o" d="M392.02 256.09h5.28v5.6h-5.28z"/><path class="e6c" d="M394.66 256.09h2.64v5.6h-2.64z"/><path class="e6o" d="M394.66 255.4h5.28v5.6h-5.28z"/><path class="e6c" d="M397.3 255.4h2.64v5.6h-2.64z"/><path class="e6o" d="M397.29 254.71h5.28v5.6h-5.28z"/><path class="e6c" d="M399.93 254.71h2.64v5.6h-2.64z"/><path class="e6o" d="M399.93 254.02h5.28v5.6h-5.28z"/><path class="e6c" d="M402.57 254.02h2.64v5.6h-2.64z"/><path class="e6o" d="M402.56 253.32h5.28v5.6h-5.28z"/><path class="e6c" d="M405.2 253.32h2.64v5.6h-2.64z"/><polyline points="268.17,290.88 270.8,290.34 273.44,289.79 276.07,289.24 278.71,288.69 281.35,288.13 283.98,287.57 286.62,287.01 289.25,286.44 291.89,285.87 294.52,285.3 297.16,284.73 299.79,284.15 302.43,283.57 305.06,282.99 307.7,282.4 310.33,281.81 312.97,281.22 315.6,280.62 318.24,280.02 320.87,279.42 323.51,278.82 326.14,278.21 328.78,277.6 331.41,276.98 334.05,276.37 336.69,275.75 339.32,275.13 341.96,274.5 344.59,273.87 347.23,273.24 349.86,272.6 352.5,271.96 355.13,271.32 357.77,270.68 360.4,270.03 363.04,269.38 365.67,268.73 368.31,268.07 370.94,267.41 373.58,266.75 376.21,266.09 378.85,265.42 381.48,264.75 384.12,264.07 386.75,263.39 389.39,262.71 392.02,262.03 394.66,261.34 397.3,260.65 399.93,259.96 402.57,259.27 405.2,258.57" fill="none" stroke="#8c5a38" stroke-width="0.6" stroke-opacity="0.75"/><path class="e7o" d="M265.53 274.26h5.28v5.6h-5.28z"/><path class="e7c" d="M268.17 274.26h2.64v5.6h-2.64z"/><path class="e7o" d="M268.16 273.89h5.28v5.6h-5.28z"/><path class="e7c" d="M270.8 273.89h2.64v5.6h-2.64z"/><path class="e7o" d="M270.8 273.52h5.28v5.6h-5.28z"/><path class="e7c" d="M273.44 273.52h2.64v5.6h-2.64z"/><path class="e7o" d="M273.43 273.13h5.28v5.6h-5.28z"/><path class="e7c" d="M276.07 273.13h2.64v5.6h-2.64z"/><path class="e7o" d="M276.07 272.74h5.28v5.6h-5.28z"/><path class="e7c" d="M278.71 272.74h2.64v5.6h-2.64z"/><path class="e7o" d="M278.71 272.33h5.28v5.6h-5.28z"/><path class="e7c" d="M281.35 272.33h2.64v5.6h-2.64z"/><path class="e7o" d="M281.34 271.92h5.28v5.6h-5.28z"/><path class="e7c" d="M283.98 271.92h2.64v5.6h-2.64z"/><path class="e7o" d="M283.98 271.5h5.28v5.6h-5.28z"/><path class="e7c" d="M286.62 271.5h2.64v5.6h-2.64z"/><path class="e7o" d="M286.61 271.07h5.28v5.6h-5.28z"/><path class="e7c" d="M289.25 271.07h2.64v5.6h-2.64z"/><path class="e7o" d="M289.25 270.63h5.28v5.6h-5.28z"/><path class="e7c" d="M291.89 270.63h2.64v5.6h-2.64z"/><path class="e7o" d="M291.88 270.18h5.28v5.6h-5.28z"/><path class="e7c" d="M294.52 270.18h2.64v5.6h-2.64z"/><path class="e7o" d="M294.52 269.72h5.28v5.6h-5.28z"/><path class="e7c" d="M297.16 269.72h2.64v5.6h-2.64z"/><path class="e7o" d="M297.15 269.25h5.28v5.6h-5.28z"/><path class="e7c" d="M299.79 269.25h2.64v5.6h-2.64z"/><path class="e7o" d="M299.79 268.77h5.28v5.6h-5.28z"/><path class="e7c" d="M302.43 268.77h2.64v5.6h-2.64z"/><path class="e7o" d="M302.42 268.28h5.28v5.6h-5.28z"/><path class="e7c" d="M305.06 268.28h2.64v5.6h-2.64z"/><path class="e7o" d="M305.06 267.78h5.28v5.6h-5.28z"/><path class="e7c" d="M307.7 267.78h2.64v5.6h-2.64z"/><path class="e7o" d="M307.69 267.28h5.28v5.6h-5.28z"/><path class="e7c" d="M310.33 267.28h2.64v5.6h-2.64z"/><path class="e7o" d="M310.33 266.76h5.28v5.6h-5.28z"/><path class="e7c" d="M312.97 266.76h2.64v5.6h-2.64z"/><path class="e7o" d="M312.96 266.24h5.28v5.6h-5.28z"/><path class="e7c" d="M315.6 266.24h2.64v5.6h-2.64z"/><path class="e7o" d="M315.6 265.7h5.28v5.6h-5.28z"/><path class="e7c" d="M318.24 265.7h2.64v5.6h-2.64z"/><path class="e7o" d="M318.23 265.16h5.28v5.6h-5.28z"/><path class="e7c" d="M320.87 265.16h2.64v5.6h-2.64z"/><path class="e7o" d="M320.87 264.6h5.28v5.6h-5.28z"/><path class="e7c" d="M323.51 264.6h2.64v5.6h-2.64z"/><path class="e7o" d="M323.5 264.04h5.28v5.6h-5.28z"/><path class="e7c" d="M326.14 264.04h2.64v5.6h-2.64z"/><path class="e7o" d="M326.14 263.47h5.28v5.6h-5.28z"/><path class="e7c" d="M328.78 263.47h2.64v5.6h-2.64z"/><path class="e7o" d="M328.77 262.89h5.28v5.6h-5.28z"/><path class="e7c" d="M331.41 262.89h2.64v5.6h-2.64z"/><path class="e7o" d="M331.41 262.3h5.28v5.6h-5.28z"/><path class="e7c" d="M334.05 262.3h2.64v5.6h-2.64z"/><path class="e7o" d="M334.05 261.7h5.28v5.6h-5.28z"/><path class="e7c" d="M336.69 261.7h2.64v5.6h-2.64z"/><path class="e7o" d="M336.68 261.09h5.28v5.6h-5.28z"/><path class="e7c" d="M339.32 261.09h2.64v5.6h-2.64z"/><path class="e7o" d="M339.32 260.47h5.28v5.6h-5.28z"/><path class="e7c" d="M341.96 260.47h2.64v5.6h-2.64z"/><path class="e7o" d="M341.95 259.84h5.28v5.6h-5.28z"/><path class="e7c" d="M344.59 259.84h2.64v5.6h-2.64z"/><path class="e7o" d="M344.59 259.2h5.28v5.6h-5.28z"/><path class="e7c" d="M347.23 259.2h2.64v5.6h-2.64z"/><path class="e7o" d="M347.22 258.56h5.28v5.6h-5.28z"/><path class="e7c" d="M349.86 258.56h2.64v5.6h-2.64z"/><path class="e7o" d="M349.86 257.9h5.28v5.6h-5.28z"/><path class="e7c" d="M352.5 257.9h2.64v5.6h-2.64z"/><path class="e7o" d="M352.49 257.24h5.28v5.6h-5.28z"/><path class="e7c" d="M355.13 257.24h2.64v5.6h-2.64z"/><path class="e7o" d="M355.13 256.56h5.28v5.6h-5.28z"/><path class="e7c" d="M357.77 256.56h2.64v5.6h-2.64z"/><path class="e7o" d="M357.76 255.88h5.28v5.6h-5.28z"/><path class="e7c" d="M360.4 255.88h2.64v5.6h-2.64z"/><path class="e7o" d="M360.4 255.18h5.28v5.6h-5.28z"/><path class="e7c" d="M363.04 255.18h2.64v5.6h-2.64z"/><path class="e7o" d="M363.03 254.48h5.28v5.6h-5.28z"/><path class="e7c" d="M365.67 254.48h2.64v5.6h-2.64z"/><path class="e7o" d="M365.67 253.77h5.28v5.6h-5.28z"/><path class="e7c" d="M368.31 253.77h2.64v5.6h-2.64z"/><path class="e7o" d="M368.3 253.05h5.28v5.6h-5.28z"/><path class="e7c" d="M370.94 253.05h2.64v5.6h-2.64z"/><path class="e7o" d="M370.94 252.32h5.28v5.6h-5.28z"/><path class="e7c" d="M373.58 252.32h2.64v5.6h-2.64z"/><path class="e7o" d="M373.57 251.57h5.28v5.6h-5.28z"/><path class="e7c" d="M376.21 251.57h2.64v5.6h-2.64z"/><path class="e7o" d="M376.21 250.83h5.28v5.6h-5.28z"/><path class="e7c" d="M378.85 250.83h2.64v5.6h-2.64z"/><path class="e7o" d="M378.84 250.07h5.28v5.6h-5.28z"/><path class="e7c" d="M381.48 250.07h2.64v5.6h-2.64z"/><path class="e7o" d="M381.48 249.3h5.28v5.6h-5.28z"/><path class="e7c" d="M384.12 249.3h2.64v5.6h-2.64z"/><path class="e7o" d="M384.11 248.52h5.28v5.6h-5.28z"/><path class="e7c" d="M386.75 248.52h2.64v5.6h-2.64z"/><path class="e7o" d="M386.75 247.73h5.28v5.6h-5.28z"/><path class="e7c" d="M389.39 247.73h2.64v5.6h-2.64z"/><path class="e7o" d="M389.38 246.94h5.28v5.6h-5.28z"/><path class="e7c" d="M392.02 246.94h2.64v5.6h-2.64z"/><path class="e7o" d="M392.02 246.13h5.28v5.6h-5.28z"/><path class="e7c" d="M394.66 246.13h2.64v5.6h-2.64z"/><path class="e7o" d="M394.66 245.32h5.28v5.6h-5.28z"/><path class="e7c" d="M397.3 245.32h2.64v5.6h-2.64z"/><path class="e7o" d="M397.29 244.49h5.28v5.6h-5.28z"/><path class="e7c" d="M399.93 244.49h2.64v5.6h-2.64z"/><path class="e7o" d="M399.93 243.66h5.28v5.6h-5.28z"/><path class="e7c" d="M402.57 243.66h2.64v5.6h-2.64z"/><path class="e7o" d="M402.56 242.81h5.28v5.6h-5.28z"/><path class="e7c" d="M405.2 242.81h2.64v5.6h-2.64z"/><path class="e7o" d="M405.2 241.96h5.28v5.6h-5.28z"/><path class="e7c" d="M407.84 241.96h2.64v5.6h-2.64z"/><path class="e7o" d="M407.83 241.1h5.28v5.6h-5.28z"/><path class="e7c" d="M410.47 241.1h2.64v5.6h-2.64z"/><path class="e7o" d="M410.47 240.23h5.28v5.6h-5.28z"/><path class="e7c" d="M413.11 240.23h2.64v5.6h-2.64z"/><path class="e7o" d="M413.1 239.35h5.28v5.6h-5.28z"/><path class="e7c" d="M415.74 239.35h2.64v5.6h-2.64z"/><polyline points="268.17,279.51 270.8,279.14 273.44,278.77 276.07,278.38 278.71,277.99 281.35,277.58 283.98,277.17 286.62,276.75 289.25,276.32 291.89,275.88 294.52,275.43 297.16,274.97 299.79,274.5 302.43,274.02 305.06,273.53 307.7,273.03 310.33,272.53 312.97,272.01 315.6,271.49 318.24,270.95 320.87,270.41 323.51,269.85 326.14,269.29 328.78,268.72 331.41,268.14 334.05,267.55 336.69,266.95 339.32,266.34 341.96,265.72 344.59,265.09 347.23,264.45 349.86,263.81 352.5,263.15 355.13,262.49 357.77,261.81 360.4,261.13 363.04,260.43 365.67,259.73 368.31,259.02 370.94,258.3 373.58,257.57 376.21,256.82 378.85,256.08 381.48,255.32 384.12,254.55 386.75,253.77 389.39,252.98 392.02,252.19 394.66,251.38 397.3,250.57 399.93,249.74 402.57,248.91 405.2,248.06 407.84,247.21 410.47,246.35 413.11,245.48 415.74,244.6" fill="none" stroke="#b8b81c" stroke-width="0.6" stroke-opacity="0.75"/><path class="e8o" d="M265.53 258.45h5.28v5.6h-5.28z"/><path class="e8c" d="M268.17 258.45h2.64v5.6h-2.64z"/><path class="e8o" d="M268.16 258.03h5.28v5.6h-5.28z"/><path class="e8c" d="M270.8 258.03h2.64v5.6h-2.64z"/><path class="e8o" d="M270.8 257.59h5.28v5.6h-5.28z"/><path class="e8c" d="M273.44 257.59h2.64v5.6h-2.64z"/><path class="e8o" d="M273.43 257.15h5.28v5.6h-5.28z"/><path class="e8c" d="M276.07 257.15h2.64v5.6h-2.64z"/><path class="e8o" d="M276.07 256.7h5.28v5.6h-5.28z"/><path class="e8c" d="M278.71 256.7h2.64v5.6h-2.64z"/><path class="e8o" d="M278.71 256.25h5.28v5.6h-5.28z"/><path class="e8c" d="M281.35 256.25h2.64v5.6h-2.64z"/><path class="e8o" d="M281.34 255.78h5.28v5.6h-5.28z"/><path class="e8c" d="M283.98 255.78h2.64v5.6h-2.64z"/><path class="e8o" d="M283.98 255.31h5.28v5.6h-5.28z"/><path class="e8c" d="M286.62 255.31h2.64v5.6h-2.64z"/><path class="e8o" d="M286.61 254.83h5.28v5.6h-5.28z"/><path class="e8c" d="M289.25 254.83h2.64v5.6h-2.64z"/><path class="e8o" d="M289.25 254.35h5.28v5.6h-5.28z"/><path class="e8c" d="M291.89 254.35h2.64v5.6h-2.64z"/><path class="e8o" d="M291.88 253.85h5.28v5.6h-5.28z"/><path class="e8c" d="M294.52 253.85h2.64v5.6h-2.64z"/><path class="e8o" d="M294.52 253.35h5.28v5.6h-5.28z"/><path class="e8c" d="M297.16 253.35h2.64v5.6h-2.64z"/><path class="e8o" d="M297.15 252.84h5.28v5.6h-5.28z"/><path class="e8c" d="M299.79 252.84h2.64v5.6h-2.64z"/><path class="e8o" d="M299.79 252.33h5.28v5.6h-5.28z"/><path class="e8c" d="M302.43 252.33h2.64v5.6h-2.64z"/><path class="e8o" d="M302.42 251.81h5.28v5.6h-5.28z"/><path class="e8c" d="M305.06 251.81h2.64v5.6h-2.64z"/><path class="e8o" d="M305.06 251.28h5.28v5.6h-5.28z"/><path class="e8c" d="M307.7 251.28h2.64v5.6h-2.64z"/><path class="e8o" d="M307.69 250.74h5.28v5.6h-5.28z"/><path class="e8c" d="M310.33 250.74h2.64v5.6h-2.64z"/><path class="e8o" d="M310.33 250.19h5.28v5.6h-5.28z"/><path class="e8c" d="M312.97 250.19h2.64v5.6h-2.64z"/><path class="e8o" d="M312.96 249.64h5.28v5.6h-5.28z"/><path class="e8c" d="M315.6 249.64h2.64v5.6h-2.64z"/><path class="e8o" d="M315.6 249.08h5.28v5.6h-5.28z"/><path class="e8c" d="M318.24 249.08h2.64v5.6h-2.64z"/><path class="e8o" d="M318.23 248.51h5.28v5.6h-5.28z"/><path class="e8c" d="M320.87 248.51h2.64v5.6h-2.64z"/><path class="e8o" d="M320.87 247.94h5.28v5.6h-5.28z"/><path class="e8c" d="M323.51 247.94h2.64v5.6h-2.64z"/><path class="e8o" d="M323.5 247.36h5.28v5.6h-5.28z"/><path class="e8c" d="M326.14 247.36h2.64v5.6h-2.64z"/><path class="e8o" d="M326.14 246.77h5.28v5.6h-5.28z"/><path class="e8c" d="M328.78 246.77h2.64v5.6h-2.64z"/><path class="e8o" d="M328.77 246.17h5.28v5.6h-5.28z"/><path class="e8c" d="M331.41 246.17h2.64v5.6h-2.64z"/><path class="e8o" d="M331.41 245.57h5.28v5.6h-5.28z"/><path class="e8c" d="M334.05 245.57h2.64v5.6h-2.64z"/><path class="e8o" d="M334.05 244.96h5.28v5.6h-5.28z"/><path class="e8c" d="M336.69 244.96h2.64v5.6h-2.64z"/><path class="e8o" d="M336.68 244.34h5.28v5.6h-5.28z"/><path class="e8c" d="M339.32 244.34h2.64v5.6h-2.64z"/><path class="e8o" d="M339.32 243.71h5.28v5.6h-5.28z"/><path class="e8c" d="M341.96 243.71h2.64v5.6h-2.64z"/><path class="e8o" d="M341.95 243.08h5.28v5.6h-5.28z"/><path class="e8c" d="M344.59 243.08h2.64v5.6h-2.64z"/><path class="e8o" d="M344.59 242.44h5.28v5.6h-5.28z"/><path class="e8c" d="M347.23 242.44h2.64v5.6h-2.64z"/><path class="e8o" d="M347.22 241.79h5.28v5.6h-5.28z"/><path class="e8c" d="M349.86 241.79h2.64v5.6h-2.64z"/><path class="e8o" d="M349.86 241.14h5.28v5.6h-5.28z"/><path class="e8c" d="M352.5 241.14h2.64v5.6h-2.64z"/><path class="e8o" d="M352.49 240.47h5.28v5.6h-5.28z"/><path class="e8c" d="M355.13 240.47h2.64v5.6h-2.64z"/><path class="e8o" d="M355.13 239.8h5.28v5.6h-5.28z"/><path class="e8c" d="M357.77 239.8h2.64v5.6h-2.64z"/><path class="e8o" d="M357.76 239.13h5.28v5.6h-5.28z"/><path class="e8c" d="M360.4 239.13h2.64v5.6h-2.64z"/><path class="e8o" d="M360.4 238.44h5.28v5.6h-5.28z"/><path class="e8c" d="M363.04 238.44h2.64v5.6h-2.64z"/><path class="e8o" d="M363.03 237.75h5.28v5.6h-5.28z"/><path class="e8c" d="M365.67 237.75h2.64v5.6h-2.64z"/><path class="e8o" d="M365.67 237.05h5.28v5.6h-5.28z"/><path class="e8c" d="M368.31 237.05h2.64v5.6h-2.64z"/><path class="e8o" d="M368.3 236.34h5.28v5.6h-5.28z"/><path class="e8c" d="M370.94 236.34h2.64v5.6h-2.64z"/><path class="e8o" d="M370.94 235.63h5.28v5.6h-5.28z"/><path class="e8c" d="M373.58 235.63h2.64v5.6h-2.64z"/><path class="e8o" d="M373.57 234.91h5.28v5.6h-5.28z"/><path class="e8c" d="M376.21 234.91h2.64v5.6h-2.64z"/><path class="e8o" d="M376.21 234.18h5.28v5.6h-5.28z"/><path class="e8c" d="M378.85 234.18h2.64v5.6h-2.64z"/><path class="e8o" d="M378.84 233.44h5.28v5.6h-5.28z"/><path class="e8c" d="M381.48 233.44h2.64v5.6h-2.64z"/><path class="e8o" d="M381.48 232.7h5.28v5.6h-5.28z"/><path class="e8c" d="M384.12 232.7h2.64v5.6h-2.64z"/><path class="e8o" d="M384.11 231.95h5.28v5.6h-5.28z"/><path class="e8c" d="M386.75 231.95h2.64v5.6h-2.64z"/><path class="e8o" d="M386.75 231.19h5.28v5.6h-5.28z"/><path class="e8c" d="M389.39 231.19h2.64v5.6h-2.64z"/><path class="e8o" d="M389.38 230.42h5.28v5.6h-5.28z"/><path class="e8c" d="M392.02 230.42h2.64v5.6h-2.64z"/><path class="e8o" d="M392.02 229.65h5.28v5.6h-5.28z"/><path class="e8c" d="M394.66 229.65h2.64v5.6h-2.64z"/><path class="e8o" d="M394.66 228.87h5.28v5.6h-5.28z"/><path class="e8c" d="M397.3 228.87h2.64v5.6h-2.64z"/><path class="e8o" d="M397.29 228.08h5.28v5.6h-5.28z"/><path class="e8c" d="M399.93 228.08h2.64v5.6h-2.64z"/><path class="e8o" d="M399.93 227.29h5.28v5.6h-5.28z"/><path class="e8c" d="M402.57 227.29h2.64v5.6h-2.64z"/><path class="e8o" d="M402.56 226.48h5.28v5.6h-5.28z"/><path class="e8c" d="M405.2 226.48h2.64v5.6h-2.64z"/><path class="e8o" d="M405.2 225.67h5.28v5.6h-5.28z"/><path class="e8c" d="M407.84 225.67h2.64v5.6h-2.64z"/><path class="e8o" d="M407.83 224.86h5.28v5.6h-5.28z"/><path class="e8c" d="M410.47 224.86h2.64v5.6h-2.64z"/><path class="e8o" d="M410.47 224.03h5.28v5.6h-5.28z"/><path class="e8c" d="M413.11 224.03h2.64v5.6h-2.64z"/><path class="e8o" d="M413.1 223.2h5.28v5.6h-5.28z"/><path class="e8c" d="M415.74 223.2h2.64v5.6h-2.64z"/><path class="e8o" d="M415.74 222.36h5.28v5.6h-5.28z"/><path class="e8c" d="M418.38 222.36h2.64v5.6h-2.64z"/><path class="e8o" d="M418.37 221.51h5.28v5.6h-5.28z"/><path class="e8c" d="M421.01 221.51h2.64v5.6h-2.64z"/><path class="e8o" d="M421.01 220.66h5.28v5.6h-5.28z"/><path class="e8c" d="M423.65 220.66h2.64v5.6h-2.64z"/><path class="e8o" d="M423.64 219.8h5.28v5.6h-5.28z"/><path class="e8c" d="M426.28 219.8h2.64v5.6h-2.64z"/><path class="e8o" d="M426.28 218.93h5.28v5.6h-5.28z"/><path class="e8c" d="M428.92 218.93h2.64v5.6h-2.64z"/><path class="e8o" d="M428.91 218.05h5.28v5.6h-5.28z"/><path class="e8c" d="M431.55 218.05h2.64v5.6h-2.64z"/><polyline points="268.17,263.7 270.8,263.28 273.44,262.84 276.07,262.4 278.71,261.95 281.35,261.5 283.98,261.03 286.62,260.56 289.25,260.08 291.89,259.6 294.52,259.1 297.16,258.6 299.79,258.09 302.43,257.58 305.06,257.06 307.7,256.53 310.33,255.99 312.97,255.44 315.6,254.89 318.24,254.33 320.87,253.76 323.51,253.19 326.14,252.61 328.78,252.02 331.41,251.42 334.05,250.82 336.69,250.21 339.32,249.59 341.96,248.96 344.59,248.33 347.23,247.69 349.86,247.04 352.5,246.39 355.13,245.72 357.77,245.05 360.4,244.38 363.04,243.69 365.67,243 368.31,242.3 370.94,241.59 373.58,240.88 376.21,240.16 378.85,239.43 381.48,238.69 384.12,237.95 386.75,237.2 389.39,236.44 392.02,235.67 394.66,234.9 397.3,234.12 399.93,233.33 402.57,232.54 405.2,231.73 407.84,230.92 410.47,230.11 413.11,229.28 415.74,228.45 418.38,227.61 421.01,226.76 423.65,225.91 426.28,225.05 428.92,224.18 431.55,223.3" fill="none" stroke="#e25560" stroke-width="0.6" stroke-opacity="0.75"/><rect x="493" y="201.2" width="190" height="164.1" fill="none" stroke="#303030" stroke-width="1.3"/><path d="M498.53 365.3v-3.6M498.53 201.2v3.6M524.89 365.3v-3.6M524.89 201.2v3.6M551.24 365.3v-3.6M551.24 201.2v3.6M577.59 365.3v-3.6M577.59 201.2v3.6M603.94 365.3v-3.6M603.94 201.2v3.6M630.3 365.3v-3.6M630.3 201.2v3.6M656.65 365.3v-3.6M656.65 201.2v3.6M683 365.3v-3.6M683 201.2v3.6M493 358.5h3.6M683 358.5h-3.6M493 336.03h3.6M683 336.03h-3.6M493 313.56h3.6M683 313.56h-3.6M493 291.09h3.6M683 291.09h-3.6M493 268.62h3.6M683 268.62h-3.6M493 246.14h3.6M683 246.14h-3.6M493 223.67h3.6M683 223.67h-3.6M493 201.2h3.6M683 201.2h-3.6" stroke="#303030" stroke-width="0.9" fill="none"/><text x="498.53" y="376.2" text-anchor="middle" class="tk">0</text><text x="524.89" y="376.2" text-anchor="middle" class="tk">1</text><text x="551.24" y="376.2" text-anchor="middle" class="tk">2</text><text x="577.59" y="376.2" text-anchor="middle" class="tk">3</text><text x="603.94" y="376.2" text-anchor="middle" class="tk">4</text><text x="630.3" y="376.2" text-anchor="middle" class="tk">5</text><text x="656.65" y="376.2" text-anchor="middle" class="tk">6</text><text x="683" y="376.2" text-anchor="middle" class="tk">7</text><text x="489.2" y="361.4" text-anchor="end" class="tk">0</text><text x="489.2" y="338.93" text-anchor="end" class="tk">2</text><text x="489.2" y="316.46" text-anchor="end" class="tk">4</text><text x="489.2" y="293.99" text-anchor="end" class="tk">6</text><text x="489.2" y="271.52" text-anchor="end" class="tk">8</text><text x="489.2" y="249.04" text-anchor="end" class="tk">10</text><text x="489.2" y="226.57" text-anchor="end" class="tk">12</text><text x="489.2" y="204.1" text-anchor="end" class="tk">14</text><text transform="translate(476.0,282.6) rotate(-90)" text-anchor="middle" class="at"><tspan font-style="italic">η</tspan> (%)</text><text x="591" y="387.1" text-anchor="middle" class="at"><tspan font-style="italic">I</tspan> (A)</text><path class="e0o" d="M498.53 350.31h5.28v5.6h-5.28z"/><path class="e0c" d="M501.17 350.31h2.64v5.6h-2.64z"/><path class="e0o" d="M501.16 345.52h5.28v5.6h-5.28z"/><path class="e0c" d="M503.8 345.52h2.64v5.6h-2.64z"/><path class="e0o" d="M503.8 341.3h5.28v5.6h-5.28z"/><path class="e0c" d="M506.44 341.3h2.64v5.6h-2.64z"/><path class="e0o" d="M506.43 337.6h5.28v5.6h-5.28z"/><path class="e0c" d="M509.07 337.6h2.64v5.6h-2.64z"/><path class="e0o" d="M509.07 334.39h5.28v5.6h-5.28z"/><path class="e0c" d="M511.71 334.39h2.64v5.6h-2.64z"/><path class="e0o" d="M511.71 331.64h5.28v5.6h-5.28z"/><path class="e0c" d="M514.35 331.64h2.64v5.6h-2.64z"/><path class="e0o" d="M514.34 329.33h5.28v5.6h-5.28z"/><path class="e0c" d="M516.98 329.33h2.64v5.6h-2.64z"/><path class="e0o" d="M516.98 327.43h5.28v5.6h-5.28z"/><path class="e0c" d="M519.62 327.43h2.64v5.6h-2.64z"/><path class="e0o" d="M519.61 325.92h5.28v5.6h-5.28z"/><path class="e0c" d="M522.25 325.92h2.64v5.6h-2.64z"/><path class="e0o" d="M522.25 324.8h5.28v5.6h-5.28z"/><path class="e0c" d="M524.89 324.8h2.64v5.6h-2.64z"/><path class="e0o" d="M524.88 324.05h5.28v5.6h-5.28z"/><path class="e0c" d="M527.52 324.05h2.64v5.6h-2.64z"/><path class="e0o" d="M527.52 323.67h5.28v5.6h-5.28z"/><path class="e0c" d="M530.16 323.67h2.64v5.6h-2.64z"/><path class="e0o" d="M530.15 323.64h5.28v5.6h-5.28z"/><path class="e0c" d="M532.79 323.64h2.64v5.6h-2.64z"/><path class="e0o" d="M532.79 323.95h5.28v5.6h-5.28z"/><path class="e0c" d="M535.43 323.95h2.64v5.6h-2.64z"/><path class="e0o" d="M535.42 324.62h5.28v5.6h-5.28z"/><path class="e0c" d="M538.06 324.62h2.64v5.6h-2.64z"/><path class="e0o" d="M538.06 325.64h5.28v5.6h-5.28z"/><path class="e0c" d="M540.7 325.64h2.64v5.6h-2.64z"/><path class="e0o" d="M540.69 327.01h5.28v5.6h-5.28z"/><path class="e0c" d="M543.33 327.01h2.64v5.6h-2.64z"/><path class="e0o" d="M543.33 328.73h5.28v5.6h-5.28z"/><path class="e0c" d="M545.97 328.73h2.64v5.6h-2.64z"/><g stroke="#d8394f" stroke-width="0.8" fill="none"><path d="M514.35 336.89L516.98 334.57" stroke-opacity="0.24"/><path d="M516.98 334.56L519.62 332.66" stroke-opacity="0.56"/><path d="M519.62 332.62L522.25 331.12" stroke-opacity="0.86"/><path d="M522.25 331.01L524.89 329.89" stroke-opacity="1.00"/><path d="M524.89 329.59L527.52 328.85" stroke-opacity="1.00"/><path d="M527.52 328.15L530.16 327.76" stroke-opacity="1.00"/><path d="M530.16 326.58L532.79 326.55" stroke-opacity="1.00"/><path d="M532.79 325.33L535.43 325.65" stroke-opacity="1.00"/><path d="M535.43 324.87L538.06 325.54" stroke-opacity="1.00"/><path d="M538.06 325.19L540.7 326.2" stroke-opacity="1.00"/><path d="M540.7 326.07L543.33 327.43" stroke-opacity="0.96"/><path d="M543.33 327.38L545.97 329.11" stroke-opacity="0.69"/></g><path class="e1o" d="M498.53 349.7h5.28v5.6h-5.28z"/><path class="e1c" d="M501.17 349.7h2.64v5.6h-2.64z"/><path class="e1o" d="M501.16 344.19h5.28v5.6h-5.28z"/><path class="e1c" d="M503.8 344.19h2.64v5.6h-2.64z"/><path class="e1o" d="M503.8 339.14h5.28v5.6h-5.28z"/><path class="e1c" d="M506.44 339.14h2.64v5.6h-2.64z"/><path class="e1o" d="M506.43 334.54h5.28v5.6h-5.28z"/><path class="e1c" d="M509.07 334.54h2.64v5.6h-2.64z"/><path class="e1o" d="M509.07 330.37h5.28v5.6h-5.28z"/><path class="e1c" d="M511.71 330.37h2.64v5.6h-2.64z"/><path class="e1o" d="M511.71 326.61h5.28v5.6h-5.28z"/><path class="e1c" d="M514.35 326.61h2.64v5.6h-2.64z"/><path class="e1o" d="M514.34 323.24h5.28v5.6h-5.28z"/><path class="e1c" d="M516.98 323.24h2.64v5.6h-2.64z"/><path class="e1o" d="M516.98 320.25h5.28v5.6h-5.28z"/><path class="e1c" d="M519.62 320.25h2.64v5.6h-2.64z"/><path class="e1o" d="M519.61 317.63h5.28v5.6h-5.28z"/><path class="e1c" d="M522.25 317.63h2.64v5.6h-2.64z"/><path class="e1o" d="M522.25 315.37h5.28v5.6h-5.28z"/><path class="e1c" d="M524.89 315.37h2.64v5.6h-2.64z"/><path class="e1o" d="M524.88 313.45h5.28v5.6h-5.28z"/><path class="e1c" d="M527.52 313.45h2.64v5.6h-2.64z"/><path class="e1o" d="M527.52 311.86h5.28v5.6h-5.28z"/><path class="e1c" d="M530.16 311.86h2.64v5.6h-2.64z"/><path class="e1o" d="M530.15 310.61h5.28v5.6h-5.28z"/><path class="e1c" d="M532.79 310.61h2.64v5.6h-2.64z"/><path class="e1o" d="M532.79 309.67h5.28v5.6h-5.28z"/><path class="e1c" d="M535.43 309.67h2.64v5.6h-2.64z"/><path class="e1o" d="M535.42 309.05h5.28v5.6h-5.28z"/><path class="e1c" d="M538.06 309.05h2.64v5.6h-2.64z"/><path class="e1o" d="M538.06 308.74h5.28v5.6h-5.28z"/><path class="e1c" d="M540.7 308.74h2.64v5.6h-2.64z"/><path class="e1o" d="M540.69 308.73h5.28v5.6h-5.28z"/><path class="e1c" d="M543.33 308.73h2.64v5.6h-2.64z"/><path class="e1o" d="M543.33 309.01h5.28v5.6h-5.28z"/><path class="e1c" d="M545.97 309.01h2.64v5.6h-2.64z"/><path class="e1o" d="M545.96 309.6h5.28v5.6h-5.28z"/><path class="e1c" d="M548.6 309.6h2.64v5.6h-2.64z"/><path class="e1o" d="M548.6 310.48h5.28v5.6h-5.28z"/><path class="e1c" d="M551.24 310.48h2.64v5.6h-2.64z"/><path class="e1o" d="M551.23 311.65h5.28v5.6h-5.28z"/><path class="e1c" d="M553.87 311.65h2.64v5.6h-2.64z"/><path class="e1o" d="M553.87 313.11h5.28v5.6h-5.28z"/><path class="e1c" d="M556.51 313.11h2.64v5.6h-2.64z"/><path class="e1o" d="M556.5 314.87h5.28v5.6h-5.28z"/><path class="e1c" d="M559.14 314.87h2.64v5.6h-2.64z"/><g stroke="#f57d15" stroke-width="0.8" fill="none"><path d="M522.25 322.88L524.89 320.61" stroke-opacity="0.28"/><path d="M524.89 320.6L527.52 318.68" stroke-opacity="0.54"/><path d="M527.52 318.66L530.16 317.07" stroke-opacity="0.80"/><path d="M530.16 317.01L532.79 315.75" stroke-opacity="1.00"/><path d="M532.79 315.59L535.43 314.65" stroke-opacity="1.00"/><path d="M535.43 314.28L538.06 313.66" stroke-opacity="1.00"/><path d="M538.06 312.94L540.7 312.62" stroke-opacity="1.00"/><path d="M540.7 311.57L543.33 311.56" stroke-opacity="1.00"/><path d="M543.33 310.51L545.97 310.8" stroke-opacity="1.00"/><path d="M545.97 310.07L548.6 310.66" stroke-opacity="1.00"/><path d="M548.6 310.27L551.24 311.15" stroke-opacity="1.00"/><path d="M551.24 310.97L553.87 312.14" stroke-opacity="1.00"/><path d="M553.87 312.06L556.51 313.52" stroke-opacity="0.89"/><path d="M556.51 313.49L559.14 315.24" stroke-opacity="0.67"/></g><path class="e2o" d="M498.53 349.26h5.28v5.6h-5.28z"/><path class="e2c" d="M501.17 349.26h2.64v5.6h-2.64z"/><path class="e2o" d="M501.16 343.23h5.28v5.6h-5.28z"/><path class="e2c" d="M503.8 343.23h2.64v5.6h-2.64z"/><path class="e2o" d="M503.8 337.6h5.28v5.6h-5.28z"/><path class="e2c" d="M506.44 337.6h2.64v5.6h-2.64z"/><path class="e2o" d="M506.43 332.34h5.28v5.6h-5.28z"/><path class="e2c" d="M509.07 332.34h2.64v5.6h-2.64z"/><path class="e2o" d="M509.07 327.46h5.28v5.6h-5.28z"/><path class="e2c" d="M511.71 327.46h2.64v5.6h-2.64z"/><path class="e2o" d="M511.71 322.94h5.28v5.6h-5.28z"/><path class="e2c" d="M514.35 322.94h2.64v5.6h-2.64z"/><path class="e2o" d="M514.34 318.78h5.28v5.6h-5.28z"/><path class="e2c" d="M516.98 318.78h2.64v5.6h-2.64z"/><path class="e2o" d="M516.98 314.95h5.28v5.6h-5.28z"/><path class="e2c" d="M519.62 314.95h2.64v5.6h-2.64z"/><path class="e2o" d="M519.61 311.46h5.28v5.6h-5.28z"/><path class="e2c" d="M522.25 311.46h2.64v5.6h-2.64z"/><path class="e2o" d="M522.25 308.3h5.28v5.6h-5.28z"/><path class="e2c" d="M524.89 308.3h2.64v5.6h-2.64z"/><path class="e2o" d="M524.88 305.45h5.28v5.6h-5.28z"/><path class="e2c" d="M527.52 305.45h2.64v5.6h-2.64z"/><path class="e2o" d="M527.52 302.91h5.28v5.6h-5.28z"/><path class="e2c" d="M530.16 302.91h2.64v5.6h-2.64z"/><path class="e2o" d="M530.15 300.68h5.28v5.6h-5.28z"/><path class="e2c" d="M532.79 300.68h2.64v5.6h-2.64z"/><path class="e2o" d="M532.79 298.75h5.28v5.6h-5.28z"/><path class="e2c" d="M535.43 298.75h2.64v5.6h-2.64z"/><path class="e2o" d="M535.42 297.1h5.28v5.6h-5.28z"/><path class="e2c" d="M538.06 297.1h2.64v5.6h-2.64z"/><path class="e2o" d="M538.06 295.74h5.28v5.6h-5.28z"/><path class="e2c" d="M540.7 295.74h2.64v5.6h-2.64z"/><path class="e2o" d="M540.69 294.66h5.28v5.6h-5.28z"/><path class="e2c" d="M543.33 294.66h2.64v5.6h-2.64z"/><path class="e2o" d="M543.33 293.86h5.28v5.6h-5.28z"/><path class="e2c" d="M545.97 293.86h2.64v5.6h-2.64z"/><path class="e2o" d="M545.96 293.32h5.28v5.6h-5.28z"/><path class="e2c" d="M548.6 293.32h2.64v5.6h-2.64z"/><path class="e2o" d="M548.6 293.04h5.28v5.6h-5.28z"/><path class="e2c" d="M551.24 293.04h2.64v5.6h-2.64z"/><path class="e2o" d="M551.23 293.03h5.28v5.6h-5.28z"/><path class="e2c" d="M553.87 293.03h2.64v5.6h-2.64z"/><path class="e2o" d="M553.87 293.27h5.28v5.6h-5.28z"/><path class="e2c" d="M556.51 293.27h2.64v5.6h-2.64z"/><path class="e2o" d="M556.5 293.76h5.28v5.6h-5.28z"/><path class="e2c" d="M559.14 293.76h2.64v5.6h-2.64z"/><path class="e2o" d="M559.14 294.5h5.28v5.6h-5.28z"/><path class="e2c" d="M561.78 294.5h2.64v5.6h-2.64z"/><path class="e2o" d="M561.77 295.48h5.28v5.6h-5.28z"/><path class="e2c" d="M564.41 295.48h2.64v5.6h-2.64z"/><path class="e2o" d="M564.41 296.7h5.28v5.6h-5.28z"/><path class="e2c" d="M567.05 296.7h2.64v5.6h-2.64z"/><path class="e2o" d="M567.05 298.16h5.28v5.6h-5.28z"/><path class="e2c" d="M569.69 298.16h2.64v5.6h-2.64z"/><path class="e2o" d="M569.68 299.86h5.28v5.6h-5.28z"/><path class="e2c" d="M572.32 299.86h2.64v5.6h-2.64z"/><path class="e2o" d="M572.32 301.78h5.28v5.6h-5.28z"/><path class="e2c" d="M574.96 301.78h2.64v5.6h-2.64z"/><path class="e2o" d="M574.95 303.94h5.28v5.6h-5.28z"/><path class="e2c" d="M577.59 303.94h2.64v5.6h-2.64z"/><g stroke="#2f7d2f" stroke-width="0.8" fill="none"><path d="M527.52 310.7L530.16 308.16" stroke-opacity="0.08"/><path d="M530.16 308.16L532.79 305.93" stroke-opacity="0.31"/><path d="M532.79 305.92L535.43 303.98" stroke-opacity="0.53"/><path d="M535.43 303.96L538.06 302.32" stroke-opacity="0.75"/><path d="M538.06 302.28L540.7 300.92" stroke-opacity="0.97"/><path d="M540.7 300.82L543.33 299.74" stroke-opacity="1.00"/><path d="M543.33 299.52L545.97 298.72" stroke-opacity="1.00"/><path d="M545.97 298.31L548.6 297.77" stroke-opacity="1.00"/><path d="M548.6 297.08L551.24 296.81" stroke-opacity="1.00"/><path d="M551.24 295.9L553.87 295.88" stroke-opacity="1.00"/><path d="M553.87 294.97L556.51 295.21" stroke-opacity="1.00"/><path d="M556.51 294.52L559.14 295.01" stroke-opacity="1.00"/><path d="M559.14 294.58L561.78 295.32" stroke-opacity="1.00"/><path d="M561.78 295.09L564.41 296.07" stroke-opacity="1.00"/><path d="M564.41 295.95L567.05 297.17" stroke-opacity="1.00"/><path d="M567.05 297.11L569.69 298.57" stroke-opacity="0.89"/><path d="M569.69 298.54L572.32 300.24" stroke-opacity="0.71"/><path d="M572.32 300.22L574.96 302.15" stroke-opacity="0.54"/><path d="M574.96 302.14L577.59 304.3" stroke-opacity="0.36"/></g><path class="e3o" d="M498.53 349.02h5.28v5.6h-5.28z"/><path class="e3c" d="M501.17 349.02h2.64v5.6h-2.64z"/><path class="e3o" d="M501.16 342.68h5.28v5.6h-5.28z"/><path class="e3c" d="M503.8 342.68h2.64v5.6h-2.64z"/><path class="e3o" d="M503.8 336.68h5.28v5.6h-5.28z"/><path class="e3c" d="M506.44 336.68h2.64v5.6h-2.64z"/><path class="e3o" d="M506.43 331h5.28v5.6h-5.28z"/><path class="e3c" d="M509.07 331h2.64v5.6h-2.64z"/><path class="e3o" d="M509.07 325.65h5.28v5.6h-5.28z"/><path class="e3c" d="M511.71 325.65h2.64v5.6h-2.64z"/><path class="e3o" d="M511.71 320.61h5.28v5.6h-5.28z"/><path class="e3c" d="M514.35 320.61h2.64v5.6h-2.64z"/><path class="e3o" d="M514.34 315.88h5.28v5.6h-5.28z"/><path class="e3c" d="M516.98 315.88h2.64v5.6h-2.64z"/><path class="e3o" d="M516.98 311.46h5.28v5.6h-5.28z"/><path class="e3c" d="M519.62 311.46h2.64v5.6h-2.64z"/><path class="e3o" d="M519.61 307.34h5.28v5.6h-5.28z"/><path class="e3c" d="M522.25 307.34h2.64v5.6h-2.64z"/><path class="e3o" d="M522.25 303.52h5.28v5.6h-5.28z"/><path class="e3c" d="M524.89 303.52h2.64v5.6h-2.64z"/><path class="e3o" d="M524.88 299.98h5.28v5.6h-5.28z"/><path class="e3c" d="M527.52 299.98h2.64v5.6h-2.64z"/><path class="e3o" d="M527.52 296.73h5.28v5.6h-5.28z"/><path class="e3c" d="M530.16 296.73h2.64v5.6h-2.64z"/><path class="e3o" d="M530.15 293.76h5.28v5.6h-5.28z"/><path class="e3c" d="M532.79 293.76h2.64v5.6h-2.64z"/><path class="e3o" d="M532.79 291.06h5.28v5.6h-5.28z"/><path class="e3c" d="M535.43 291.06h2.64v5.6h-2.64z"/><path class="e3o" d="M535.42 288.63h5.28v5.6h-5.28z"/><path class="e3c" d="M538.06 288.63h2.64v5.6h-2.64z"/><path class="e3o" d="M538.06 286.47h5.28v5.6h-5.28z"/><path class="e3c" d="M540.7 286.47h2.64v5.6h-2.64z"/><path class="e3o" d="M540.69 284.56h5.28v5.6h-5.28z"/><path class="e3c" d="M543.33 284.56h2.64v5.6h-2.64z"/><path class="e3o" d="M543.33 282.92h5.28v5.6h-5.28z"/><path class="e3c" d="M545.97 282.92h2.64v5.6h-2.64z"/><path class="e3o" d="M545.96 281.52h5.28v5.6h-5.28z"/><path class="e3c" d="M548.6 281.52h2.64v5.6h-2.64z"/><path class="e3o" d="M548.6 280.37h5.28v5.6h-5.28z"/><path class="e3c" d="M551.24 280.37h2.64v5.6h-2.64z"/><path class="e3o" d="M551.23 279.46h5.28v5.6h-5.28z"/><path class="e3c" d="M553.87 279.46h2.64v5.6h-2.64z"/><path class="e3o" d="M553.87 278.79h5.28v5.6h-5.28z"/><path class="e3c" d="M556.51 278.79h2.64v5.6h-2.64z"/><path class="e3o" d="M556.5 278.36h5.28v5.6h-5.28z"/><path class="e3c" d="M559.14 278.36h2.64v5.6h-2.64z"/><path class="e3o" d="M559.14 278.16h5.28v5.6h-5.28z"/><path class="e3c" d="M561.78 278.16h2.64v5.6h-2.64z"/><path class="e3o" d="M561.77 278.18h5.28v5.6h-5.28z"/><path class="e3c" d="M564.41 278.18h2.64v5.6h-2.64z"/><path class="e3o" d="M564.41 278.42h5.28v5.6h-5.28z"/><path class="e3c" d="M567.05 278.42h2.64v5.6h-2.64z"/><path class="e3o" d="M567.05 278.88h5.28v5.6h-5.28z"/><path class="e3c" d="M569.69 278.88h2.64v5.6h-2.64z"/><path class="e3o" d="M569.68 279.56h5.28v5.6h-5.28z"/><path class="e3c" d="M572.32 279.56h2.64v5.6h-2.64z"/><path class="e3o" d="M572.32 280.45h5.28v5.6h-5.28z"/><path class="e3c" d="M574.96 280.45h2.64v5.6h-2.64z"/><path class="e3o" d="M574.95 281.54h5.28v5.6h-5.28z"/><path class="e3c" d="M577.59 281.54h2.64v5.6h-2.64z"/><path class="e3o" d="M577.59 282.84h5.28v5.6h-5.28z"/><path class="e3c" d="M580.23 282.84h2.64v5.6h-2.64z"/><path class="e3o" d="M580.22 284.34h5.28v5.6h-5.28z"/><path class="e3c" d="M582.86 284.34h2.64v5.6h-2.64z"/><path class="e3o" d="M582.86 286.04h5.28v5.6h-5.28z"/><path class="e3c" d="M585.5 286.04h2.64v5.6h-2.64z"/><path class="e3o" d="M585.49 287.93h5.28v5.6h-5.28z"/><path class="e3c" d="M588.13 287.93h2.64v5.6h-2.64z"/><path class="e3o" d="M588.13 290.01h5.28v5.6h-5.28z"/><path class="e3c" d="M590.77 290.01h2.64v5.6h-2.64z"/><g stroke="#3dbf96" stroke-width="0.8" fill="none"><path d="M535.43 296.31L538.06 293.88" stroke-opacity="0.16"/><path d="M538.06 293.87L540.7 291.71" stroke-opacity="0.36"/><path d="M540.7 291.7L543.33 289.8" stroke-opacity="0.56"/><path d="M543.33 289.78L545.97 288.13" stroke-opacity="0.75"/><path d="M545.97 288.1L548.6 286.7" stroke-opacity="0.94"/><path d="M548.6 286.62L551.24 285.48" stroke-opacity="1.00"/><path d="M551.24 285.33L553.87 284.42" stroke-opacity="1.00"/><path d="M553.87 284.14L556.51 283.48" stroke-opacity="1.00"/><path d="M556.51 283.01L559.14 282.58" stroke-opacity="1.00"/><path d="M559.14 281.9L561.78 281.69" stroke-opacity="1.00"/><path d="M561.78 280.87L564.41 280.9" stroke-opacity="1.00"/><path d="M564.41 280.11L567.05 280.35" stroke-opacity="1.00"/><path d="M567.05 279.74L569.69 280.2" stroke-opacity="1.00"/><path d="M569.69 279.79L572.32 280.47" stroke-opacity="1.00"/><path d="M572.32 280.22L574.96 281.11" stroke-opacity="1.00"/><path d="M574.96 280.97L577.59 282.06" stroke-opacity="1.00"/><path d="M577.59 281.99L580.23 283.29" stroke-opacity="1.00"/><path d="M580.23 283.24L582.86 284.74" stroke-opacity="0.86"/><path d="M582.86 284.72L585.5 286.42" stroke-opacity="0.71"/><path d="M585.5 286.4L588.13 288.29" stroke-opacity="0.57"/><path d="M588.13 288.29L590.77 290.37" stroke-opacity="0.42"/></g><path class="e4o" d="M498.53 348.41h5.28v5.6h-5.28z"/><path class="e4c" d="M501.17 348.41h2.64v5.6h-2.64z"/><path class="e4o" d="M501.16 341.49h5.28v5.6h-5.28z"/><path class="e4c" d="M503.8 341.49h2.64v5.6h-2.64z"/><path class="e4o" d="M503.8 334.95h5.28v5.6h-5.28z"/><path class="e4c" d="M506.44 334.95h2.64v5.6h-2.64z"/><path class="e4o" d="M506.43 328.77h5.28v5.6h-5.28z"/><path class="e4c" d="M509.07 328.77h2.64v5.6h-2.64z"/><path class="e4o" d="M509.07 322.93h5.28v5.6h-5.28z"/><path class="e4c" d="M511.71 322.93h2.64v5.6h-2.64z"/><path class="e4o" d="M511.71 317.42h5.28v5.6h-5.28z"/><path class="e4c" d="M514.35 317.42h2.64v5.6h-2.64z"/><path class="e4o" d="M514.34 312.24h5.28v5.6h-5.28z"/><path class="e4c" d="M516.98 312.24h2.64v5.6h-2.64z"/><path class="e4o" d="M516.98 307.37h5.28v5.6h-5.28z"/><path class="e4c" d="M519.62 307.37h2.64v5.6h-2.64z"/><path class="e4o" d="M519.61 302.8h5.28v5.6h-5.28z"/><path class="e4c" d="M522.25 302.8h2.64v5.6h-2.64z"/><path class="e4o" d="M522.25 298.53h5.28v5.6h-5.28z"/><path class="e4c" d="M524.89 298.53h2.64v5.6h-2.64z"/><path class="e4o" d="M524.88 294.54h5.28v5.6h-5.28z"/><path class="e4c" d="M527.52 294.54h2.64v5.6h-2.64z"/><path class="e4o" d="M527.52 290.83h5.28v5.6h-5.28z"/><path class="e4c" d="M530.16 290.83h2.64v5.6h-2.64z"/><path class="e4o" d="M530.15 287.38h5.28v5.6h-5.28z"/><path class="e4c" d="M532.79 287.38h2.64v5.6h-2.64z"/><path class="e4o" d="M532.79 284.2h5.28v5.6h-5.28z"/><path class="e4c" d="M535.43 284.2h2.64v5.6h-2.64z"/><path class="e4o" d="M535.42 281.28h5.28v5.6h-5.28z"/><path class="e4c" d="M538.06 281.28h2.64v5.6h-2.64z"/><path class="e4o" d="M538.06 278.6h5.28v5.6h-5.28z"/><path class="e4c" d="M540.7 278.6h2.64v5.6h-2.64z"/><path class="e4o" d="M540.69 276.16h5.28v5.6h-5.28z"/><path class="e4c" d="M543.33 276.16h2.64v5.6h-2.64z"/><path class="e4o" d="M543.33 273.96h5.28v5.6h-5.28z"/><path class="e4c" d="M545.97 273.96h2.64v5.6h-2.64z"/><path class="e4o" d="M545.96 271.99h5.28v5.6h-5.28z"/><path class="e4c" d="M548.6 271.99h2.64v5.6h-2.64z"/><path class="e4o" d="M548.6 270.24h5.28v5.6h-5.28z"/><path class="e4c" d="M551.24 270.24h2.64v5.6h-2.64z"/><path class="e4o" d="M551.23 268.71h5.28v5.6h-5.28z"/><path class="e4c" d="M553.87 268.71h2.64v5.6h-2.64z"/><path class="e4o" d="M553.87 267.39h5.28v5.6h-5.28z"/><path class="e4c" d="M556.51 267.39h2.64v5.6h-2.64z"/><path class="e4o" d="M556.5 266.29h5.28v5.6h-5.28z"/><path class="e4c" d="M559.14 266.29h2.64v5.6h-2.64z"/><path class="e4o" d="M559.14 265.38h5.28v5.6h-5.28z"/><path class="e4c" d="M561.78 265.38h2.64v5.6h-2.64z"/><path class="e4o" d="M561.77 264.68h5.28v5.6h-5.28z"/><path class="e4c" d="M564.41 264.68h2.64v5.6h-2.64z"/><path class="e4o" d="M564.41 264.18h5.28v5.6h-5.28z"/><path class="e4c" d="M567.05 264.18h2.64v5.6h-2.64z"/><path class="e4o" d="M567.05 263.86h5.28v5.6h-5.28z"/><path class="e4c" d="M569.69 263.86h2.64v5.6h-2.64z"/><path class="e4o" d="M569.68 263.74h5.28v5.6h-5.28z"/><path class="e4c" d="M572.32 263.74h2.64v5.6h-2.64z"/><path class="e4o" d="M572.32 263.8h5.28v5.6h-5.28z"/><path class="e4c" d="M574.96 263.8h2.64v5.6h-2.64z"/><path class="e4o" d="M574.95 264.04h5.28v5.6h-5.28z"/><path class="e4c" d="M577.59 264.04h2.64v5.6h-2.64z"/><path class="e4o" d="M577.59 264.46h5.28v5.6h-5.28z"/><path class="e4c" d="M580.23 264.46h2.64v5.6h-2.64z"/><path class="e4o" d="M580.22 265.05h5.28v5.6h-5.28z"/><path class="e4c" d="M582.86 265.05h2.64v5.6h-2.64z"/><path class="e4o" d="M582.86 265.82h5.28v5.6h-5.28z"/><path class="e4c" d="M585.5 265.82h2.64v5.6h-2.64z"/><path class="e4o" d="M585.49 266.76h5.28v5.6h-5.28z"/><path class="e4c" d="M588.13 266.76h2.64v5.6h-2.64z"/><path class="e4o" d="M588.13 267.86h5.28v5.6h-5.28z"/><path class="e4c" d="M590.77 267.86h2.64v5.6h-2.64z"/><path class="e4o" d="M590.76 269.13h5.28v5.6h-5.28z"/><path class="e4c" d="M593.4 269.13h2.64v5.6h-2.64z"/><path class="e4o" d="M593.4 270.56h5.28v5.6h-5.28z"/><path class="e4c" d="M596.04 270.56h2.64v5.6h-2.64z"/><path class="e4o" d="M596.03 272.15h5.28v5.6h-5.28z"/><path class="e4c" d="M598.67 272.15h2.64v5.6h-2.64z"/><path class="e4o" d="M598.67 273.9h5.28v5.6h-5.28z"/><path class="e4c" d="M601.31 273.9h2.64v5.6h-2.64z"/><path class="e4o" d="M601.3 275.8h5.28v5.6h-5.28z"/><path class="e4c" d="M603.94 275.8h2.64v5.6h-2.64z"/><path class="e4o" d="M603.94 277.86h5.28v5.6h-5.28z"/><path class="e4c" d="M606.58 277.86h2.64v5.6h-2.64z"/><g stroke="#1f80d4" stroke-width="0.8" fill="none"><path d="M540.7 283.84L543.33 281.41" stroke-opacity="0.15"/><path d="M543.33 281.4L545.97 279.2" stroke-opacity="0.33"/><path d="M545.97 279.2L548.6 277.22" stroke-opacity="0.50"/><path d="M548.6 277.21L551.24 275.46" stroke-opacity="0.67"/><path d="M551.24 275.44L553.87 273.91" stroke-opacity="0.84"/><path d="M553.87 273.87L556.51 272.55" stroke-opacity="1.00"/><path d="M556.51 272.48L559.14 271.37" stroke-opacity="1.00"/><path d="M559.14 271.24L561.78 270.34" stroke-opacity="1.00"/><path d="M561.78 270.11L564.41 269.41" stroke-opacity="1.00"/><path d="M564.41 269.06L567.05 268.56" stroke-opacity="1.00"/><path d="M567.05 268.06L569.69 267.75" stroke-opacity="1.00"/><path d="M569.69 267.12L572.32 267" stroke-opacity="1.00"/><path d="M572.32 266.32L574.96 266.38" stroke-opacity="1.00"/><path d="M574.96 265.74L577.59 265.98" stroke-opacity="1.00"/><path d="M577.59 265.46L580.23 265.88" stroke-opacity="1.00"/><path d="M580.23 265.5L582.86 266.1" stroke-opacity="1.00"/><path d="M582.86 265.84L585.5 266.61" stroke-opacity="1.00"/><path d="M585.5 266.44L588.13 267.38" stroke-opacity="1.00"/><path d="M588.13 267.27L590.77 268.38" stroke-opacity="1.00"/><path d="M590.77 268.31L593.4 269.58" stroke-opacity="1.00"/><path d="M593.4 269.54L596.04 270.97" stroke-opacity="0.91"/><path d="M596.04 270.95L598.67 272.54" stroke-opacity="0.79"/><path d="M598.67 272.52L601.31 274.27" stroke-opacity="0.67"/><path d="M601.31 274.26L603.94 276.17" stroke-opacity="0.56"/><path d="M603.94 276.16L606.58 278.22" stroke-opacity="0.44"/></g><path class="e5o" d="M498.53 348.22h5.28v5.6h-5.28z"/><path class="e5c" d="M501.17 348.22h2.64v5.6h-2.64z"/><path class="e5o" d="M501.16 341.1h5.28v5.6h-5.28z"/><path class="e5c" d="M503.8 341.1h2.64v5.6h-2.64z"/><path class="e5o" d="M503.8 334.34h5.28v5.6h-5.28z"/><path class="e5c" d="M506.44 334.34h2.64v5.6h-2.64z"/><path class="e5o" d="M506.43 327.92h5.28v5.6h-5.28z"/><path class="e5c" d="M509.07 327.92h2.64v5.6h-2.64z"/><path class="e5o" d="M509.07 321.83h5.28v5.6h-5.28z"/><path class="e5c" d="M511.71 321.83h2.64v5.6h-2.64z"/><path class="e5o" d="M511.71 316.05h5.28v5.6h-5.28z"/><path class="e5c" d="M514.35 316.05h2.64v5.6h-2.64z"/><path class="e5o" d="M514.34 310.58h5.28v5.6h-5.28z"/><path class="e5c" d="M516.98 310.58h2.64v5.6h-2.64z"/><path class="e5o" d="M516.98 305.41h5.28v5.6h-5.28z"/><path class="e5c" d="M519.62 305.41h2.64v5.6h-2.64z"/><path class="e5o" d="M519.61 300.52h5.28v5.6h-5.28z"/><path class="e5c" d="M522.25 300.52h2.64v5.6h-2.64z"/><path class="e5o" d="M522.25 295.91h5.28v5.6h-5.28z"/><path class="e5c" d="M524.89 295.91h2.64v5.6h-2.64z"/><path class="e5o" d="M524.88 291.57h5.28v5.6h-5.28z"/><path class="e5c" d="M527.52 291.57h2.64v5.6h-2.64z"/><path class="e5o" d="M527.52 287.49h5.28v5.6h-5.28z"/><path class="e5c" d="M530.16 287.49h2.64v5.6h-2.64z"/><path class="e5o" d="M530.15 283.66h5.28v5.6h-5.28z"/><path class="e5c" d="M532.79 283.66h2.64v5.6h-2.64z"/><path class="e5o" d="M532.79 280.08h5.28v5.6h-5.28z"/><path class="e5c" d="M535.43 280.08h2.64v5.6h-2.64z"/><path class="e5o" d="M535.42 276.74h5.28v5.6h-5.28z"/><path class="e5c" d="M538.06 276.74h2.64v5.6h-2.64z"/><path class="e5o" d="M538.06 273.63h5.28v5.6h-5.28z"/><path class="e5c" d="M540.7 273.63h2.64v5.6h-2.64z"/><path class="e5o" d="M540.69 270.75h5.28v5.6h-5.28z"/><path class="e5c" d="M543.33 270.75h2.64v5.6h-2.64z"/><path class="e5o" d="M543.33 268.08h5.28v5.6h-5.28z"/><path class="e5c" d="M545.97 268.08h2.64v5.6h-2.64z"/><path class="e5o" d="M545.96 265.63h5.28v5.6h-5.28z"/><path class="e5c" d="M548.6 265.63h2.64v5.6h-2.64z"/><path class="e5o" d="M548.6 263.39h5.28v5.6h-5.28z"/><path class="e5c" d="M551.24 263.39h2.64v5.6h-2.64z"/><path class="e5o" d="M551.23 261.35h5.28v5.6h-5.28z"/><path class="e5c" d="M553.87 261.35h2.64v5.6h-2.64z"/><path class="e5o" d="M553.87 259.51h5.28v5.6h-5.28z"/><path class="e5c" d="M556.51 259.51h2.64v5.6h-2.64z"/><path class="e5o" d="M556.5 257.87h5.28v5.6h-5.28z"/><path class="e5c" d="M559.14 257.87h2.64v5.6h-2.64z"/><path class="e5o" d="M559.14 256.41h5.28v5.6h-5.28z"/><path class="e5c" d="M561.78 256.41h2.64v5.6h-2.64z"/><path class="e5o" d="M561.77 255.14h5.28v5.6h-5.28z"/><path class="e5c" d="M564.41 255.14h2.64v5.6h-2.64z"/><path class="e5o" d="M564.41 254.05h5.28v5.6h-5.28z"/><path class="e5c" d="M567.05 254.05h2.64v5.6h-2.64z"/><path class="e5o" d="M567.05 253.14h5.28v5.6h-5.28z"/><path class="e5c" d="M569.69 253.14h2.64v5.6h-2.64z"/><path class="e5o" d="M569.68 252.4h5.28v5.6h-5.28z"/><path class="e5c" d="M572.32 252.4h2.64v5.6h-2.64z"/><path class="e5o" d="M572.32 251.84h5.28v5.6h-5.28z"/><path class="e5c" d="M574.96 251.84h2.64v5.6h-2.64z"/><path class="e5o" d="M574.95 251.44h5.28v5.6h-5.28z"/><path class="e5c" d="M577.59 251.44h2.64v5.6h-2.64z"/><path class="e5o" d="M577.59 251.21h5.28v5.6h-5.28z"/><path class="e5c" d="M580.23 251.21h2.64v5.6h-2.64z"/><path class="e5o" d="M580.22 251.13h5.28v5.6h-5.28z"/><path class="e5c" d="M582.86 251.13h2.64v5.6h-2.64z"/><path class="e5o" d="M582.86 251.22h5.28v5.6h-5.28z"/><path class="e5c" d="M585.5 251.22h2.64v5.6h-2.64z"/><path class="e5o" d="M585.49 251.46h5.28v5.6h-5.28z"/><path class="e5c" d="M588.13 251.46h2.64v5.6h-2.64z"/><path class="e5o" d="M588.13 251.85h5.28v5.6h-5.28z"/><path class="e5c" d="M590.77 251.85h2.64v5.6h-2.64z"/><path class="e5o" d="M590.76 252.4h5.28v5.6h-5.28z"/><path class="e5c" d="M593.4 252.4h2.64v5.6h-2.64z"/><path class="e5o" d="M593.4 253.09h5.28v5.6h-5.28z"/><path class="e5c" d="M596.04 253.09h2.64v5.6h-2.64z"/><path class="e5o" d="M596.03 253.93h5.28v5.6h-5.28z"/><path class="e5c" d="M598.67 253.93h2.64v5.6h-2.64z"/><path class="e5o" d="M598.67 254.92h5.28v5.6h-5.28z"/><path class="e5c" d="M601.31 254.92h2.64v5.6h-2.64z"/><path class="e5o" d="M601.3 256.05h5.28v5.6h-5.28z"/><path class="e5c" d="M603.94 256.05h2.64v5.6h-2.64z"/><path class="e5o" d="M603.94 257.31h5.28v5.6h-5.28z"/><path class="e5c" d="M606.58 257.31h2.64v5.6h-2.64z"/><path class="e5o" d="M606.57 258.72h5.28v5.6h-5.28z"/><path class="e5c" d="M609.21 258.72h2.64v5.6h-2.64z"/><path class="e5o" d="M609.21 260.26h5.28v5.6h-5.28z"/><path class="e5c" d="M611.85 260.26h2.64v5.6h-2.64z"/><path class="e5o" d="M611.84 261.94h5.28v5.6h-5.28z"/><path class="e5c" d="M614.48 261.94h2.64v5.6h-2.64z"/><path class="e5o" d="M614.48 263.76h5.28v5.6h-5.28z"/><path class="e5c" d="M617.12 263.76h2.64v5.6h-2.64z"/><path class="e5o" d="M617.11 265.7h5.28v5.6h-5.28z"/><path class="e5c" d="M619.75 265.7h2.64v5.6h-2.64z"/><path class="e5o" d="M619.75 267.78h5.28v5.6h-5.28z"/><path class="e5c" d="M622.39 267.78h2.64v5.6h-2.64z"/><g stroke="#a984d8" stroke-width="0.8" fill="none"><path d="M545.97 273.33L548.6 270.88" stroke-opacity="0.14"/><path d="M548.6 270.87L551.24 268.63" stroke-opacity="0.30"/><path d="M551.24 268.63L553.87 266.59" stroke-opacity="0.45"/><path d="M553.87 266.58L556.51 264.74" stroke-opacity="0.60"/><path d="M556.51 264.73L559.14 263.08" stroke-opacity="0.75"/><path d="M559.14 263.06L561.78 261.6" stroke-opacity="0.90"/><path d="M561.78 261.56L564.41 260.29" stroke-opacity="1.00"/><path d="M564.41 260.22L567.05 259.13" stroke-opacity="1.00"/><path d="M567.05 259.01L569.69 258.1" stroke-opacity="1.00"/><path d="M569.69 257.92L572.32 257.18" stroke-opacity="1.00"/><path d="M572.32 256.91L574.96 256.34" stroke-opacity="1.00"/><path d="M574.96 255.96L577.59 255.56" stroke-opacity="1.00"/><path d="M577.59 255.08L580.23 254.84" stroke-opacity="1.00"/><path d="M580.23 254.28L582.86 254.2" stroke-opacity="1.00"/><path d="M582.86 253.62L585.5 253.7" stroke-opacity="1.00"/><path d="M585.5 253.16L588.13 253.4" stroke-opacity="1.00"/><path d="M588.13 252.94L590.77 253.34" stroke-opacity="1.00"/><path d="M590.77 252.99L593.4 253.53" stroke-opacity="1.00"/><path d="M593.4 253.28L596.04 253.97" stroke-opacity="1.00"/><path d="M596.04 253.8L598.67 254.64" stroke-opacity="1.00"/><path d="M598.67 254.52L601.31 255.5" stroke-opacity="1.00"/><path d="M601.31 255.42L603.94 256.55" stroke-opacity="1.00"/><path d="M603.94 256.5L606.58 257.77" stroke-opacity="1.00"/><path d="M606.58 257.73L609.21 259.14" stroke-opacity="0.93"/><path d="M609.21 259.11L611.85 260.66" stroke-opacity="0.83"/><path d="M611.85 260.64L614.48 262.32" stroke-opacity="0.73"/><path d="M614.48 262.31L617.12 264.13" stroke-opacity="0.62"/><path d="M617.12 264.12L619.75 266.07" stroke-opacity="0.52"/><path d="M619.75 266.06L622.39 268.14" stroke-opacity="0.42"/></g><path class="e6o" d="M498.53 348.46h5.28v5.6h-5.28z"/><path class="e6c" d="M501.17 348.46h2.64v5.6h-2.64z"/><path class="e6o" d="M501.16 341.51h5.28v5.6h-5.28z"/><path class="e6c" d="M503.8 341.51h2.64v5.6h-2.64z"/><path class="e6o" d="M503.8 334.83h5.28v5.6h-5.28z"/><path class="e6c" d="M506.44 334.83h2.64v5.6h-2.64z"/><path class="e6o" d="M506.43 328.42h5.28v5.6h-5.28z"/><path class="e6c" d="M509.07 328.42h2.64v5.6h-2.64z"/><path class="e6o" d="M509.07 322.28h5.28v5.6h-5.28z"/><path class="e6c" d="M511.71 322.28h2.64v5.6h-2.64z"/><path class="e6o" d="M511.71 316.4h5.28v5.6h-5.28z"/><path class="e6c" d="M514.35 316.4h2.64v5.6h-2.64z"/><path class="e6o" d="M514.34 310.77h5.28v5.6h-5.28z"/><path class="e6c" d="M516.98 310.77h2.64v5.6h-2.64z"/><path class="e6o" d="M516.98 305.39h5.28v5.6h-5.28z"/><path class="e6c" d="M519.62 305.39h2.64v5.6h-2.64z"/><path class="e6o" d="M519.61 300.26h5.28v5.6h-5.28z"/><path class="e6c" d="M522.25 300.26h2.64v5.6h-2.64z"/><path class="e6o" d="M522.25 295.36h5.28v5.6h-5.28z"/><path class="e6c" d="M524.89 295.36h2.64v5.6h-2.64z"/><path class="e6o" d="M524.88 290.7h5.28v5.6h-5.28z"/><path class="e6c" d="M527.52 290.7h2.64v5.6h-2.64z"/><path class="e6o" d="M527.52 286.27h5.28v5.6h-5.28z"/><path class="e6c" d="M530.16 286.27h2.64v5.6h-2.64z"/><path class="e6o" d="M530.15 282.06h5.28v5.6h-5.28z"/><path class="e6c" d="M532.79 282.06h2.64v5.6h-2.64z"/><path class="e6o" d="M532.79 278.07h5.28v5.6h-5.28z"/><path class="e6c" d="M535.43 278.07h2.64v5.6h-2.64z"/><path class="e6o" d="M535.42 274.3h5.28v5.6h-5.28z"/><path class="e6c" d="M538.06 274.3h2.64v5.6h-2.64z"/><path class="e6o" d="M538.06 270.74h5.28v5.6h-5.28z"/><path class="e6c" d="M540.7 270.74h2.64v5.6h-2.64z"/><path class="e6o" d="M540.69 267.39h5.28v5.6h-5.28z"/><path class="e6c" d="M543.33 267.39h2.64v5.6h-2.64z"/><path class="e6o" d="M543.33 264.24h5.28v5.6h-5.28z"/><path class="e6c" d="M545.97 264.24h2.64v5.6h-2.64z"/><path class="e6o" d="M545.96 261.29h5.28v5.6h-5.28z"/><path class="e6c" d="M548.6 261.29h2.64v5.6h-2.64z"/><path class="e6o" d="M548.6 258.54h5.28v5.6h-5.28z"/><path class="e6c" d="M551.24 258.54h2.64v5.6h-2.64z"/><path class="e6o" d="M551.23 255.99h5.28v5.6h-5.28z"/><path class="e6c" d="M553.87 255.99h2.64v5.6h-2.64z"/><path class="e6o" d="M553.87 253.62h5.28v5.6h-5.28z"/><path class="e6c" d="M556.51 253.62h2.64v5.6h-2.64z"/><path class="e6o" d="M556.5 251.43h5.28v5.6h-5.28z"/><path class="e6c" d="M559.14 251.43h2.64v5.6h-2.64z"/><path class="e6o" d="M559.14 249.43h5.28v5.6h-5.28z"/><path class="e6c" d="M561.78 249.43h2.64v5.6h-2.64z"/><path class="e6o" d="M561.77 247.61h5.28v5.6h-5.28z"/><path class="e6c" d="M564.41 247.61h2.64v5.6h-2.64z"/><path class="e6o" d="M564.41 245.97h5.28v5.6h-5.28z"/><path class="e6c" d="M567.05 245.97h2.64v5.6h-2.64z"/><path class="e6o" d="M567.05 244.5h5.28v5.6h-5.28z"/><path class="e6c" d="M569.69 244.5h2.64v5.6h-2.64z"/><path class="e6o" d="M569.68 243.2h5.28v5.6h-5.28z"/><path class="e6c" d="M572.32 243.2h2.64v5.6h-2.64z"/><path class="e6o" d="M572.32 242.06h5.28v5.6h-5.28z"/><path class="e6c" d="M574.96 242.06h2.64v5.6h-2.64z"/><path class="e6o" d="M574.95 241.1h5.28v5.6h-5.28z"/><path class="e6c" d="M577.59 241.1h2.64v5.6h-2.64z"/><path class="e6o" d="M577.59 240.29h5.28v5.6h-5.28z"/><path class="e6c" d="M580.23 240.29h2.64v5.6h-2.64z"/><path class="e6o" d="M580.22 239.65h5.28v5.6h-5.28z"/><path class="e6c" d="M582.86 239.65h2.64v5.6h-2.64z"/><path class="e6o" d="M582.86 239.16h5.28v5.6h-5.28z"/><path class="e6c" d="M585.5 239.16h2.64v5.6h-2.64z"/><path class="e6o" d="M585.49 238.82h5.28v5.6h-5.28z"/><path class="e6c" d="M588.13 238.82h2.64v5.6h-2.64z"/><path class="e6o" d="M588.13 238.64h5.28v5.6h-5.28z"/><path class="e6c" d="M590.77 238.64h2.64v5.6h-2.64z"/><path class="e6o" d="M590.76 238.61h5.28v5.6h-5.28z"/><path class="e6c" d="M593.4 238.61h2.64v5.6h-2.64z"/><path class="e6o" d="M593.4 238.73h5.28v5.6h-5.28z"/><path class="e6c" d="M596.04 238.73h2.64v5.6h-2.64z"/><path class="e6o" d="M596.03 238.99h5.28v5.6h-5.28z"/><path class="e6c" d="M598.67 238.99h2.64v5.6h-2.64z"/><path class="e6o" d="M598.67 239.39h5.28v5.6h-5.28z"/><path class="e6c" d="M601.31 239.39h2.64v5.6h-2.64z"/><path class="e6o" d="M601.3 239.94h5.28v5.6h-5.28z"/><path class="e6c" d="M603.94 239.94h2.64v5.6h-2.64z"/><path class="e6o" d="M603.94 240.62h5.28v5.6h-5.28z"/><path class="e6c" d="M606.58 240.62h2.64v5.6h-2.64z"/><path class="e6o" d="M606.57 241.44h5.28v5.6h-5.28z"/><path class="e6c" d="M609.21 241.44h2.64v5.6h-2.64z"/><path class="e6o" d="M609.21 242.4h5.28v5.6h-5.28z"/><path class="e6c" d="M611.85 242.4h2.64v5.6h-2.64z"/><path class="e6o" d="M611.84 243.49h5.28v5.6h-5.28z"/><path class="e6c" d="M614.48 243.49h2.64v5.6h-2.64z"/><path class="e6o" d="M614.48 244.71h5.28v5.6h-5.28z"/><path class="e6c" d="M617.12 244.71h2.64v5.6h-2.64z"/><path class="e6o" d="M617.11 246.06h5.28v5.6h-5.28z"/><path class="e6c" d="M619.75 246.06h2.64v5.6h-2.64z"/><path class="e6o" d="M619.75 247.54h5.28v5.6h-5.28z"/><path class="e6c" d="M622.39 247.54h2.64v5.6h-2.64z"/><path class="e6o" d="M622.38 249.15h5.28v5.6h-5.28z"/><path class="e6c" d="M625.02 249.15h2.64v5.6h-2.64z"/><path class="e6o" d="M625.02 250.88h5.28v5.6h-5.28z"/><path class="e6c" d="M627.66 250.88h2.64v5.6h-2.64z"/><path class="e6o" d="M627.66 252.73h5.28v5.6h-5.28z"/><path class="e6c" d="M630.3 252.73h2.64v5.6h-2.64z"/><path class="e6o" d="M630.29 254.7h5.28v5.6h-5.28z"/><path class="e6c" d="M632.93 254.7h2.64v5.6h-2.64z"/><path class="e6o" d="M632.93 256.8h5.28v5.6h-5.28z"/><path class="e6c" d="M635.57 256.8h2.64v5.6h-2.64z"/><path class="e6o" d="M635.56 259.01h5.28v5.6h-5.28z"/><path class="e6c" d="M638.2 259.01h2.64v5.6h-2.64z"/><g stroke="#8c5a38" stroke-width="0.8" fill="none"><path d="M551.24 263.79L553.87 261.23" stroke-opacity="0.06"/><path d="M553.87 261.23L556.51 258.86" stroke-opacity="0.20"/><path d="M556.51 258.86L559.14 256.68" stroke-opacity="0.34"/><path d="M559.14 256.67L561.78 254.67" stroke-opacity="0.48"/><path d="M561.78 254.66L564.41 252.84" stroke-opacity="0.62"/><path d="M564.41 252.83L567.05 251.19" stroke-opacity="0.75"/><path d="M567.05 251.16L569.69 249.69" stroke-opacity="0.88"/><path d="M569.69 249.65L572.32 248.35" stroke-opacity="1.00"/><path d="M572.32 248.29L574.96 247.16" stroke-opacity="1.00"/><path d="M574.96 247.07L577.59 246.1" stroke-opacity="1.00"/><path d="M577.59 245.96L580.23 245.15" stroke-opacity="1.00"/><path d="M580.23 244.94L582.86 244.29" stroke-opacity="1.00"/><path d="M582.86 243.99L585.5 243.5" stroke-opacity="1.00"/><path d="M585.5 243.1L588.13 242.77" stroke-opacity="1.00"/><path d="M588.13 242.28L590.77 242.1" stroke-opacity="1.00"/><path d="M590.77 241.56L593.4 241.53" stroke-opacity="1.00"/><path d="M593.4 240.98L596.04 241.1" stroke-opacity="1.00"/><path d="M596.04 240.6L598.67 240.86" stroke-opacity="1.00"/><path d="M598.67 240.45L601.31 240.85" stroke-opacity="1.00"/><path d="M601.31 240.53L603.94 241.07" stroke-opacity="1.00"/><path d="M603.94 240.83L606.58 241.52" stroke-opacity="1.00"/><path d="M606.58 241.35L609.21 242.17" stroke-opacity="1.00"/><path d="M609.21 242.05L611.85 243" stroke-opacity="1.00"/><path d="M611.85 242.92L614.48 244.01" stroke-opacity="1.00"/><path d="M614.48 243.96L617.12 245.18" stroke-opacity="1.00"/><path d="M617.12 245.14L619.75 246.49" stroke-opacity="0.97"/><path d="M619.75 246.47L622.39 247.95" stroke-opacity="0.88"/><path d="M622.39 247.93L625.02 249.53" stroke-opacity="0.78"/><path d="M625.02 249.52L627.66 251.25" stroke-opacity="0.69"/><path d="M627.66 251.24L630.3 253.1" stroke-opacity="0.59"/><path d="M630.3 253.09L632.93 255.07" stroke-opacity="0.50"/><path d="M632.93 255.06L635.57 257.16" stroke-opacity="0.41"/><path d="M635.57 257.15L638.2 259.37" stroke-opacity="0.32"/></g><path class="e7o" d="M498.53 348.29h5.28v5.6h-5.28z"/><path class="e7c" d="M501.17 348.29h2.64v5.6h-2.64z"/><path class="e7o" d="M501.16 341.16h5.28v5.6h-5.28z"/><path class="e7c" d="M503.8 341.16h2.64v5.6h-2.64z"/><path class="e7o" d="M503.8 334.31h5.28v5.6h-5.28z"/><path class="e7c" d="M506.44 334.31h2.64v5.6h-2.64z"/><path class="e7o" d="M506.43 327.72h5.28v5.6h-5.28z"/><path class="e7c" d="M509.07 327.72h2.64v5.6h-2.64z"/><path class="e7o" d="M509.07 321.4h5.28v5.6h-5.28z"/><path class="e7c" d="M511.71 321.4h2.64v5.6h-2.64z"/><path class="e7o" d="M511.71 315.34h5.28v5.6h-5.28z"/><path class="e7c" d="M514.35 315.34h2.64v5.6h-2.64z"/><path class="e7o" d="M514.34 309.52h5.28v5.6h-5.28z"/><path class="e7c" d="M516.98 309.52h2.64v5.6h-2.64z"/><path class="e7o" d="M516.98 303.95h5.28v5.6h-5.28z"/><path class="e7c" d="M519.62 303.95h2.64v5.6h-2.64z"/><path class="e7o" d="M519.61 298.62h5.28v5.6h-5.28z"/><path class="e7c" d="M522.25 298.62h2.64v5.6h-2.64z"/><path class="e7o" d="M522.25 293.51h5.28v5.6h-5.28z"/><path class="e7c" d="M524.89 293.51h2.64v5.6h-2.64z"/><path class="e7o" d="M524.88 288.64h5.28v5.6h-5.28z"/><path class="e7c" d="M527.52 288.64h2.64v5.6h-2.64z"/><path class="e7o" d="M527.52 283.99h5.28v5.6h-5.28z"/><path class="e7c" d="M530.16 283.99h2.64v5.6h-2.64z"/><path class="e7o" d="M530.15 279.56h5.28v5.6h-5.28z"/><path class="e7c" d="M532.79 279.56h2.64v5.6h-2.64z"/><path class="e7o" d="M532.79 275.34h5.28v5.6h-5.28z"/><path class="e7c" d="M535.43 275.34h2.64v5.6h-2.64z"/><path class="e7o" d="M535.42 271.32h5.28v5.6h-5.28z"/><path class="e7c" d="M538.06 271.32h2.64v5.6h-2.64z"/><path class="e7o" d="M538.06 267.51h5.28v5.6h-5.28z"/><path class="e7c" d="M540.7 267.51h2.64v5.6h-2.64z"/><path class="e7o" d="M540.69 263.9h5.28v5.6h-5.28z"/><path class="e7c" d="M543.33 263.9h2.64v5.6h-2.64z"/><path class="e7o" d="M543.33 260.48h5.28v5.6h-5.28z"/><path class="e7c" d="M545.97 260.48h2.64v5.6h-2.64z"/><path class="e7o" d="M545.96 257.26h5.28v5.6h-5.28z"/><path class="e7c" d="M548.6 257.26h2.64v5.6h-2.64z"/><path class="e7o" d="M548.6 254.22h5.28v5.6h-5.28z"/><path class="e7c" d="M551.24 254.22h2.64v5.6h-2.64z"/><path class="e7o" d="M551.23 251.37h5.28v5.6h-5.28z"/><path class="e7c" d="M553.87 251.37h2.64v5.6h-2.64z"/><path class="e7o" d="M553.87 248.69h5.28v5.6h-5.28z"/><path class="e7c" d="M556.51 248.69h2.64v5.6h-2.64z"/><path class="e7o" d="M556.5 246.19h5.28v5.6h-5.28z"/><path class="e7c" d="M559.14 246.19h2.64v5.6h-2.64z"/><path class="e7o" d="M559.14 243.87h5.28v5.6h-5.28z"/><path class="e7c" d="M561.78 243.87h2.64v5.6h-2.64z"/><path class="e7o" d="M561.77 241.71h5.28v5.6h-5.28z"/><path class="e7c" d="M564.41 241.71h2.64v5.6h-2.64z"/><path class="e7o" d="M564.41 239.72h5.28v5.6h-5.28z"/><path class="e7c" d="M567.05 239.72h2.64v5.6h-2.64z"/><path class="e7o" d="M567.05 237.89h5.28v5.6h-5.28z"/><path class="e7c" d="M569.69 237.89h2.64v5.6h-2.64z"/><path class="e7o" d="M569.68 236.23h5.28v5.6h-5.28z"/><path class="e7c" d="M572.32 236.23h2.64v5.6h-2.64z"/><path class="e7o" d="M572.32 234.72h5.28v5.6h-5.28z"/><path class="e7c" d="M574.96 234.72h2.64v5.6h-2.64z"/><path class="e7o" d="M574.95 233.37h5.28v5.6h-5.28z"/><path class="e7c" d="M577.59 233.37h2.64v5.6h-2.64z"/><path class="e7o" d="M577.59 232.17h5.28v5.6h-5.28z"/><path class="e7c" d="M580.23 232.17h2.64v5.6h-2.64z"/><path class="e7o" d="M580.22 231.11h5.28v5.6h-5.28z"/><path class="e7c" d="M582.86 231.11h2.64v5.6h-2.64z"/><path class="e7o" d="M582.86 230.21h5.28v5.6h-5.28z"/><path class="e7c" d="M585.5 230.21h2.64v5.6h-2.64z"/><path class="e7o" d="M585.49 229.45h5.28v5.6h-5.28z"/><path class="e7c" d="M588.13 229.45h2.64v5.6h-2.64z"/><path class="e7o" d="M588.13 228.84h5.28v5.6h-5.28z"/><path class="e7c" d="M590.77 228.84h2.64v5.6h-2.64z"/><path class="e7o" d="M590.76 228.36h5.28v5.6h-5.28z"/><path class="e7c" d="M593.4 228.36h2.64v5.6h-2.64z"/><path class="e7o" d="M593.4 228.02h5.28v5.6h-5.28z"/><path class="e7c" d="M596.04 228.02h2.64v5.6h-2.64z"/><path class="e7o" d="M596.03 227.82h5.28v5.6h-5.28z"/><path class="e7c" d="M598.67 227.82h2.64v5.6h-2.64z"/><path class="e7o" d="M598.67 227.75h5.28v5.6h-5.28z"/><path class="e7c" d="M601.31 227.75h2.64v5.6h-2.64z"/><path class="e7o" d="M601.3 227.82h5.28v5.6h-5.28z"/><path class="e7c" d="M603.94 227.82h2.64v5.6h-2.64z"/><path class="e7o" d="M603.94 228.01h5.28v5.6h-5.28z"/><path class="e7c" d="M606.58 228.01h2.64v5.6h-2.64z"/><path class="e7o" d="M606.57 228.33h5.28v5.6h-5.28z"/><path class="e7c" d="M609.21 228.33h2.64v5.6h-2.64z"/><path class="e7o" d="M609.21 228.78h5.28v5.6h-5.28z"/><path class="e7c" d="M611.85 228.78h2.64v5.6h-2.64z"/><path class="e7o" d="M611.84 229.35h5.28v5.6h-5.28z"/><path class="e7c" d="M614.48 229.35h2.64v5.6h-2.64z"/><path class="e7o" d="M614.48 230.05h5.28v5.6h-5.28z"/><path class="e7c" d="M617.12 230.05h2.64v5.6h-2.64z"/><path class="e7o" d="M617.11 230.87h5.28v5.6h-5.28z"/><path class="e7c" d="M619.75 230.87h2.64v5.6h-2.64z"/><path class="e7o" d="M619.75 231.8h5.28v5.6h-5.28z"/><path class="e7c" d="M622.39 231.8h2.64v5.6h-2.64z"/><path class="e7o" d="M622.38 232.86h5.28v5.6h-5.28z"/><path class="e7c" d="M625.02 232.86h2.64v5.6h-2.64z"/><path class="e7o" d="M625.02 234.03h5.28v5.6h-5.28z"/><path class="e7c" d="M627.66 234.03h2.64v5.6h-2.64z"/><path class="e7o" d="M627.66 235.32h5.28v5.6h-5.28z"/><path class="e7c" d="M630.3 235.32h2.64v5.6h-2.64z"/><path class="e7o" d="M630.29 236.72h5.28v5.6h-5.28z"/><path class="e7c" d="M632.93 236.72h2.64v5.6h-2.64z"/><path class="e7o" d="M632.93 238.24h5.28v5.6h-5.28z"/><path class="e7c" d="M635.57 238.24h2.64v5.6h-2.64z"/><path class="e7o" d="M635.56 239.86h5.28v5.6h-5.28z"/><path class="e7c" d="M638.2 239.86h2.64v5.6h-2.64z"/><path class="e7o" d="M638.2 241.6h5.28v5.6h-5.28z"/><path class="e7c" d="M640.84 241.6h2.64v5.6h-2.64z"/><path class="e7o" d="M640.83 243.44h5.28v5.6h-5.28z"/><path class="e7c" d="M643.47 243.44h2.64v5.6h-2.64z"/><path class="e7o" d="M643.47 245.39h5.28v5.6h-5.28z"/><path class="e7c" d="M646.11 245.39h2.64v5.6h-2.64z"/><path class="e7o" d="M646.1 247.45h5.28v5.6h-5.28z"/><path class="e7c" d="M648.74 247.45h2.64v5.6h-2.64z"/><g stroke="#b8b81c" stroke-width="0.8" fill="none"><path d="M556.51 253.94L559.14 251.44" stroke-opacity="0.10"/><path d="M559.14 251.44L561.78 249.11" stroke-opacity="0.23"/><path d="M561.78 249.11L564.41 246.95" stroke-opacity="0.36"/><path d="M564.41 246.95L567.05 244.96" stroke-opacity="0.49"/><path d="M567.05 244.95L569.69 243.12" stroke-opacity="0.61"/><path d="M569.69 243.11L572.32 241.45" stroke-opacity="0.74"/><path d="M572.32 241.43L574.96 239.92" stroke-opacity="0.86"/><path d="M574.96 239.89L577.59 238.54" stroke-opacity="0.97"/><path d="M577.59 238.49L580.23 237.29" stroke-opacity="1.00"/><path d="M580.23 237.22L582.86 236.17" stroke-opacity="1.00"/><path d="M582.86 236.07L585.5 235.16" stroke-opacity="1.00"/><path d="M585.5 235.02L588.13 234.26" stroke-opacity="1.00"/><path d="M588.13 234.05L590.77 233.43" stroke-opacity="1.00"/><path d="M590.77 233.15L593.4 232.68" stroke-opacity="1.00"/><path d="M593.4 232.32L596.04 231.98" stroke-opacity="1.00"/><path d="M596.04 231.55L598.67 231.35" stroke-opacity="1.00"/><path d="M598.67 230.87L601.31 230.8" stroke-opacity="1.00"/><path d="M601.31 230.31L603.94 230.38" stroke-opacity="1.00"/><path d="M603.94 229.91L606.58 230.11" stroke-opacity="1.00"/><path d="M606.58 229.7L609.21 230.02" stroke-opacity="1.00"/><path d="M609.21 229.68L611.85 230.13" stroke-opacity="1.00"/><path d="M611.85 229.86L614.48 230.43" stroke-opacity="1.00"/><path d="M614.48 230.23L617.12 230.93" stroke-opacity="1.00"/><path d="M617.12 230.78L619.75 231.6" stroke-opacity="1.00"/><path d="M619.75 231.49L622.39 232.42" stroke-opacity="1.00"/><path d="M622.39 232.35L625.02 233.4" stroke-opacity="1.00"/><path d="M625.02 233.35L627.66 234.52" stroke-opacity="1.00"/><path d="M627.66 234.48L630.3 235.77" stroke-opacity="1.00"/><path d="M630.3 235.74L632.93 237.14" stroke-opacity="0.94"/><path d="M632.93 237.12L635.57 238.64" stroke-opacity="0.85"/><path d="M635.57 238.62L638.2 240.25" stroke-opacity="0.77"/><path d="M638.2 240.24L640.84 241.97" stroke-opacity="0.68"/><path d="M640.84 241.97L643.47 243.81" stroke-opacity="0.60"/><path d="M643.47 243.8L646.11 245.76" stroke-opacity="0.52"/><path d="M646.11 245.75L648.74 247.81" stroke-opacity="0.44"/></g><path class="e8o" d="M498.53 347.68h5.28v5.6h-5.28z"/><path class="e8c" d="M501.17 347.68h2.64v5.6h-2.64z"/><path class="e8o" d="M501.16 340h5.28v5.6h-5.28z"/><path class="e8c" d="M503.8 340h2.64v5.6h-2.64z"/><path class="e8o" d="M503.8 332.65h5.28v5.6h-5.28z"/><path class="e8c" d="M506.44 332.65h2.64v5.6h-2.64z"/><path class="e8o" d="M506.43 325.62h5.28v5.6h-5.28z"/><path class="e8c" d="M509.07 325.62h2.64v5.6h-2.64z"/><path class="e8o" d="M509.07 318.9h5.28v5.6h-5.28z"/><path class="e8c" d="M511.71 318.9h2.64v5.6h-2.64z"/><path class="e8o" d="M511.71 312.46h5.28v5.6h-5.28z"/><path class="e8c" d="M514.35 312.46h2.64v5.6h-2.64z"/><path class="e8o" d="M514.34 306.31h5.28v5.6h-5.28z"/><path class="e8c" d="M516.98 306.31h2.64v5.6h-2.64z"/><path class="e8o" d="M516.98 300.43h5.28v5.6h-5.28z"/><path class="e8c" d="M519.62 300.43h2.64v5.6h-2.64z"/><path class="e8o" d="M519.61 294.81h5.28v5.6h-5.28z"/><path class="e8c" d="M522.25 294.81h2.64v5.6h-2.64z"/><path class="e8o" d="M522.25 289.45h5.28v5.6h-5.28z"/><path class="e8c" d="M524.89 289.45h2.64v5.6h-2.64z"/><path class="e8o" d="M524.88 284.33h5.28v5.6h-5.28z"/><path class="e8c" d="M527.52 284.33h2.64v5.6h-2.64z"/><path class="e8o" d="M527.52 279.44h5.28v5.6h-5.28z"/><path class="e8c" d="M530.16 279.44h2.64v5.6h-2.64z"/><path class="e8o" d="M530.15 274.79h5.28v5.6h-5.28z"/><path class="e8c" d="M532.79 274.79h2.64v5.6h-2.64z"/><path class="e8o" d="M532.79 270.35h5.28v5.6h-5.28z"/><path class="e8c" d="M535.43 270.35h2.64v5.6h-2.64z"/><path class="e8o" d="M535.42 266.13h5.28v5.6h-5.28z"/><path class="e8c" d="M538.06 266.13h2.64v5.6h-2.64z"/><path class="e8o" d="M538.06 262.12h5.28v5.6h-5.28z"/><path class="e8c" d="M540.7 262.12h2.64v5.6h-2.64z"/><path class="e8o" d="M540.69 258.31h5.28v5.6h-5.28z"/><path class="e8c" d="M543.33 258.31h2.64v5.6h-2.64z"/><path class="e8o" d="M543.33 254.7h5.28v5.6h-5.28z"/><path class="e8c" d="M545.97 254.7h2.64v5.6h-2.64z"/><path class="e8o" d="M545.96 251.27h5.28v5.6h-5.28z"/><path class="e8c" d="M548.6 251.27h2.64v5.6h-2.64z"/><path class="e8o" d="M548.6 248.03h5.28v5.6h-5.28z"/><path class="e8c" d="M551.24 248.03h2.64v5.6h-2.64z"/><path class="e8o" d="M551.23 244.97h5.28v5.6h-5.28z"/><path class="e8c" d="M553.87 244.97h2.64v5.6h-2.64z"/><path class="e8o" d="M553.87 242.08h5.28v5.6h-5.28z"/><path class="e8c" d="M556.51 242.08h2.64v5.6h-2.64z"/><path class="e8o" d="M556.5 239.36h5.28v5.6h-5.28z"/><path class="e8c" d="M559.14 239.36h2.64v5.6h-2.64z"/><path class="e8o" d="M559.14 236.81h5.28v5.6h-5.28z"/><path class="e8c" d="M561.78 236.81h2.64v5.6h-2.64z"/><path class="e8o" d="M561.77 234.42h5.28v5.6h-5.28z"/><path class="e8c" d="M564.41 234.42h2.64v5.6h-2.64z"/><path class="e8o" d="M564.41 232.18h5.28v5.6h-5.28z"/><path class="e8c" d="M567.05 232.18h2.64v5.6h-2.64z"/><path class="e8o" d="M567.05 230.1h5.28v5.6h-5.28z"/><path class="e8c" d="M569.69 230.1h2.64v5.6h-2.64z"/><path class="e8o" d="M569.68 228.17h5.28v5.6h-5.28z"/><path class="e8c" d="M572.32 228.17h2.64v5.6h-2.64z"/><path class="e8o" d="M572.32 226.38h5.28v5.6h-5.28z"/><path class="e8c" d="M574.96 226.38h2.64v5.6h-2.64z"/><path class="e8o" d="M574.95 224.74h5.28v5.6h-5.28z"/><path class="e8c" d="M577.59 224.74h2.64v5.6h-2.64z"/><path class="e8o" d="M577.59 223.24h5.28v5.6h-5.28z"/><path class="e8c" d="M580.23 223.24h2.64v5.6h-2.64z"/><path class="e8o" d="M580.22 221.87h5.28v5.6h-5.28z"/><path class="e8c" d="M582.86 221.87h2.64v5.6h-2.64z"/><path class="e8o" d="M582.86 220.63h5.28v5.6h-5.28z"/><path class="e8c" d="M585.5 220.63h2.64v5.6h-2.64z"/><path class="e8o" d="M585.49 219.53h5.28v5.6h-5.28z"/><path class="e8c" d="M588.13 219.53h2.64v5.6h-2.64z"/><path class="e8o" d="M588.13 218.56h5.28v5.6h-5.28z"/><path class="e8c" d="M590.77 218.56h2.64v5.6h-2.64z"/><path class="e8o" d="M590.76 217.71h5.28v5.6h-5.28z"/><path class="e8c" d="M593.4 217.71h2.64v5.6h-2.64z"/><path class="e8o" d="M593.4 216.98h5.28v5.6h-5.28z"/><path class="e8c" d="M596.04 216.98h2.64v5.6h-2.64z"/><path class="e8o" d="M596.03 216.38h5.28v5.6h-5.28z"/><path class="e8c" d="M598.67 216.38h2.64v5.6h-2.64z"/><path class="e8o" d="M598.67 215.89h5.28v5.6h-5.28z"/><path class="e8c" d="M601.31 215.89h2.64v5.6h-2.64z"/><path class="e8o" d="M601.3 215.52h5.28v5.6h-5.28z"/><path class="e8c" d="M603.94 215.52h2.64v5.6h-2.64z"/><path class="e8o" d="M603.94 215.27h5.28v5.6h-5.28z"/><path class="e8c" d="M606.58 215.27h2.64v5.6h-2.64z"/><path class="e8o" d="M606.57 215.13h5.28v5.6h-5.28z"/><path class="e8c" d="M609.21 215.13h2.64v5.6h-2.64z"/><path class="e8o" d="M609.21 215.1h5.28v5.6h-5.28z"/><path class="e8c" d="M611.85 215.1h2.64v5.6h-2.64z"/><path class="e8o" d="M611.84 215.18h5.28v5.6h-5.28z"/><path class="e8c" d="M614.48 215.18h2.64v5.6h-2.64z"/><path class="e8o" d="M614.48 215.37h5.28v5.6h-5.28z"/><path class="e8c" d="M617.12 215.37h2.64v5.6h-2.64z"/><path class="e8o" d="M617.11 215.67h5.28v5.6h-5.28z"/><path class="e8c" d="M619.75 215.67h2.64v5.6h-2.64z"/><path class="e8o" d="M619.75 216.07h5.28v5.6h-5.28z"/><path class="e8c" d="M622.39 216.07h2.64v5.6h-2.64z"/><path class="e8o" d="M622.38 216.57h5.28v5.6h-5.28z"/><path class="e8c" d="M625.02 216.57h2.64v5.6h-2.64z"/><path class="e8o" d="M625.02 217.18h5.28v5.6h-5.28z"/><path class="e8c" d="M627.66 217.18h2.64v5.6h-2.64z"/><path class="e8o" d="M627.66 217.88h5.28v5.6h-5.28z"/><path class="e8c" d="M630.3 217.88h2.64v5.6h-2.64z"/><path class="e8o" d="M630.29 218.69h5.28v5.6h-5.28z"/><path class="e8c" d="M632.93 218.69h2.64v5.6h-2.64z"/><path class="e8o" d="M632.93 219.6h5.28v5.6h-5.28z"/><path class="e8c" d="M635.57 219.6h2.64v5.6h-2.64z"/><path class="e8o" d="M635.56 220.6h5.28v5.6h-5.28z"/><path class="e8c" d="M638.2 220.6h2.64v5.6h-2.64z"/><path class="e8o" d="M638.2 221.7h5.28v5.6h-5.28z"/><path class="e8c" d="M640.84 221.7h2.64v5.6h-2.64z"/><path class="e8o" d="M640.83 222.9h5.28v5.6h-5.28z"/><path class="e8c" d="M643.47 222.9h2.64v5.6h-2.64z"/><path class="e8o" d="M643.47 224.19h5.28v5.6h-5.28z"/><path class="e8c" d="M646.11 224.19h2.64v5.6h-2.64z"/><path class="e8o" d="M646.1 225.57h5.28v5.6h-5.28z"/><path class="e8c" d="M648.74 225.57h2.64v5.6h-2.64z"/><path class="e8o" d="M648.74 227.05h5.28v5.6h-5.28z"/><path class="e8c" d="M651.38 227.05h2.64v5.6h-2.64z"/><path class="e8o" d="M651.37 228.62h5.28v5.6h-5.28z"/><path class="e8c" d="M654.01 228.62h2.64v5.6h-2.64z"/><path class="e8o" d="M654.01 230.29h5.28v5.6h-5.28z"/><path class="e8c" d="M656.65 230.29h2.64v5.6h-2.64z"/><path class="e8o" d="M656.64 232.04h5.28v5.6h-5.28z"/><path class="e8c" d="M659.28 232.04h2.64v5.6h-2.64z"/><path class="e8o" d="M659.28 233.89h5.28v5.6h-5.28z"/><path class="e8c" d="M661.92 233.89h2.64v5.6h-2.64z"/><path class="e8o" d="M661.91 235.82h5.28v5.6h-5.28z"/><path class="e8c" d="M664.55 235.82h2.64v5.6h-2.64z"/><g stroke="#e25560" stroke-width="0.8" fill="none"><path d="M559.14 244.61L561.78 242.06" stroke-opacity="0.06"/><path d="M561.78 242.06L564.41 239.66" stroke-opacity="0.18"/><path d="M564.41 239.66L567.05 237.43" stroke-opacity="0.30"/><path d="M567.05 237.42L569.69 235.34" stroke-opacity="0.42"/><path d="M569.69 235.34L572.32 233.4" stroke-opacity="0.53"/><path d="M572.32 233.4L574.96 231.61" stroke-opacity="0.64"/><path d="M574.96 231.6L577.59 229.96" stroke-opacity="0.75"/><path d="M577.59 229.94L580.23 228.43" stroke-opacity="0.86"/><path d="M580.23 228.41L582.86 227.04" stroke-opacity="0.96"/><path d="M582.86 227L585.5 225.77" stroke-opacity="1.00"/><path d="M585.5 225.72L588.13 224.61" stroke-opacity="1.00"/><path d="M588.13 224.54L590.77 223.56" stroke-opacity="1.00"/><path d="M590.77 223.46L593.4 222.61" stroke-opacity="1.00"/><path d="M593.4 222.47L596.04 221.74" stroke-opacity="1.00"/><path d="M596.04 221.56L598.67 220.95" stroke-opacity="1.00"/><path d="M598.67 220.71L601.31 220.23" stroke-opacity="1.00"/><path d="M601.31 219.94L603.94 219.57" stroke-opacity="1.00"/><path d="M603.94 219.22L606.58 218.97" stroke-opacity="1.00"/><path d="M606.58 218.58L609.21 218.44" stroke-opacity="1.00"/><path d="M609.21 218.04L611.85 218.01" stroke-opacity="1.00"/><path d="M611.85 217.6L614.48 217.68" stroke-opacity="1.00"/><path d="M614.48 217.3L617.12 217.49" stroke-opacity="1.00"/><path d="M617.12 217.14L619.75 217.44" stroke-opacity="1.00"/><path d="M619.75 217.14L622.39 217.54" stroke-opacity="1.00"/><path d="M622.39 217.29L625.02 217.79" stroke-opacity="1.00"/><path d="M625.02 217.59L627.66 218.2" stroke-opacity="1.00"/><path d="M627.66 218.04L630.3 218.75" stroke-opacity="1.00"/><path d="M630.3 218.62L632.93 219.43" stroke-opacity="1.00"/><path d="M632.93 219.33L635.57 220.24" stroke-opacity="1.00"/><path d="M635.57 220.17L638.2 221.17" stroke-opacity="1.00"/><path d="M638.2 221.12L640.84 222.22" stroke-opacity="1.00"/><path d="M640.84 222.18L643.47 223.37" stroke-opacity="1.00"/><path d="M643.47 223.34L646.11 224.63" stroke-opacity="1.00"/><path d="M646.11 224.61L648.74 225.99" stroke-opacity="0.95"/><path d="M648.74 225.98L651.38 227.46" stroke-opacity="0.88"/><path d="M651.38 227.44L654.01 229.01" stroke-opacity="0.81"/><path d="M654.01 229L656.65 230.67" stroke-opacity="0.74"/><path d="M656.65 230.66L659.28 232.41" stroke-opacity="0.67"/><path d="M659.28 232.41L661.92 234.25" stroke-opacity="0.60"/><path d="M661.92 234.25L664.55 236.18" stroke-opacity="0.53"/></g><text x="655" y="283" text-anchor="middle" class="lg8"><tspan font-style="italic">ΔT</tspan> (K)</text><path d="M641.4 290.4H655" stroke="#df6072" stroke-width="0.9"/><rect x="645.5" y="287.4" width="2.8" height="6" fill="#fff"/><rect x="648.3" y="287.4" width="2.8" height="6" fill="#d8394f"/><rect x="645.5" y="287.4" width="5.6" height="6" fill="none" stroke="#f7d7db" stroke-width="0.7"/><text x="668.3" y="292.7" text-anchor="end" class="lg6">130</text><path d="M641.4 298.19H655" stroke="#f79743" stroke-width="0.9"/><rect x="645.5" y="295.19" width="2.8" height="6" fill="#fff"/><rect x="648.3" y="295.19" width="2.8" height="6" fill="#f57d15"/><rect x="645.5" y="295.19" width="5.6" height="6" fill="none" stroke="#fde5d0" stroke-width="0.7"/><text x="668.3" y="300.49" text-anchor="end" class="lg6">180</text><path d="M641.4 305.98H655" stroke="#589758" stroke-width="0.9"/><rect x="645.5" y="302.98" width="2.8" height="6" fill="#fff"/><rect x="648.3" y="302.98" width="2.8" height="6" fill="#2f7d2f"/><rect x="645.5" y="302.98" width="5.6" height="6" fill="none" stroke="#d5e5d5" stroke-width="0.7"/><text x="668.3" y="308.28" text-anchor="end" class="lg6">230</text><path d="M641.4 313.77H655" stroke="#63cbab" stroke-width="0.9"/><rect x="645.5" y="310.77" width="2.8" height="6" fill="#fff"/><rect x="648.3" y="310.77" width="2.8" height="6" fill="#3dbf96"/><rect x="645.5" y="310.77" width="5.6" height="6" fill="none" stroke="#d8f2ea" stroke-width="0.7"/><text x="668.3" y="316.07" text-anchor="end" class="lg6">280</text><path d="M641.4 321.56H655" stroke="#4b99dc" stroke-width="0.9"/><rect x="645.5" y="318.56" width="2.8" height="6" fill="#fff"/><rect x="648.3" y="318.56" width="2.8" height="6" fill="#1f80d4"/><rect x="645.5" y="318.56" width="5.6" height="6" fill="none" stroke="#d2e5f6" stroke-width="0.7"/><text x="668.3" y="323.86" text-anchor="end" class="lg6">330</text><path d="M641.4 329.35H655" stroke="#ba9cdf" stroke-width="0.9"/><rect x="645.5" y="326.35" width="2.8" height="6" fill="#fff"/><rect x="648.3" y="326.35" width="2.8" height="6" fill="#a984d8"/><rect x="645.5" y="326.35" width="5.6" height="6" fill="none" stroke="#ede6f7" stroke-width="0.7"/><text x="668.3" y="331.65" text-anchor="end" class="lg6">380</text><path d="M641.4 337.14H655" stroke="#a37b5f" stroke-width="0.9"/><rect x="645.5" y="334.14" width="2.8" height="6" fill="#fff"/><rect x="648.3" y="334.14" width="2.8" height="6" fill="#8c5a38"/><rect x="645.5" y="334.14" width="5.6" height="6" fill="none" stroke="#e8ded7" stroke-width="0.7"/><text x="668.3" y="339.44" text-anchor="end" class="lg6">430</text><path d="M641.4 344.93H655" stroke="#c6c649" stroke-width="0.9"/><rect x="645.5" y="341.93" width="2.8" height="6" fill="#fff"/><rect x="648.3" y="341.93" width="2.8" height="6" fill="#b8b81c"/><rect x="645.5" y="341.93" width="5.6" height="6" fill="none" stroke="#f0f0d1" stroke-width="0.7"/><text x="668.3" y="347.23" text-anchor="end" class="lg6">480</text><path d="M641.4 352.72H655" stroke="#e7777f" stroke-width="0.9"/><rect x="645.5" y="349.72" width="2.8" height="6" fill="#fff"/><rect x="648.3" y="349.72" width="2.8" height="6" fill="#e25560"/><rect x="645.5" y="349.72" width="5.6" height="6" fill="none" stroke="#f9dddf" stroke-width="0.7"/><text x="668.3" y="355.02" text-anchor="end" class="lg6">540</text></svg>
</body></html>
